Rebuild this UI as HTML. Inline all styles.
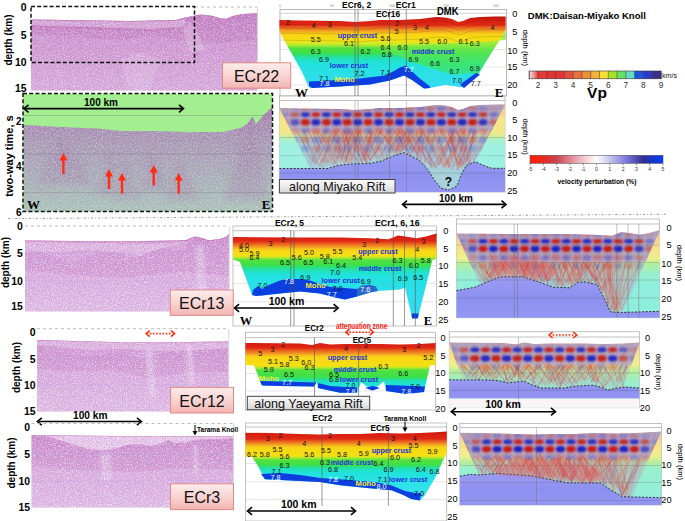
<!DOCTYPE html><html><head><meta charset="utf-8"><style>html,body{margin:0;padding:0;background:#fff;overflow:hidden}svg{display:block}</style></head><body><svg width="685" height="521" viewBox="0 0 685 521"><defs><filter id="nzw" x="0" y="0" width="100%" height="100%"><feTurbulence type="fractalNoise" baseFrequency="0.9" numOctaves="2" seed="4" result="t"/><feColorMatrix in="t" type="matrix" values="0 0 0 0 1  0 0 0 0 0.97  0 0 0 0 1  4.0 0 0 0 -1.75"/></filter><filter id="nzb" x="0" y="0" width="100%" height="100%"><feTurbulence type="fractalNoise" baseFrequency="0.9" numOctaves="1" seed="17" result="t"/><feColorMatrix in="t" type="matrix" values="0 0 0 0 0.45  0 0 0 0 0.42  0 0 0 0 0.85  0 0 4.0 0 -1.9"/></filter><filter id="nzd" x="0" y="0" width="100%" height="100%"><feTurbulence type="fractalNoise" baseFrequency="0.85" numOctaves="2" seed="9" result="t"/><feColorMatrix in="t" type="matrix" values="0 0 0 0 0.7  0 0 0 0 0.25  0 0 0 0 0.6  0 4.0 0 0 -1.85"/></filter><filter id="nzg" x="0" y="0" width="100%" height="100%"><feTurbulence type="fractalNoise" baseFrequency="0.8" numOctaves="2" seed="21" result="t"/><feColorMatrix in="t" type="matrix" values="0 0 0 0 0.62  0 0 0 0 0.86  0 0 0 0 0.7  4.0 0 0 0 -1.75"/></filter><filter id="nzp" x="0" y="0" width="100%" height="100%"><feTurbulence type="fractalNoise" baseFrequency="0.8" numOctaves="2" seed="5" result="t"/><feColorMatrix in="t" type="matrix" values="0 0 0 0 0.6  0 0 0 0 0.3  0 0 0 0 0.62  0 4.0 0 0 -1.8"/></filter><filter id="bl1" x="-20%" y="-20%" width="140%" height="140%"><feGaussianBlur stdDeviation="0.9"/></filter><filter id="bl3" x="-30%" y="-30%" width="160%" height="160%"><feGaussianBlur stdDeviation="3.5"/></filter><filter id="bl2" x="-20%" y="-20%" width="140%" height="140%"><feGaussianBlur stdDeviation="1.6"/></filter><linearGradient id="g1" gradientUnits="userSpaceOnUse" x1="0" y1="13.3" x2="0" y2="90.5"><stop offset="0" stop-color="#c47abe"/><stop offset="0.3" stop-color="#cc8ec8"/><stop offset="1" stop-color="#d8aad8"/></linearGradient><clipPath id="sc1"><polygon points="31.0,19.4 80.0,20.2 130.0,21.0 176.0,19.9 185.0,17.5 193.0,15.9 200.0,14.5 206.0,15.0 213.0,15.9 220.0,18.2 226.0,18.7 233.0,15.9 242.0,14.0 257.0,13.3 257.0,90.5 31.0,90.5"/></clipPath><linearGradient id="g2" gradientUnits="userSpaceOnUse" x1="0" y1="107.5" x2="0" y2="211"><stop offset="0" stop-color="#a06c9c"/><stop offset="0.3" stop-color="#a48eaa"/><stop offset="1" stop-color="#a4cab0"/></linearGradient><clipPath id="sc2"><polygon points="24.0,124.9 60.0,127.0 100.0,128.8 122.0,130.9 153.0,131.0 184.0,132.0 224.0,132.0 242.0,127.6 248.0,123.0 252.5,116.6 256.0,124.3 263.0,115.5 270.6,108.8 272.0,107.5 272.0,211.0 24.0,211.0"/></clipPath><linearGradient id="g3" gradientUnits="userSpaceOnUse" x1="0" y1="16" x2="0" y2="87"><stop offset="0.0" stop-color="#b01610"/><stop offset="0.056338028169014086" stop-color="#d81e10"/><stop offset="0.1267605633802817" stop-color="#e02814"/><stop offset="0.15492957746478872" stop-color="#e85a1c"/><stop offset="0.19014084507042253" stop-color="#f08a24"/><stop offset="0.22535211267605634" stop-color="#f4b420"/><stop offset="0.2605633802816901" stop-color="#f8d414"/><stop offset="0.352112676056338" stop-color="#f4e014"/><stop offset="0.38028169014084506" stop-color="#d8ec24"/><stop offset="0.4154929577464789" stop-color="#a8e830"/><stop offset="0.4507042253521127" stop-color="#54e040"/><stop offset="0.5211267605633803" stop-color="#3ce048"/><stop offset="0.5633802816901409" stop-color="#28e08c"/><stop offset="0.6197183098591549" stop-color="#20e2c8"/><stop offset="0.6901408450704225" stop-color="#22e2e0"/><stop offset="0.9859154929577465" stop-color="#34dcee"/></linearGradient><linearGradient id="g4" gradientUnits="userSpaceOnUse" x1="0" y1="42" x2="0" y2="80"><stop offset="0" stop-color="#9cec38"/><stop offset="0.25" stop-color="#5ae650"/><stop offset="0.6" stop-color="#3ce468"/><stop offset="1" stop-color="#30e0a0"/></linearGradient><linearGradient id="g5" gradientUnits="userSpaceOnUse" x1="0" y1="62.8" x2="0" y2="88.2"><stop offset="0" stop-color="#fdeceb"/><stop offset="0.5" stop-color="#f8d4d2"/><stop offset="1" stop-color="#f2b4b2"/></linearGradient><linearGradient id="g6" gradientUnits="userSpaceOnUse" x1="0" y1="104" x2="0" y2="192"><stop offset="0" stop-color="#f2b09a"/><stop offset="0.06" stop-color="#f4c690"/><stop offset="0.12" stop-color="#f6d88a"/><stop offset="0.17" stop-color="#f6e488"/><stop offset="0.33" stop-color="#f0e68a"/><stop offset="0.37" stop-color="#ccee9c"/><stop offset="0.41" stop-color="#aaf0cc"/><stop offset="0.47" stop-color="#9ef0e0"/><stop offset="1" stop-color="#9ef0e0"/></linearGradient><linearGradient id="g7" gradientUnits="userSpaceOnUse" x1="0" y1="152.6" x2="0" y2="192"><stop offset="0" stop-color="#9a9cf2"/><stop offset="0.5" stop-color="#8e90f0"/><stop offset="1" stop-color="#9496f2"/></linearGradient><clipPath id="c1"><polygon points="279.4,108.0 300.0,108.5 340.0,109.0 355.0,110.0 370.0,109.0 380.0,108.0 400.0,108.0 410.0,107.5 420.0,107.0 428.0,106.0 436.0,105.0 445.0,105.5 452.0,107.0 458.0,110.0 463.0,109.0 470.0,106.0 480.0,105.0 495.0,104.5 505.0,104.5 475.7,161.8 475.6,161.8 466.4,165.3 461.8,173.3 457.0,186.0 449.0,190.0 441.0,188.3 434.2,180.0 427.3,168.7 418.0,159.5 404.2,152.6 394.0,155.7 381.0,161.2 370.0,163.4 352.0,163.9 339.0,165.2 328.0,168.5 309.9,168.5"/></clipPath><linearGradient id="g8" gradientUnits="userSpaceOnUse" x1="0" y1="104" x2="0" y2="131"><stop offset="0" stop-color="#a09ec8"/><stop offset="0.75" stop-color="#a6a2c8"/><stop offset="1" stop-color="#b4aed0"/></linearGradient><linearGradient id="g9" gradientUnits="userSpaceOnUse" x1="0" y1="179.5" x2="0" y2="193"><stop offset="0" stop-color="#fafafa"/><stop offset="0.5" stop-color="#ececec"/><stop offset="1" stop-color="#d4d4d4"/></linearGradient><linearGradient id="g10" gradientUnits="userSpaceOnUse" x1="529.2" y1="0" x2="537.9866666666667" y2="0"><stop offset="0" stop-color="#f8e8e8"/><stop offset="1" stop-color="#e84444"/></linearGradient><linearGradient id="g11" gradientUnits="userSpaceOnUse" x1="530" y1="0" x2="663" y2="0"><stop offset="0" stop-color="#ff1c0c"/><stop offset="0.1" stop-color="#e82a1c"/><stop offset="0.2" stop-color="#c84450"/><stop offset="0.35" stop-color="#eaa8b0"/><stop offset="0.5" stop-color="#ffffff"/><stop offset="0.6" stop-color="#c4c4ec"/><stop offset="0.72" stop-color="#7c7ce0"/><stop offset="0.85" stop-color="#303090"/><stop offset="0.92" stop-color="#1a36c8"/><stop offset="1" stop-color="#0040ff"/></linearGradient><linearGradient id="g12" gradientUnits="userSpaceOnUse" x1="0" y1="233.7" x2="0" y2="311.5"><stop offset="0" stop-color="#cc86c8"/><stop offset="0.3" stop-color="#d8a4d8"/><stop offset="1" stop-color="#e2bee4"/></linearGradient><clipPath id="sc3"><polygon points="25.0,240.4 120.0,241.4 186.0,240.3 190.6,238.0 196.0,236.6 201.7,238.0 208.3,240.3 219.3,239.2 226.0,237.0 228.8,233.7 228.8,311.5 25.0,311.5"/></clipPath><linearGradient id="g13" gradientUnits="userSpaceOnUse" x1="0" y1="233" x2="0" y2="296"><stop offset="0.0" stop-color="#c01810"/><stop offset="0.06349206349206349" stop-color="#d81e10"/><stop offset="0.12698412698412698" stop-color="#e02814"/><stop offset="0.16666666666666666" stop-color="#e85a1c"/><stop offset="0.20634920634920634" stop-color="#f08a24"/><stop offset="0.23809523809523808" stop-color="#f4b420"/><stop offset="0.2698412698412698" stop-color="#f8d414"/><stop offset="0.36507936507936506" stop-color="#f4e014"/><stop offset="0.3968253968253968" stop-color="#a8e830"/><stop offset="0.42857142857142855" stop-color="#54e040"/><stop offset="0.5079365079365079" stop-color="#3ce048"/><stop offset="0.5555555555555556" stop-color="#28e08c"/><stop offset="0.6190476190476191" stop-color="#20e2c8"/><stop offset="0.6825396825396826" stop-color="#22e2e0"/><stop offset="1.0" stop-color="#30dcec"/></linearGradient><linearGradient id="g14" gradientUnits="userSpaceOnUse" x1="0" y1="233" x2="0" y2="318"><stop offset="0" stop-color="#f4b8a0"/><stop offset="0.08" stop-color="#f6d49a"/><stop offset="0.2" stop-color="#f6e48a"/><stop offset="0.3" stop-color="#eef08c"/><stop offset="0.36" stop-color="#b4ee9c"/><stop offset="0.48" stop-color="#98f0cc"/><stop offset="0.6" stop-color="#90eedc"/><stop offset="1" stop-color="#90eedc"/></linearGradient><linearGradient id="g15" gradientUnits="userSpaceOnUse" x1="0" y1="276.8" x2="0" y2="317.8"><stop offset="0" stop-color="#9a9cf2"/><stop offset="0.5" stop-color="#8e90f0"/><stop offset="1" stop-color="#9496f2"/></linearGradient><clipPath id="c2"><polygon points="456.5,233.5 523.5,234.0 563.5,234.0 593.5,234.7 612.1,235.7 621.5,231.9 628.9,232.9 640.0,234.7 649.4,232.9 660.0,230.1 622.5,312.4 620.0,312.5 610.4,311.8 603.2,296.2 597.2,284.7 584.0,281.8 578.0,282.3 569.6,287.8 553.3,287.2 537.2,281.4 523.3,276.8 500.3,276.8 491.0,280.3 479.9,285.1"/></clipPath><linearGradient id="g16" gradientUnits="userSpaceOnUse" x1="0" y1="230" x2="0" y2="262"><stop offset="0" stop-color="#a09ec8"/><stop offset="0.75" stop-color="#a6a2c8"/><stop offset="1" stop-color="#b4aed0"/></linearGradient><linearGradient id="g17" gradientUnits="userSpaceOnUse" x1="0" y1="290" x2="0" y2="315.4"><stop offset="0" stop-color="#fdeceb"/><stop offset="0.5" stop-color="#f8d4d2"/><stop offset="1" stop-color="#f2b4b2"/></linearGradient><linearGradient id="g18" gradientUnits="userSpaceOnUse" x1="0" y1="339.9" x2="0" y2="411.6"><stop offset="0" stop-color="#cc86c8"/><stop offset="0.3" stop-color="#d8a4d8"/><stop offset="1" stop-color="#e2bee4"/></linearGradient><clipPath id="sc4"><polygon points="37.0,339.9 130.0,342.4 186.0,342.0 228.2,341.4 228.2,411.6 37.0,411.6"/></clipPath><linearGradient id="g19" gradientUnits="userSpaceOnUse" x1="0" y1="341" x2="0" y2="394"><stop offset="0.0" stop-color="#c01810"/><stop offset="0.05660377358490566" stop-color="#d81e10"/><stop offset="0.1320754716981132" stop-color="#e02814"/><stop offset="0.16981132075471697" stop-color="#e85a1c"/><stop offset="0.22641509433962265" stop-color="#f08a24"/><stop offset="0.2641509433962264" stop-color="#f4b420"/><stop offset="0.3018867924528302" stop-color="#f8d414"/><stop offset="0.4716981132075472" stop-color="#f4e014"/><stop offset="0.5094339622641509" stop-color="#a8e830"/><stop offset="0.5471698113207547" stop-color="#54e040"/><stop offset="0.6792452830188679" stop-color="#3ce048"/><stop offset="0.7169811320754716" stop-color="#28e08c"/><stop offset="0.7735849056603774" stop-color="#20e2c8"/><stop offset="0.8490566037735849" stop-color="#22e2e0"/><stop offset="1.0" stop-color="#30dcec"/></linearGradient><linearGradient id="g20" gradientUnits="userSpaceOnUse" x1="0" y1="396.3" x2="0" y2="409.7"><stop offset="0" stop-color="#fafafa"/><stop offset="0.5" stop-color="#ececec"/><stop offset="1" stop-color="#d4d4d4"/></linearGradient><linearGradient id="g21" gradientUnits="userSpaceOnUse" x1="0" y1="342" x2="0" y2="407.8"><stop offset="0" stop-color="#f4b8a0"/><stop offset="0.1" stop-color="#f6d49a"/><stop offset="0.2" stop-color="#f6e48a"/><stop offset="0.35" stop-color="#eef08c"/><stop offset="0.45" stop-color="#b4ee9c"/><stop offset="0.6" stop-color="#98f0cc"/><stop offset="1" stop-color="#90eedc"/></linearGradient><linearGradient id="g22" gradientUnits="userSpaceOnUse" x1="0" y1="379.8" x2="0" y2="398.6"><stop offset="0" stop-color="#9a9cf2"/><stop offset="0.5" stop-color="#8e90f0"/><stop offset="1" stop-color="#9496f2"/></linearGradient><clipPath id="c3"><polygon points="449.2,342.5 503.8,343.0 515.8,344.5 523.8,342.5 533.8,344.0 548.8,343.5 563.8,343.5 583.8,343.5 603.8,344.0 623.8,343.5 639.4,342.5 623.6,387.2 617.6,388.0 608.0,390.0 600.0,387.0 593.6,385.2 575.4,386.0 565.0,388.0 541.0,388.0 532.0,385.0 523.7,381.0 515.0,382.0 508.0,383.0 500.0,381.0 489.0,380.0 462.5,379.9"/></clipPath><linearGradient id="g23" gradientUnits="userSpaceOnUse" x1="0" y1="340" x2="0" y2="365"><stop offset="0" stop-color="#a09ec8"/><stop offset="0.75" stop-color="#a6a2c8"/><stop offset="1" stop-color="#b4aed0"/></linearGradient><linearGradient id="g24" gradientUnits="userSpaceOnUse" x1="0" y1="387.4" x2="0" y2="413"><stop offset="0" stop-color="#fdeceb"/><stop offset="0.5" stop-color="#f8d4d2"/><stop offset="1" stop-color="#f2b4b2"/></linearGradient><linearGradient id="g25" gradientUnits="userSpaceOnUse" x1="0" y1="435.3" x2="0" y2="507.6"><stop offset="0" stop-color="#cc86c8"/><stop offset="0.3" stop-color="#d8a4d8"/><stop offset="1" stop-color="#e2bee4"/></linearGradient><clipPath id="sc5"><polygon points="31.5,435.3 120.0,436.0 233.0,436.4 233.0,507.6 31.5,507.6"/></clipPath><linearGradient id="g26" gradientUnits="userSpaceOnUse" x1="0" y1="483.8" x2="0" y2="509.6"><stop offset="0" stop-color="#fdeceb"/><stop offset="0.5" stop-color="#f8d4d2"/><stop offset="1" stop-color="#f2b4b2"/></linearGradient><linearGradient id="g27" gradientUnits="userSpaceOnUse" x1="0" y1="431" x2="0" y2="490"><stop offset="0.0" stop-color="#c01810"/><stop offset="0.05084745762711865" stop-color="#d81e10"/><stop offset="0.13559322033898305" stop-color="#e02814"/><stop offset="0.1694915254237288" stop-color="#e85a1c"/><stop offset="0.211864406779661" stop-color="#f08a24"/><stop offset="0.2457627118644068" stop-color="#f4b420"/><stop offset="0.2796610169491525" stop-color="#f8d414"/><stop offset="0.423728813559322" stop-color="#f4e014"/><stop offset="0.4576271186440678" stop-color="#a8e830"/><stop offset="0.4915254237288136" stop-color="#54e040"/><stop offset="0.576271186440678" stop-color="#3ce048"/><stop offset="0.6101694915254238" stop-color="#28e08c"/><stop offset="0.6610169491525424" stop-color="#20e2c8"/><stop offset="0.7288135593220338" stop-color="#22e2e0"/><stop offset="1.0" stop-color="#34e2ee"/></linearGradient><linearGradient id="g28" gradientUnits="userSpaceOnUse" x1="0" y1="432" x2="0" y2="505"><stop offset="0" stop-color="#f4b8a0"/><stop offset="0.1" stop-color="#f6d49a"/><stop offset="0.2" stop-color="#f6e48a"/><stop offset="0.33" stop-color="#eef08c"/><stop offset="0.42" stop-color="#b4ee9c"/><stop offset="0.5" stop-color="#98f0cc"/><stop offset="1" stop-color="#90eedc"/></linearGradient><linearGradient id="g29" gradientUnits="userSpaceOnUse" x1="0" y1="473.4" x2="0" y2="505"><stop offset="0" stop-color="#9a9cf2"/><stop offset="0.5" stop-color="#8e90f0"/><stop offset="1" stop-color="#9496f2"/></linearGradient><clipPath id="c4"><polygon points="459.9,432.8 484.4,433.0 514.4,434.0 534.4,434.5 554.4,434.0 574.4,434.0 594.4,433.0 614.4,433.5 634.4,433.0 654.4,432.0 661.2,431.5 631.8,496.9 622.3,496.7 611.0,490.0 600.6,483.0 567.0,482.8 548.9,479.3 533.0,476.0 515.0,474.5 497.4,473.4 479.7,475.0 479.1,475.0"/></clipPath><linearGradient id="g30" gradientUnits="userSpaceOnUse" x1="0" y1="430" x2="0" y2="458"><stop offset="0" stop-color="#a09ec8"/><stop offset="0.75" stop-color="#a6a2c8"/><stop offset="1" stop-color="#b4aed0"/></linearGradient></defs><polygon points="31.0,19.4 80.0,20.2 130.0,21.0 176.0,19.9 185.0,17.5 193.0,15.9 200.0,14.5 206.0,15.0 213.0,15.9 220.0,18.2 226.0,18.7 233.0,15.9 242.0,14.0 257.0,13.3 257.0,90.5 31.0,90.5" fill="url(#g1)" />
<g clip-path="url(#sc1)">
<polygon points="31.0,19.4 80.0,20.2 130.0,21.0 176.0,19.9 185.0,17.5 193.0,15.9 200.0,14.5 206.0,15.0 213.0,15.9 220.0,18.2 226.0,18.7 233.0,15.9 242.0,14.0 257.0,13.3 257.0,40.0 230.0,42.0 200.0,44.0 170.0,38.0 150.0,36.0 120.0,40.0 90.0,38.0 60.0,36.0 31.0,34.0" fill="#b868b0" opacity="0.35"/>
<polygon points="120.0,60.0 140.0,52.0 160.0,60.0 150.0,90.0 130.0,90.0" fill="#f0d8f0" opacity="0.3"/>
<polygon points="31.0,20.5 80.0,21.2 130.0,22.0 176.0,21.0 185.0,19.0 185.0,27.0 150.0,29.0 100.0,27.0 60.0,26.0 31.0,25.0" fill="#f4e0f4" opacity="0.4"/>
<polyline points="31.0,26.0 60.0,27.0 100.0,28.0 150.0,30.0 185.0,27.0" fill="none" stroke="#a8306e" stroke-width="0.8" opacity="0.35"/>
<polygon points="183.0,30.0 190.0,22.0 197.0,30.0 205.0,50.0 190.0,52.0" fill="#f4e0f4" opacity="0.35"/>
<polyline points="31.0,19.4 80.0,20.2 130.0,21.0 176.0,19.9 185.0,17.5 193.0,15.9 200.0,14.5 206.0,15.0 213.0,15.9 220.0,18.2 226.0,18.7 233.0,15.9 242.0,14.0 257.0,13.3" fill="none" stroke="#a8306e" stroke-width="1.0" opacity="0.4"/>
<rect x="31" y="13.3" width="226" height="77.2" fill="#fff" filter="url(#nzw)" opacity="0.45"/>
<rect x="31" y="13.3" width="226" height="77.2" fill="#fff" filter="url(#nzd)" opacity="0.5"/>
<rect x="31" y="13.3" width="226" height="77.2" fill="#fff" filter="url(#nzb)" opacity="0.5"/>
</g>
<line x1="195" y1="7" x2="257" y2="7" stroke="#aaa" stroke-width="0.8" stroke-dasharray="3,3"/>
<line x1="257.5" y1="7" x2="257.5" y2="90" stroke="#bbb" stroke-width="0.6" />
<rect x="31" y="6.5" width="163.5" height="56" fill="none" stroke="#111" stroke-width="1.5" stroke-dasharray="4,2.2"/>
<text x="26.5" y="10.844" font-family='"Liberation Sans", sans-serif' font-size="10.4" font-weight="bold" text-anchor="end" fill="#000">0</text>
<text x="26.5" y="38.944" font-family='"Liberation Sans", sans-serif' font-size="10.4" font-weight="bold" text-anchor="end" fill="#000">5</text>
<text x="26.5" y="65.644" font-family='"Liberation Sans", sans-serif' font-size="10.4" font-weight="bold" text-anchor="end" fill="#000">10</text>
<text x="26.5" y="92.244" font-family='"Liberation Sans", sans-serif' font-size="10.4" font-weight="bold" text-anchor="end" fill="#000">15</text>
<text x="12.0" y="40" font-family='"Liberation Sans", sans-serif' font-size="10" font-weight="bold" text-anchor="middle" fill="#000" transform="rotate(-90 12.0 40)">depth (km)</text>
<rect x="23" y="94" width="249.5" height="117.5" fill="#a2ee90" />
<polygon points="24.0,124.9 60.0,127.0 100.0,128.8 122.0,130.9 153.0,131.0 184.0,132.0 224.0,132.0 242.0,127.6 248.0,123.0 252.5,116.6 256.0,124.3 263.0,115.5 270.6,108.8 272.0,107.5 272.0,211.0 24.0,211.0" fill="url(#g2)" />
<g clip-path="url(#sc2)">
<g filter="url(#bl3)" opacity="0.25">
<polygon points="35.0,185.0 62.0,138.0 95.0,185.0" fill="#9a5a96" />
<polygon points="95.0,195.0 112.0,150.0 118.0,195.0" fill="#9a5a96" />
<polygon points="115.0,200.0 124.0,152.0 140.0,200.0" fill="#9a5a96" />
<polygon points="140.0,190.0 152.0,148.0 170.0,190.0" fill="#9a5a96" />
<polygon points="165.0,200.0 180.0,158.0 200.0,200.0" fill="#9a5a96" />
<polygon points="225.0,200.0 250.0,118.0 268.0,200.0" fill="#9a5a96" />
</g>
<rect x="24" y="107.5" width="248" height="103.5" fill="#fff" filter="url(#nzg)" opacity="0.5"/>
<rect x="24" y="107.5" width="248" height="103.5" fill="#fff" filter="url(#nzp)" opacity="0.45"/>
<rect x="24" y="107.5" width="248" height="103.5" fill="#fff" filter="url(#nzb)" opacity="0.45"/>
</g>
<line x1="24" y1="115.5" x2="272" y2="115.5" stroke="#777" stroke-width="0.5" opacity="0.7"/>
<line x1="24" y1="154" x2="272" y2="154" stroke="#777" stroke-width="0.5" opacity="0.7"/>
<line x1="24" y1="192.4" x2="272" y2="192.4" stroke="#777" stroke-width="0.5" opacity="0.7"/>
<rect x="23" y="93.6" width="249.5" height="118" fill="none" stroke="#111" stroke-width="1.5" stroke-dasharray="4,2.2"/>
<line x1="25.5" y1="108.6" x2="182" y2="108.6" stroke="#000" stroke-width="1.6" />
<polyline points="28.5,104.8 24.0,108.6 28.5,112.3" fill="none" stroke="#000" stroke-width="1.6" stroke-linejoin="miter"/>
<polyline points="179.0,104.8 183.5,108.6 179.0,112.3" fill="none" stroke="#000" stroke-width="1.6" stroke-linejoin="miter"/>
<text x="101" y="106" font-family='"Liberation Sans", sans-serif' font-size="10" font-weight="bold" text-anchor="middle" fill="#000">100 km</text>
<polygon points="63.4,153.0 59.4,160.5 62.2,160.5 62.2,174.0 64.6,174.0 64.6,160.5 67.4,160.5" fill="#ff2d14" />
<polygon points="109.0,169.0 105.0,176.5 107.8,176.5 107.8,189.0 110.2,189.0 110.2,176.5 113.0,176.5" fill="#ff2d14" />
<polygon points="122.0,173.0 118.0,180.5 120.8,180.5 120.8,193.5 123.2,193.5 123.2,180.5 126.0,180.5" fill="#ff2d14" />
<polygon points="153.7,165.0 149.7,172.5 152.5,172.5 152.5,185.5 154.9,185.5 154.9,172.5 157.7,172.5" fill="#ff2d14" />
<polygon points="178.7,173.0 174.7,180.5 177.5,180.5 177.5,193.5 179.9,193.5 179.9,180.5 182.7,180.5" fill="#ff2d14" />
<text x="21.5" y="125" font-family='"Liberation Sans", sans-serif' font-size="10" font-weight="bold" text-anchor="end" fill="#000">2</text>
<text x="21.5" y="169.5" font-family='"Liberation Sans", sans-serif' font-size="10" font-weight="bold" text-anchor="end" fill="#000">4</text>
<text x="21.5" y="216" font-family='"Liberation Sans", sans-serif' font-size="10" font-weight="bold" text-anchor="end" fill="#000">6</text>
<text x="13.3" y="156" font-family='"Liberation Sans", sans-serif' font-size="11" font-weight="bold" text-anchor="middle" fill="#000" transform="rotate(-90 13.3 156)">two-way time, s</text>
<text x="33.5" y="208.5" font-family='"Liberation Serif", serif' font-size="13" font-weight="bold" text-anchor="middle" fill="#000">W</text>
<text x="266" y="208.5" font-family='"Liberation Serif", serif' font-size="13" font-weight="bold" text-anchor="middle" fill="#000">E</text>
<rect x="280.0" y="9.4" width="226.3" height="86.6" fill="#fff" stroke="#888" stroke-width="0.6"/>
<line x1="279.4" y1="13.3" x2="505.7" y2="13.3" stroke="#bbb" stroke-width="0.6" />
<text x="280" y="6.5" font-family='"Liberation Sans", sans-serif' font-size="3.5" font-weight="normal" text-anchor="middle" fill="#888">0</text>
<text x="332" y="6.5" font-family='"Liberation Sans", sans-serif' font-size="3.5" font-weight="normal" text-anchor="middle" fill="#888">50</text>
<text x="392" y="6.5" font-family='"Liberation Sans", sans-serif' font-size="3.5" font-weight="normal" text-anchor="middle" fill="#888">100</text>
<text x="446" y="6.5" font-family='"Liberation Sans", sans-serif' font-size="3.5" font-weight="normal" text-anchor="middle" fill="#888">150</text>
<text x="496" y="6.5" font-family='"Liberation Sans", sans-serif' font-size="3.5" font-weight="normal" text-anchor="middle" fill="#888">200</text>
<line x1="279.4" y1="32" x2="505.7" y2="32" stroke="#c8c8e0" stroke-width="0.5" />
<line x1="279.4" y1="49.5" x2="505.7" y2="49.5" stroke="#c8c8e0" stroke-width="0.5" />
<line x1="279.4" y1="67" x2="505.7" y2="67" stroke="#c8c8e0" stroke-width="0.5" />
<line x1="279.4" y1="85" x2="505.7" y2="85" stroke="#c8c8e0" stroke-width="0.5" />
<polygon points="279.4,20.0 300.0,20.5 340.0,21.0 355.0,22.0 370.0,21.0 380.0,20.0 400.0,20.0 410.0,19.5 420.0,19.0 428.0,18.0 436.0,17.0 445.0,17.5 452.0,19.0 458.0,22.0 463.0,21.0 470.0,18.0 480.0,17.0 495.0,16.5 505.7,16.5 505.7,30.0 495.0,47.0 485.0,63.0 478.0,75.0 464.0,87.5 445.0,85.0 430.0,88.0 424.0,88.5 412.0,80.0 404.0,75.5 390.0,80.5 370.0,84.5 340.0,86.5 312.0,88.0 309.0,87.5 302.0,72.0 294.0,57.6 283.0,38.4 279.4,30.0" fill="url(#g3)" />
<polygon points="378.0,49.0 400.0,46.0 440.0,44.0 480.0,42.0 505.7,40.0 505.7,30.0 495.0,47.0 485.0,63.0 478.0,75.0 470.0,73.0 455.0,75.0 440.0,71.0 425.0,66.0 412.0,62.0 402.0,57.0 390.0,53.0" fill="url(#g4)" opacity="0.9"/>
<polyline points="279.4,24.0 300.0,24.5 340.0,25.0 355.0,26.0 370.0,25.0 380.0,24.0 400.0,24.0 410.0,23.5 420.0,23.0 428.0,22.0 436.0,21.0 445.0,21.5 452.0,23.0 458.0,26.0 463.0,25.0 470.0,22.0 480.0,21.0 495.0,20.5 505.7,20.5" fill="none" stroke="#7a1a10" stroke-width="0.4" opacity="0.6"/>
<polyline points="279.4,28.0 300.0,28.5 340.0,29.0 355.0,30.0 370.0,29.0 380.0,28.0 400.0,28.0 410.0,27.5 420.0,27.0 428.0,26.0 436.0,25.0 445.0,25.5 452.0,27.0 458.0,30.0 463.0,29.0 470.0,26.0 480.0,25.0 495.0,24.5 505.7,24.5" fill="none" stroke="#8a3010" stroke-width="0.4" opacity="0.6"/>
<polyline points="279.4,33.0 300.0,33.5 340.0,34.0 355.0,35.0 370.0,34.0 380.0,33.0 400.0,33.0 410.0,32.5 420.0,32.0 428.0,31.0 436.0,30.0 445.0,30.5 452.0,32.0 458.0,35.0 463.0,34.0 470.0,31.0 480.0,30.0 495.0,29.5 505.7,29.5" fill="none" stroke="#806010" stroke-width="0.4" opacity="0.6"/>
<polyline points="279.4,40.0 300.0,40.5 340.0,41.0 355.0,42.0 370.0,41.0 380.0,40.0 400.0,40.0 410.0,39.5 420.0,39.0 428.0,38.0 436.0,37.0 445.0,37.5 452.0,39.0 458.0,42.0 463.0,41.0 470.0,38.0 480.0,37.0 495.0,36.5 505.7,36.5" fill="none" stroke="#706a10" stroke-width="0.4" opacity="0.6"/>
<polygon points="309.0,81.5 340.0,80.0 360.0,78.5 385.0,75.5 395.0,70.5 400.0,67.5 405.8,65.5 418.0,77.0 430.0,86.5 430.0,88.0 424.0,88.5 412.0,80.0 404.0,75.5 390.0,80.5 370.0,84.5 340.0,86.5 312.0,88.0 309.0,86.0" fill="#0c3ee0" />
<polygon points="460.0,84.5 476.0,73.0 480.0,74.5 464.0,88.0" fill="#0c3ee0" />
<line x1="355" y1="9.4" x2="355" y2="96" stroke="#555" stroke-width="0.6" />
<line x1="358" y1="9.4" x2="358" y2="96" stroke="#555" stroke-width="0.6" />
<line x1="389.5" y1="9.4" x2="389.5" y2="96" stroke="#555" stroke-width="0.6" />
<line x1="406.3" y1="9.4" x2="406.3" y2="96" stroke="#555" stroke-width="0.6" />
<text x="288" y="25.192" font-family='"Liberation Sans", sans-serif' font-size="7.2" font-weight="normal" text-anchor="middle" fill="#111">2</text>
<text x="313.4" y="28.092" font-family='"Liberation Sans", sans-serif' font-size="7.2" font-weight="normal" text-anchor="middle" fill="#111">4</text>
<text x="329.7" y="27.192" font-family='"Liberation Sans", sans-serif' font-size="7.2" font-weight="normal" text-anchor="middle" fill="#111">3</text>
<text x="315.7" y="41.592" font-family='"Liberation Sans", sans-serif' font-size="7.2" font-weight="normal" text-anchor="middle" fill="#111">5.5</text>
<text x="349" y="46.391999999999996" font-family='"Liberation Sans", sans-serif' font-size="7.2" font-weight="normal" text-anchor="middle" fill="#111">6.1</text>
<text x="385.4" y="40.592" font-family='"Liberation Sans", sans-serif' font-size="7.2" font-weight="normal" text-anchor="middle" fill="#111">5.6</text>
<text x="315.7" y="53.992" font-family='"Liberation Sans", sans-serif' font-size="7.2" font-weight="normal" text-anchor="middle" fill="#111">6.3</text>
<text x="365.6" y="53.992" font-family='"Liberation Sans", sans-serif' font-size="7.2" font-weight="normal" text-anchor="middle" fill="#111">6.2</text>
<text x="385.4" y="50.192" font-family='"Liberation Sans", sans-serif' font-size="7.2" font-weight="normal" text-anchor="middle" fill="#111">6.4</text>
<text x="386.7" y="56.891999999999996" font-family='"Liberation Sans", sans-serif' font-size="7.2" font-weight="normal" text-anchor="middle" fill="#111">6.8</text>
<text x="324" y="61.592" font-family='"Liberation Sans", sans-serif' font-size="7.2" font-weight="normal" text-anchor="middle" fill="#111">6.9</text>
<text x="359.5" y="76.092" font-family='"Liberation Sans", sans-serif' font-size="7.2" font-weight="normal" text-anchor="middle" fill="#111">7.2</text>
<text x="385.4" y="74.592" font-family='"Liberation Sans", sans-serif' font-size="7.2" font-weight="normal" text-anchor="middle" fill="#111">7.1</text>
<text x="324" y="81.292" font-family='"Liberation Sans", sans-serif' font-size="7.2" font-weight="normal" text-anchor="middle" fill="#111">7.1</text>
<text x="324.5" y="86.492" font-family='"Liberation Sans", sans-serif' font-size="7.2" font-weight="normal" text-anchor="middle" fill="#fff">7.8</text>
<text x="408.7" y="71.592" font-family='"Liberation Sans", sans-serif' font-size="7.2" font-weight="normal" text-anchor="middle" fill="#fff">7.7</text>
<text x="397.2" y="26.291999999999998" font-family='"Liberation Sans", sans-serif' font-size="7.2" font-weight="normal" text-anchor="middle" fill="#111">2</text>
<text x="415" y="30.192" font-family='"Liberation Sans", sans-serif' font-size="7.2" font-weight="normal" text-anchor="middle" fill="#111">3</text>
<text x="426.8" y="30.192" font-family='"Liberation Sans", sans-serif' font-size="7.2" font-weight="normal" text-anchor="middle" fill="#111">4</text>
<text x="396.8" y="34.192" font-family='"Liberation Sans", sans-serif' font-size="7.2" font-weight="normal" text-anchor="middle" fill="#111">5</text>
<text x="424" y="44.391999999999996" font-family='"Liberation Sans", sans-serif' font-size="7.2" font-weight="normal" text-anchor="middle" fill="#111">5.5</text>
<text x="442.2" y="44.391999999999996" font-family='"Liberation Sans", sans-serif' font-size="7.2" font-weight="normal" text-anchor="middle" fill="#111">6.0</text>
<text x="463.5" y="43.592" font-family='"Liberation Sans", sans-serif' font-size="7.2" font-weight="normal" text-anchor="middle" fill="#111">6.1</text>
<text x="474.7" y="45.992" font-family='"Liberation Sans", sans-serif' font-size="7.2" font-weight="normal" text-anchor="middle" fill="#111">6.3</text>
<text x="402.4" y="49.592" font-family='"Liberation Sans", sans-serif' font-size="7.2" font-weight="normal" text-anchor="middle" fill="#111">6.0</text>
<text x="413.6" y="61.792" font-family='"Liberation Sans", sans-serif' font-size="7.2" font-weight="normal" text-anchor="middle" fill="#111">6.9</text>
<text x="454.4" y="61.792" font-family='"Liberation Sans", sans-serif' font-size="7.2" font-weight="normal" text-anchor="middle" fill="#111">6.3</text>
<text x="435" y="65.69200000000001" font-family='"Liberation Sans", sans-serif' font-size="7.2" font-weight="normal" text-anchor="middle" fill="#111">6.6</text>
<text x="454.4" y="73.592" font-family='"Liberation Sans", sans-serif' font-size="7.2" font-weight="normal" text-anchor="middle" fill="#111">6.7</text>
<text x="474.7" y="70.592" font-family='"Liberation Sans", sans-serif' font-size="7.2" font-weight="normal" text-anchor="middle" fill="#111">6.9</text>
<text x="457" y="83.492" font-family='"Liberation Sans", sans-serif' font-size="7.2" font-weight="normal" text-anchor="middle" fill="#111">7.0</text>
<text x="475.7" y="86.392" font-family='"Liberation Sans", sans-serif' font-size="7.2" font-weight="normal" text-anchor="middle" fill="#111">7.7</text>
<text x="492.5" y="30.192" font-family='"Liberation Sans", sans-serif' font-size="7.2" font-weight="normal" text-anchor="middle" fill="#111">4</text>
<text x="357.5" y="38.092" font-family='"Liberation Sans", sans-serif' font-size="7.2" font-weight="bold" text-anchor="middle" fill="#2230d8">upper crust</text>
<text x="349" y="67.892" font-family='"Liberation Sans", sans-serif' font-size="7.2" font-weight="bold" text-anchor="middle" fill="#2230d8">lower crust</text>
<text x="433" y="54.492" font-family='"Liberation Sans", sans-serif' font-size="7.2" font-weight="bold" text-anchor="middle" fill="#2230d8">middle crust</text>
<text x="344.5" y="82.036" font-family='"Liberation Sans", sans-serif' font-size="7.6" font-weight="bold" text-anchor="middle" fill="#f4ec3c">Moho</text>
<text x="356.6" y="8.0" font-family='"Liberation Sans", sans-serif' font-size="9.2" font-weight="bold" text-anchor="middle" fill="#000" textLength="29" lengthAdjust="spacingAndGlyphs">ECr6, 2</text>
<text x="388" y="16.8" font-family='"Liberation Sans", sans-serif' font-size="9.2" font-weight="bold" text-anchor="middle" fill="#000" textLength="24" lengthAdjust="spacingAndGlyphs">ECr16</text>
<text x="405.7" y="8.2" font-family='"Liberation Sans", sans-serif' font-size="9.2" font-weight="bold" text-anchor="middle" fill="#000" textLength="20" lengthAdjust="spacingAndGlyphs">ECr1</text>
<text x="447.8" y="15.3" font-family='"Liberation Sans", sans-serif' font-size="10.8" font-weight="bold" text-anchor="middle" fill="#000" textLength="21.5" lengthAdjust="spacingAndGlyphs">DMK</text>
<text x="517.4" y="17.312" font-family='"Liberation Sans", sans-serif' font-size="9.2" font-weight="normal" text-anchor="end" fill="#000">0</text>
<text x="517.4" y="35.412" font-family='"Liberation Sans", sans-serif' font-size="9.2" font-weight="normal" text-anchor="end" fill="#000">5</text>
<text x="517.4" y="53.512" font-family='"Liberation Sans", sans-serif' font-size="9.2" font-weight="normal" text-anchor="end" fill="#000">10</text>
<text x="517.4" y="70.312" font-family='"Liberation Sans", sans-serif' font-size="9.2" font-weight="normal" text-anchor="end" fill="#000">15</text>
<text x="517.4" y="88.112" font-family='"Liberation Sans", sans-serif' font-size="9.2" font-weight="normal" text-anchor="end" fill="#000">20</text>
<rect x="222.5" y="62.8" width="68.19999999999999" height="25.400000000000006" fill="url(#g5)" stroke="#e08a88" stroke-width="1"/>
<text x="256.6" y="82.06" font-family='"Liberation Sans", sans-serif' font-size="16" font-weight="normal" text-anchor="middle" fill="#111">ECr22</text>
<rect x="279.4" y="96" width="225.60000000000002" height="96" fill="#fff" stroke="#999" stroke-width="0.6"/>
<line x1="279.4" y1="100.5" x2="505" y2="100.5" stroke="#999" stroke-width="0.6" />
<polygon points="279.4,108.0 300.0,108.5 340.0,109.0 355.0,110.0 370.0,109.0 380.0,108.0 400.0,108.0 410.0,107.5 420.0,107.0 428.0,106.0 436.0,105.0 445.0,105.5 452.0,107.0 458.0,110.0 463.0,109.0 470.0,106.0 480.0,105.0 495.0,104.5 505.0,104.5 505.0,192.0 279.4,192.0" fill="url(#g6)" />
<polygon points="279.4,168.5 328.0,168.5 339.0,165.2 352.0,163.9 370.0,163.4 381.0,161.2 394.0,155.7 404.2,152.6 418.0,159.5 427.3,168.7 434.2,180.0 441.0,188.3 449.0,190.0 457.0,186.0 461.8,173.3 466.4,165.3 475.6,161.8 485.0,166.0 491.8,168.3 505.0,168.3 505.0,192.0 279.4,192.0" fill="url(#g7)" />
<g clip-path="url(#c1)">
<polygon points="279.4,108.0 300.0,108.5 340.0,109.0 355.0,110.0 370.0,109.0 380.0,108.0 400.0,108.0 410.0,107.5 420.0,107.0 428.0,106.0 436.0,105.0 445.0,105.5 452.0,107.0 458.0,110.0 463.0,109.0 470.0,106.0 480.0,105.0 495.0,104.5 505.0,104.5 475.7,161.8 475.6,161.8 466.4,165.3 461.8,173.3 457.0,186.0 449.0,190.0 441.0,188.3 434.2,180.0 427.3,168.7 418.0,159.5 404.2,152.6 394.0,155.7 381.0,161.2 370.0,163.4 352.0,163.9 339.0,165.2 328.0,168.5 309.9,168.5" fill="#b0a8d4" opacity="0.45"/>
<polyline points="430.2,105.7 468.4,165.0 506.6,104.5" stroke="#e89040" stroke-width="0.5" fill="none" opacity="0.30"/><polyline points="409.0,107.6 444.0,168.7 479.0,105.1" stroke="#e23a3a" stroke-width="0.5" fill="none" opacity="0.42"/><polyline points="315.5,108.7 336.1,163.5 356.8,109.9" stroke="#d84848" stroke-width="0.5" fill="none" opacity="0.53"/><polyline points="379.0,108.1 400.1,152.4 421.2,106.8" stroke="#e23a3a" stroke-width="0.5" fill="none" opacity="0.36"/><polyline points="427.5,106.1 464.4,164.7 501.2,104.5" stroke="#e23a3a" stroke-width="0.5" fill="none" opacity="0.42"/><polyline points="342.2,109.1 349.0,162.3 355.8,109.9" stroke="#d84848" stroke-width="0.5" fill="none" opacity="0.36"/><polyline points="370.0,109.0 395.0,147.4 420.1,107.0" stroke="#e85a5a" stroke-width="0.5" fill="none" opacity="0.47"/><polyline points="428.2,106.0 460.2,167.9 492.1,104.6" stroke="#e89040" stroke-width="0.5" fill="none" opacity="0.54"/><polyline points="304.9,108.6 336.6,160.5 368.2,109.1" stroke="#d84848" stroke-width="0.5" fill="none" opacity="0.32"/><polyline points="333.2,108.9 356.1,160.1 379.1,108.1" stroke="#6a70c8" stroke-width="0.5" fill="none" opacity="0.51"/><polyline points="437.4,105.1 459.0,164.5 480.7,105.0" stroke="#6a70c8" stroke-width="0.5" fill="none" opacity="0.39"/><polyline points="381.1,108.0 419.1,154.3 457.1,109.5" stroke="#d84848" stroke-width="0.5" fill="none" opacity="0.33"/><polyline points="444.5,105.5 461.0,165.8 477.5,105.2" stroke="#d84848" stroke-width="0.5" fill="none" opacity="0.42"/><polyline points="367.0,109.2 394.0,153.0 420.9,106.9" stroke="#e85a5a" stroke-width="0.5" fill="none" opacity="0.40"/><polyline points="437.6,105.1 464.8,165.1 491.9,104.6" stroke="#6a70c8" stroke-width="0.5" fill="none" opacity="0.25"/><polyline points="405.1,107.7 445.0,166.6 484.9,104.8" stroke="#e23a3a" stroke-width="0.5" fill="none" opacity="0.33"/><polyline points="311.7,108.6 347.4,164.4 383.2,108.0" stroke="#e89040" stroke-width="0.5" fill="none" opacity="0.33"/><polyline points="408.5,107.6 446.6,164.6 484.7,104.8" stroke="#e89040" stroke-width="0.5" fill="none" opacity="0.26"/><polyline points="358.1,109.8 369.9,158.3 381.8,108.0" stroke="#e23a3a" stroke-width="0.5" fill="none" opacity="0.26"/><polyline points="424.1,106.5 430.8,165.1 437.5,105.1" stroke="#e23a3a" stroke-width="0.5" fill="none" opacity="0.47"/><polyline points="390.5,108.0 396.6,150.6 402.7,107.9" stroke="#e23a3a" stroke-width="0.5" fill="none" opacity="0.30"/><polyline points="298.2,108.5 315.9,164.0 333.6,108.9" stroke="#e23a3a" stroke-width="0.5" fill="none" opacity="0.34"/><polyline points="374.4,108.6 390.9,153.0 407.4,107.6" stroke="#e23a3a" stroke-width="0.5" fill="none" opacity="0.52"/><polyline points="399.8,108.0 435.2,167.2 470.5,106.0" stroke="#e23a3a" stroke-width="0.5" fill="none" opacity="0.28"/><polyline points="389.3,108.0 423.8,165.3 458.3,109.9" stroke="#e23a3a" stroke-width="0.5" fill="none" opacity="0.41"/><polyline points="416.8,107.2 439.4,164.8 461.9,109.2" stroke="#e23a3a" stroke-width="0.5" fill="none" opacity="0.33"/><polyline points="390.1,108.0 410.4,156.5 430.6,105.7" stroke="#e23a3a" stroke-width="0.5" fill="none" opacity="0.45"/><polyline points="341.3,109.1 351.8,163.4 362.3,109.5" stroke="#e23a3a" stroke-width="0.5" fill="none" opacity="0.40"/><polyline points="435.2,105.1 472.9,154.9 510.7,104.5" stroke="#e85a5a" stroke-width="0.5" fill="none" opacity="0.27"/><polyline points="309.4,108.6 323.2,162.4 337.0,109.0" stroke="#e23a3a" stroke-width="0.5" fill="none" opacity="0.33"/><polyline points="356.1,109.9 380.0,162.4 403.9,107.8" stroke="#e85a5a" stroke-width="0.5" fill="none" opacity="0.30"/><polyline points="385.8,108.0 394.8,155.5 403.8,107.8" stroke="#e89040" stroke-width="0.5" fill="none" opacity="0.32"/><polyline points="322.2,108.8 345.9,161.3 369.6,109.0" stroke="#6a70c8" stroke-width="0.5" fill="none" opacity="0.36"/><polyline points="391.5,108.0 423.4,163.9 455.2,108.6" stroke="#e85a5a" stroke-width="0.5" fill="none" opacity="0.40"/><polyline points="398.5,108.0 406.2,150.8 413.9,107.3" stroke="#e23a3a" stroke-width="0.5" fill="none" opacity="0.53"/><polyline points="397.5,108.0 419.8,162.1 442.2,105.3" stroke="#e23a3a" stroke-width="0.5" fill="none" opacity="0.43"/><polyline points="318.4,108.7 357.9,161.4 397.3,108.0" stroke="#6a70c8" stroke-width="0.5" fill="none" opacity="0.37"/><polyline points="314.5,108.7 327.3,162.5 340.0,109.0" stroke="#e89040" stroke-width="0.5" fill="none" opacity="0.39"/><polyline points="355.4,110.0 378.0,160.9 400.5,108.0" stroke="#e23a3a" stroke-width="0.5" fill="none" opacity="0.25"/><polyline points="297.5,108.4 313.9,163.0 330.3,108.9" stroke="#e85a5a" stroke-width="0.5" fill="none" opacity="0.31"/><polyline points="385.3,108.0 404.6,149.6 423.9,106.5" stroke="#e85a5a" stroke-width="0.5" fill="none" opacity="0.52"/><polyline points="341.8,109.1 352.0,159.4 362.2,109.5" stroke="#e85a5a" stroke-width="0.5" fill="none" opacity="0.54"/><polyline points="417.9,107.1 424.7,161.2 431.5,105.6" stroke="#6a70c8" stroke-width="0.5" fill="none" opacity="0.46"/><polyline points="319.4,108.7 358.1,163.5 396.7,108.0" stroke="#e85a5a" stroke-width="0.5" fill="none" opacity="0.41"/><polyline points="350.6,109.7 389.0,151.6 427.5,106.1" stroke="#e89040" stroke-width="0.5" fill="none" opacity="0.45"/><polyline points="364.0,109.4 375.3,158.0 386.6,108.0" stroke="#6a70c8" stroke-width="0.5" fill="none" opacity="0.45"/><polyline points="436.3,105.0 462.2,166.3 488.1,104.7" stroke="#e23a3a" stroke-width="0.5" fill="none" opacity="0.30"/><polyline points="366.9,109.2 400.3,146.7 433.7,105.3" stroke="#6a70c8" stroke-width="0.5" fill="none" opacity="0.55"/><polyline points="406.9,107.7 417.3,157.5 427.7,106.0" stroke="#6a70c8" stroke-width="0.5" fill="none" opacity="0.52"/><polyline points="352.6,109.8 364.5,162.0 376.3,108.4" stroke="#e89040" stroke-width="0.5" fill="none" opacity="0.38"/><polyline points="349.9,109.7 364.4,159.9 378.8,108.1" stroke="#e23a3a" stroke-width="0.5" fill="none" opacity="0.39"/><polyline points="406.7,107.7 426.5,159.9 446.2,105.8" stroke="#d84848" stroke-width="0.5" fill="none" opacity="0.47"/><polyline points="356.8,109.9 387.2,152.3 417.7,107.1" stroke="#6a70c8" stroke-width="0.5" fill="none" opacity="0.30"/><polyline points="372.0,108.8 394.5,152.9 416.9,107.2" stroke="#e85a5a" stroke-width="0.5" fill="none" opacity="0.46"/><polyline points="349.5,109.6 388.2,156.2 426.9,106.1" stroke="#6a70c8" stroke-width="0.5" fill="none" opacity="0.27"/><polyline points="415.1,107.2 445.8,168.9 476.4,105.4" stroke="#e89040" stroke-width="0.5" fill="none" opacity="0.45"/><polyline points="444.3,105.5 471.9,164.1 499.5,104.5" stroke="#6a70c8" stroke-width="0.5" fill="none" opacity="0.52"/><polyline points="375.1,108.5 387.2,158.7 399.2,108.0" stroke="#e23a3a" stroke-width="0.5" fill="none" opacity="0.47"/><polyline points="373.6,108.6 410.4,148.7 447.2,106.0" stroke="#e89040" stroke-width="0.5" fill="none" opacity="0.42"/><polyline points="427.4,106.1 442.8,166.5 458.1,110.0" stroke="#e85a5a" stroke-width="0.5" fill="none" opacity="0.49"/><polyline points="305.9,108.6 332.7,164.2 359.5,109.7" stroke="#d84848" stroke-width="0.5" fill="none" opacity="0.30"/><polyline points="389.0,108.0 428.0,164.1 467.1,107.2" stroke="#e85a5a" stroke-width="0.5" fill="none" opacity="0.41"/><polyline points="412.6,107.4 420.8,157.9 429.0,105.9" stroke="#e23a3a" stroke-width="0.5" fill="none" opacity="0.39"/><polyline points="433.7,105.3 455.4,166.3 477.0,105.3" stroke="#e23a3a" stroke-width="0.5" fill="none" opacity="0.30"/><polyline points="401.6,107.9 434.3,166.0 466.9,107.3" stroke="#e89040" stroke-width="0.5" fill="none" opacity="0.50"/><polyline points="421.3,106.8 429.2,164.0 437.0,105.1" stroke="#6a70c8" stroke-width="0.5" fill="none" opacity="0.34"/><polyline points="286.6,108.2 311.6,160.8 336.5,109.0" stroke="#d84848" stroke-width="0.5" fill="none" opacity="0.51"/><polyline points="390.5,108.0 403.4,147.7 416.4,107.2" stroke="#e23a3a" stroke-width="0.5" fill="none" opacity="0.40"/><polyline points="362.1,109.5 399.2,154.4 436.3,105.0" stroke="#e23a3a" stroke-width="0.5" fill="none" opacity="0.35"/><polyline points="450.5,106.7 467.1,160.2 483.7,104.9" stroke="#e23a3a" stroke-width="0.5" fill="none" opacity="0.40"/><polyline points="318.5,108.7 344.8,158.0 371.0,108.9" stroke="#d84848" stroke-width="0.5" fill="none" opacity="0.44"/><polyline points="347.0,109.5 360.9,160.5 374.9,108.5" stroke="#e23a3a" stroke-width="0.5" fill="none" opacity="0.27"/><polyline points="299.5,108.5 328.4,162.3 357.4,109.8" stroke="#e23a3a" stroke-width="0.5" fill="none" opacity="0.35"/><polyline points="301.1,108.5 322.7,167.3 344.2,109.3" stroke="#e23a3a" stroke-width="0.5" fill="none" opacity="0.39"/><polyline points="301.6,108.5 332.1,159.4 362.5,109.5" stroke="#e23a3a" stroke-width="0.5" fill="none" opacity="0.35"/><polyline points="312.3,108.7 326.4,165.9 340.5,109.0" stroke="#e23a3a" stroke-width="0.5" fill="none" opacity="0.31"/><polyline points="322.5,108.8 333.1,165.5 343.7,109.2" stroke="#e85a5a" stroke-width="0.5" fill="none" opacity="0.37"/><polyline points="428.8,105.9 446.4,164.4 464.0,108.6" stroke="#d84848" stroke-width="0.5" fill="none" opacity="0.42"/><polyline points="414.4,107.3 431.3,165.7 448.1,106.2" stroke="#6a70c8" stroke-width="0.5" fill="none" opacity="0.53"/><polyline points="395.5,108.0 434.8,166.3 474.1,105.6" stroke="#6a70c8" stroke-width="0.5" fill="none" opacity="0.27"/><polyline points="338.6,109.0 361.0,162.3 383.5,108.0" stroke="#e85a5a" stroke-width="0.5" fill="none" opacity="0.39"/><polyline points="445.7,105.6 458.0,169.2 470.4,106.0" stroke="#e23a3a" stroke-width="0.5" fill="none" opacity="0.28"/><polyline points="328.9,108.9 337.6,158.7 346.2,109.4" stroke="#6a70c8" stroke-width="0.5" fill="none" opacity="0.38"/><polyline points="385.8,108.0 399.8,147.4 413.9,107.3" stroke="#e23a3a" stroke-width="0.5" fill="none" opacity="0.39"/><polyline points="441.0,105.3 459.2,167.0 477.4,105.3" stroke="#e23a3a" stroke-width="0.5" fill="none" opacity="0.49"/><polyline points="354.0,109.9 364.8,161.3 375.6,108.4" stroke="#e23a3a" stroke-width="0.5" fill="none" opacity="0.32"/><polyline points="322.9,108.8 349.7,162.1 376.4,108.4" stroke="#e89040" stroke-width="0.5" fill="none" opacity="0.43"/><polyline points="440.8,105.3 452.8,167.3 464.9,108.2" stroke="#e23a3a" stroke-width="0.5" fill="none" opacity="0.29"/><polyline points="361.8,109.5 396.6,152.9 431.3,105.6" stroke="#d84848" stroke-width="0.5" fill="none" opacity="0.54"/><polyline points="339.8,109.0 347.6,158.4 355.5,110.0" stroke="#e89040" stroke-width="0.5" fill="none" opacity="0.35"/><polyline points="422.4,106.7 448.7,166.8 475.1,105.5" stroke="#e85a5a" stroke-width="0.5" fill="none" opacity="0.55"/><polyline points="427.8,106.0 449.3,166.9 470.7,105.9" stroke="#e23a3a" stroke-width="0.5" fill="none" opacity="0.51"/><polyline points="358.6,109.8 384.7,159.6 410.8,107.5" stroke="#d84848" stroke-width="0.5" fill="none" opacity="0.52"/><polyline points="306.3,108.6 322.7,162.3 339.1,109.0" stroke="#e23a3a" stroke-width="0.5" fill="none" opacity="0.45"/><polyline points="339.6,109.0 346.4,161.6 353.3,109.9" stroke="#e23a3a" stroke-width="0.5" fill="none" opacity="0.54"/><polyline points="409.8,107.5 417.5,152.2 425.2,106.3" stroke="#e85a5a" stroke-width="0.5" fill="none" opacity="0.29"/><polyline points="285.2,108.1 314.9,164.6 344.5,109.3" stroke="#d84848" stroke-width="0.5" fill="none" opacity="0.53"/><polyline points="422.4,106.7 446.2,164.7 469.9,106.0" stroke="#e23a3a" stroke-width="0.5" fill="none" opacity="0.36"/><polyline points="285.7,108.2 310.1,167.2 334.5,108.9" stroke="#e89040" stroke-width="0.5" fill="none" opacity="0.27"/><polyline points="326.7,108.8 345.5,159.9 364.4,109.4" stroke="#6a70c8" stroke-width="0.5" fill="none" opacity="0.41"/><polyline points="410.4,107.5 439.3,165.0 468.3,106.7" stroke="#e23a3a" stroke-width="0.5" fill="none" opacity="0.44"/><polyline points="325.9,108.8 344.7,163.0 363.6,109.4" stroke="#e85a5a" stroke-width="0.5" fill="none" opacity="0.29"/><polyline points="345.7,109.4 361.9,163.7 378.0,108.2" stroke="#e23a3a" stroke-width="0.5" fill="none" opacity="0.34"/><polyline points="397.2,108.0 436.8,165.8 476.3,105.4" stroke="#6a70c8" stroke-width="0.5" fill="none" opacity="0.41"/><polyline points="300.6,108.5 327.1,162.7 353.6,109.9" stroke="#e85a5a" stroke-width="0.5" fill="none" opacity="0.42"/><polyline points="389.6,108.0 416.8,153.2 444.1,105.4" stroke="#e85a5a" stroke-width="0.5" fill="none" opacity="0.41"/><polyline points="396.7,108.0 432.0,169.1 467.3,107.2" stroke="#e23a3a" stroke-width="0.5" fill="none" opacity="0.26"/><polyline points="332.7,108.9 342.3,160.1 352.0,109.8" stroke="#e23a3a" stroke-width="0.5" fill="none" opacity="0.48"/><polyline points="295.8,108.4 325.2,161.7 354.5,110.0" stroke="#e23a3a" stroke-width="0.5" fill="none" opacity="0.30"/><polyline points="329.8,108.9 363.6,156.9 397.5,108.0" stroke="#e23a3a" stroke-width="0.5" fill="none" opacity="0.37"/><polyline points="348.2,109.5 378.7,158.6 409.2,107.5" stroke="#e23a3a" stroke-width="0.5" fill="none" opacity="0.44"/><polyline points="393.5,108.0 431.6,167.5 469.7,106.1" stroke="#e23a3a" stroke-width="0.5" fill="none" opacity="0.41"/><polyline points="351.1,109.7 374.9,155.1 398.8,108.0" stroke="#e89040" stroke-width="0.5" fill="none" opacity="0.29"/><polyline points="302.4,108.5 338.2,158.6 373.9,108.6" stroke="#e85a5a" stroke-width="0.5" fill="none" opacity="0.39"/><polyline points="339.6,109.0 352.1,160.6 364.6,109.4" stroke="#e85a5a" stroke-width="0.5" fill="none" opacity="0.51"/><polyline points="357.5,109.8 365.9,161.2 374.3,108.6" stroke="#e85a5a" stroke-width="0.5" fill="none" opacity="0.32"/><polyline points="383.6,108.0 411.9,149.5 440.3,105.2" stroke="#e23a3a" stroke-width="0.5" fill="none" opacity="0.51"/><polyline points="364.6,109.4 398.6,154.4 432.6,105.4" stroke="#e23a3a" stroke-width="0.5" fill="none" opacity="0.31"/><polyline points="344.9,109.3 361.8,162.3 378.6,108.1" stroke="#e23a3a" stroke-width="0.5" fill="none" opacity="0.50"/><polyline points="299.8,108.5 321.8,163.1 343.8,109.3" stroke="#d84848" stroke-width="0.5" fill="none" opacity="0.29"/><polyline points="308.2,108.6 334.8,164.1 361.5,109.6" stroke="#d84848" stroke-width="0.5" fill="none" opacity="0.38"/><polyline points="347.4,109.5 356.1,160.5 364.9,109.3" stroke="#e23a3a" stroke-width="0.5" fill="none" opacity="0.30"/><polyline points="320.7,108.8 359.5,156.4 398.3,108.0" stroke="#6a70c8" stroke-width="0.5" fill="none" opacity="0.53"/><polyline points="338.5,109.0 365.4,161.0 392.3,108.0" stroke="#6a70c8" stroke-width="0.5" fill="none" opacity="0.31"/><polyline points="291.5,108.3 320.1,166.3 348.8,109.6" stroke="#e85a5a" stroke-width="0.5" fill="none" opacity="0.50"/><polyline points="308.2,108.6 329.7,164.2 351.2,109.7" stroke="#e23a3a" stroke-width="0.5" fill="none" opacity="0.31"/><polyline points="322.9,108.8 347.0,158.0 371.1,108.9" stroke="#d84848" stroke-width="0.5" fill="none" opacity="0.45"/><polyline points="288.7,108.2 318.8,165.9 348.8,109.6" stroke="#e23a3a" stroke-width="0.5" fill="none" opacity="0.36"/><polyline points="331.7,108.9 369.8,160.0 407.8,107.6" stroke="#e85a5a" stroke-width="0.5" fill="none" opacity="0.47"/><polyline points="339.7,109.0 346.5,161.1 353.4,109.9" stroke="#e23a3a" stroke-width="0.5" fill="none" opacity="0.31"/><polyline points="342.2,109.1 349.9,163.8 357.5,109.8" stroke="#e89040" stroke-width="0.5" fill="none" opacity="0.28"/><polyline points="393.4,108.0 402.4,148.1 411.3,107.4" stroke="#e23a3a" stroke-width="0.5" fill="none" opacity="0.26"/><polyline points="379.5,108.0 394.7,156.1 409.8,107.5" stroke="#e89040" stroke-width="0.5" fill="none" opacity="0.35"/><polyline points="436.2,105.0 462.8,165.3 489.4,104.7" stroke="#e23a3a" stroke-width="0.5" fill="none" opacity="0.49"/><polyline points="450.4,106.7 465.8,163.0 481.2,105.0" stroke="#d84848" stroke-width="0.5" fill="none" opacity="0.54"/><polyline points="296.5,108.4 314.1,162.0 331.7,108.9" stroke="#6a70c8" stroke-width="0.5" fill="none" opacity="0.54"/><polyline points="390.8,108.0 398.5,149.4 406.2,107.7" stroke="#d84848" stroke-width="0.5" fill="none" opacity="0.43"/><polyline points="361.8,109.5 382.1,154.6 402.3,107.9" stroke="#e23a3a" stroke-width="0.5" fill="none" opacity="0.25"/><polyline points="405.4,107.7 435.9,168.9 466.3,107.6" stroke="#e23a3a" stroke-width="0.5" fill="none" opacity="0.52"/><polyline points="302.1,108.5 316.5,162.4 330.9,108.9" stroke="#e85a5a" stroke-width="0.5" fill="none" opacity="0.27"/><polyline points="332.0,108.9 369.6,156.2 407.2,107.6" stroke="#d84848" stroke-width="0.5" fill="none" opacity="0.31"/><polyline points="291.1,108.3 310.9,165.0 330.7,108.9" stroke="#6a70c8" stroke-width="0.5" fill="none" opacity="0.32"/><polyline points="357.1,109.9 397.0,147.5 436.9,105.0" stroke="#e89040" stroke-width="0.5" fill="none" opacity="0.29"/><polyline points="359.0,109.7 380.6,158.9 402.3,107.9" stroke="#d84848" stroke-width="0.5" fill="none" opacity="0.30"/><polyline points="407.3,107.6 445.5,165.1 483.7,104.9" stroke="#e89040" stroke-width="0.5" fill="none" opacity="0.44"/><polyline points="310.6,108.6 336.8,165.7 363.0,109.5" stroke="#e23a3a" stroke-width="0.5" fill="none" opacity="0.33"/><polyline points="329.8,108.9 340.9,162.3 352.0,109.8" stroke="#e85a5a" stroke-width="0.5" fill="none" opacity="0.39"/><polyline points="320.2,108.8 341.1,159.0 361.9,109.5" stroke="#6a70c8" stroke-width="0.5" fill="none" opacity="0.54"/><polyline points="418.9,107.1 446.0,168.2 473.2,105.7" stroke="#e89040" stroke-width="0.5" fill="none" opacity="0.26"/><polyline points="438.5,105.1 460.8,168.4 483.0,104.9" stroke="#e85a5a" stroke-width="0.5" fill="none" opacity="0.46"/><polyline points="335.6,108.9 370.4,160.2 405.2,107.7" stroke="#d84848" stroke-width="0.5" fill="none" opacity="0.50"/><polyline points="320.5,108.8 336.3,158.6 352.1,109.8" stroke="#e23a3a" stroke-width="0.5" fill="none" opacity="0.40"/><polyline points="427.3,106.1 458.7,164.2 490.1,104.7" stroke="#e23a3a" stroke-width="0.5" fill="none" opacity="0.38"/><polyline points="362.6,109.5 386.4,159.1 410.1,107.5" stroke="#e89040" stroke-width="0.5" fill="none" opacity="0.37"/><polyline points="380.0,108.0 412.0,151.3 444.1,105.4" stroke="#e89040" stroke-width="0.5" fill="none" opacity="0.42"/><polyline points="323.4,108.8 337.3,158.6 351.2,109.7" stroke="#e85a5a" stroke-width="0.5" fill="none" opacity="0.40"/><polyline points="440.2,105.2 473.7,159.9 507.1,104.5" stroke="#d84848" stroke-width="0.5" fill="none" opacity="0.52"/><polyline points="329.2,108.9 359.5,156.0 389.8,108.0" stroke="#e23a3a" stroke-width="0.5" fill="none" opacity="0.45"/><polyline points="369.0,109.1 376.3,159.0 383.7,108.0" stroke="#e89040" stroke-width="0.5" fill="none" opacity="0.36"/><polyline points="379.2,108.1 410.2,155.0 441.1,105.3" stroke="#e23a3a" stroke-width="0.5" fill="none" opacity="0.48"/><polyline points="374.9,108.5 397.2,150.1 419.5,107.0" stroke="#e23a3a" stroke-width="0.5" fill="none" opacity="0.43"/><polyline points="350.7,109.7 367.0,163.2 383.3,108.0" stroke="#e23a3a" stroke-width="0.5" fill="none" opacity="0.35"/><polyline points="352.7,109.8 389.2,150.0 425.7,106.3" stroke="#6a70c8" stroke-width="0.5" fill="none" opacity="0.52"/><polyline points="312.4,108.7 343.6,162.8 374.8,108.5" stroke="#e89040" stroke-width="0.5" fill="none" opacity="0.50"/><polyline points="373.4,108.7 404.1,149.5 434.8,105.2" stroke="#d84848" stroke-width="0.5" fill="none" opacity="0.31"/><polyline points="352.4,109.8 370.7,160.9 389.0,108.0" stroke="#e23a3a" stroke-width="0.5" fill="none" opacity="0.41"/><polyline points="390.2,108.0 417.4,158.3 444.7,105.5" stroke="#e85a5a" stroke-width="0.5" fill="none" opacity="0.51"/><polyline points="383.9,108.0 407.3,153.7 430.6,105.7" stroke="#e85a5a" stroke-width="0.5" fill="none" opacity="0.47"/><polyline points="388.5,108.0 417.5,153.7 446.5,105.8" stroke="#e23a3a" stroke-width="0.5" fill="none" opacity="0.50"/><polyline points="379.0,108.1 411.9,156.2 444.8,105.5" stroke="#6a70c8" stroke-width="0.5" fill="none" opacity="0.32"/><polyline points="391.3,108.0 412.9,152.2 434.4,105.2" stroke="#e23a3a" stroke-width="0.5" fill="none" opacity="0.37"/><polyline points="442.3,105.3 448.6,168.2 455.0,108.5" stroke="#d84848" stroke-width="0.5" fill="none" opacity="0.36"/><polyline points="364.4,109.4 372.9,159.6 381.5,108.0" stroke="#e89040" stroke-width="0.5" fill="none" opacity="0.39"/><polyline points="460.9,109.4 469.1,164.0 477.2,105.3" stroke="#e23a3a" stroke-width="0.5" fill="none" opacity="0.52"/><polyline points="428.5,105.9 458.5,164.5 488.6,104.7" stroke="#d84848" stroke-width="0.5" fill="none" opacity="0.52"/><polyline points="324.2,108.8 344.4,164.5 364.6,109.4" stroke="#e85a5a" stroke-width="0.5" fill="none" opacity="0.53"/><polyline points="422.3,106.7 452.0,169.6 481.7,104.9" stroke="#e23a3a" stroke-width="0.5" fill="none" opacity="0.51"/><polyline points="351.6,109.8 368.0,158.2 384.5,108.0" stroke="#e23a3a" stroke-width="0.5" fill="none" opacity="0.30"/><polyline points="455.8,108.9 462.7,169.4 469.7,106.1" stroke="#e89040" stroke-width="0.5" fill="none" opacity="0.27"/><polyline points="409.2,107.5 444.2,165.7 479.2,105.1" stroke="#e23a3a" stroke-width="0.5" fill="none" opacity="0.36"/><polyline points="437.7,105.1 468.6,163.7 499.5,104.5" stroke="#e23a3a" stroke-width="0.5" fill="none" opacity="0.48"/><polyline points="355.2,110.0 366.3,163.8 377.4,108.3" stroke="#e23a3a" stroke-width="0.5" fill="none" opacity="0.29"/><polyline points="392.9,108.0 432.2,167.1 471.6,105.8" stroke="#e23a3a" stroke-width="0.5" fill="none" opacity="0.34"/><polyline points="446.4,105.8 457.5,170.0 468.6,106.6" stroke="#e23a3a" stroke-width="0.5" fill="none" opacity="0.52"/><polyline points="333.5,108.9 368.3,163.0 403.0,107.8" stroke="#d84848" stroke-width="0.5" fill="none" opacity="0.45"/><polyline points="452.3,107.2 462.7,163.7 473.1,105.7" stroke="#6a70c8" stroke-width="0.5" fill="none" opacity="0.48"/><polyline points="330.6,108.9 348.0,164.5 365.3,109.3" stroke="#e85a5a" stroke-width="0.5" fill="none" opacity="0.31"/><polyline points="410.3,107.5 417.5,151.5 424.8,106.4" stroke="#e85a5a" stroke-width="0.5" fill="none" opacity="0.45"/><polyline points="354.8,110.0 367.0,155.9 379.3,108.1" stroke="#e23a3a" stroke-width="0.5" fill="none" opacity="0.29"/><polyline points="456.7,109.4 467.7,158.9 478.6,105.1" stroke="#6a70c8" stroke-width="0.5" fill="none" opacity="0.33"/>
<polygon points="279.4,108.0 300.0,108.5 340.0,109.0 355.0,110.0 370.0,109.0 380.0,108.0 400.0,108.0 410.0,107.5 420.0,107.0 428.0,106.0 436.0,105.0 445.0,105.5 452.0,107.0 458.0,110.0 463.0,109.0 470.0,106.0 480.0,105.0 495.0,104.5 505.0,104.5 505.0,131.0 279.4,131.0" fill="url(#g8)" opacity="0.72"/>
<g filter="url(#bl1)">
<ellipse cx="274.1" cy="108.5" rx="4.6" ry="1.5" fill="#1a22c0" opacity="0.10"/>
<ellipse cx="284.6" cy="108.5" rx="4.6" ry="1.5" fill="#c41a12" opacity="0.10"/>
<ellipse cx="295.0" cy="108.5" rx="4.6" ry="1.5" fill="#1a22c0" opacity="0.25"/>
<ellipse cx="305.4" cy="108.5" rx="4.6" ry="1.5" fill="#c41a12" opacity="0.40"/>
<ellipse cx="315.9" cy="108.5" rx="4.6" ry="1.5" fill="#1a22c0" opacity="0.40"/>
<ellipse cx="326.4" cy="108.5" rx="4.6" ry="1.5" fill="#c41a12" opacity="0.40"/>
<ellipse cx="336.8" cy="108.5" rx="4.6" ry="1.5" fill="#1a22c0" opacity="0.40"/>
<ellipse cx="347.2" cy="108.5" rx="4.6" ry="1.5" fill="#c41a12" opacity="0.40"/>
<ellipse cx="357.7" cy="108.5" rx="4.6" ry="1.5" fill="#1a22c0" opacity="0.40"/>
<ellipse cx="368.1" cy="108.5" rx="4.6" ry="1.5" fill="#c41a12" opacity="0.40"/>
<ellipse cx="378.6" cy="108.5" rx="4.6" ry="1.5" fill="#1a22c0" opacity="0.40"/>
<ellipse cx="389.1" cy="108.5" rx="4.6" ry="1.5" fill="#c41a12" opacity="0.40"/>
<ellipse cx="399.5" cy="108.5" rx="4.6" ry="1.5" fill="#1a22c0" opacity="0.40"/>
<ellipse cx="409.9" cy="108.5" rx="4.6" ry="1.5" fill="#c41a12" opacity="0.40"/>
<ellipse cx="420.4" cy="108.5" rx="4.6" ry="1.5" fill="#1a22c0" opacity="0.40"/>
<ellipse cx="430.9" cy="108.5" rx="4.6" ry="1.5" fill="#c41a12" opacity="0.40"/>
<ellipse cx="441.3" cy="108.5" rx="4.6" ry="1.5" fill="#1a22c0" opacity="0.40"/>
<ellipse cx="451.8" cy="108.5" rx="4.6" ry="1.5" fill="#c41a12" opacity="0.40"/>
<ellipse cx="462.2" cy="108.5" rx="4.6" ry="1.5" fill="#1a22c0" opacity="0.40"/>
<ellipse cx="472.6" cy="108.5" rx="4.6" ry="1.5" fill="#c41a12" opacity="0.40"/>
<ellipse cx="483.1" cy="108.5" rx="4.6" ry="1.5" fill="#1a22c0" opacity="0.35"/>
<ellipse cx="493.5" cy="108.5" rx="4.6" ry="1.5" fill="#c41a12" opacity="0.18"/>
<ellipse cx="504.0" cy="108.5" rx="4.6" ry="1.5" fill="#1a22c0" opacity="0.10"/>
<ellipse cx="274.1" cy="114.6" rx="4.6" ry="2.4" fill="#c41a12" opacity="0.23"/>
<ellipse cx="284.6" cy="114.6" rx="4.6" ry="2.4" fill="#1a22c0" opacity="0.23"/>
<ellipse cx="295.0" cy="114.6" rx="4.6" ry="2.4" fill="#c41a12" opacity="0.56"/>
<ellipse cx="305.4" cy="114.6" rx="4.6" ry="2.4" fill="#1a22c0" opacity="0.90"/>
<ellipse cx="315.9" cy="114.6" rx="4.6" ry="2.4" fill="#c41a12" opacity="0.90"/>
<ellipse cx="326.4" cy="114.6" rx="4.6" ry="2.4" fill="#1a22c0" opacity="0.90"/>
<ellipse cx="336.8" cy="114.6" rx="4.6" ry="2.4" fill="#c41a12" opacity="0.90"/>
<ellipse cx="347.2" cy="114.6" rx="4.6" ry="2.4" fill="#1a22c0" opacity="0.90"/>
<ellipse cx="357.7" cy="114.6" rx="4.6" ry="2.4" fill="#c41a12" opacity="0.90"/>
<ellipse cx="368.1" cy="114.6" rx="4.6" ry="2.4" fill="#1a22c0" opacity="0.90"/>
<ellipse cx="378.6" cy="114.6" rx="4.6" ry="2.4" fill="#c41a12" opacity="0.90"/>
<ellipse cx="389.1" cy="114.6" rx="4.6" ry="2.4" fill="#1a22c0" opacity="0.90"/>
<ellipse cx="399.5" cy="114.6" rx="4.6" ry="2.4" fill="#c41a12" opacity="0.90"/>
<ellipse cx="409.9" cy="114.6" rx="4.6" ry="2.4" fill="#1a22c0" opacity="0.90"/>
<ellipse cx="420.4" cy="114.6" rx="4.6" ry="2.4" fill="#c41a12" opacity="0.90"/>
<ellipse cx="430.9" cy="114.6" rx="4.6" ry="2.4" fill="#1a22c0" opacity="0.90"/>
<ellipse cx="441.3" cy="114.6" rx="4.6" ry="2.4" fill="#c41a12" opacity="0.90"/>
<ellipse cx="451.8" cy="114.6" rx="4.6" ry="2.4" fill="#1a22c0" opacity="0.90"/>
<ellipse cx="462.2" cy="114.6" rx="4.6" ry="2.4" fill="#c41a12" opacity="0.90"/>
<ellipse cx="472.6" cy="114.6" rx="4.6" ry="2.4" fill="#1a22c0" opacity="0.90"/>
<ellipse cx="483.1" cy="114.6" rx="4.6" ry="2.4" fill="#c41a12" opacity="0.79"/>
<ellipse cx="493.5" cy="114.6" rx="4.6" ry="2.4" fill="#1a22c0" opacity="0.41"/>
<ellipse cx="504.0" cy="114.6" rx="4.6" ry="2.4" fill="#c41a12" opacity="0.23"/>
<ellipse cx="274.1" cy="122.2" rx="4.6" ry="3.2" fill="#1a22c0" opacity="0.24"/>
<ellipse cx="284.6" cy="122.2" rx="4.6" ry="3.2" fill="#c41a12" opacity="0.24"/>
<ellipse cx="295.0" cy="122.2" rx="4.6" ry="3.2" fill="#1a22c0" opacity="0.59"/>
<ellipse cx="305.4" cy="122.2" rx="4.6" ry="3.2" fill="#c41a12" opacity="0.95"/>
<ellipse cx="315.9" cy="122.2" rx="4.6" ry="3.2" fill="#1a22c0" opacity="0.95"/>
<ellipse cx="326.4" cy="122.2" rx="4.6" ry="3.2" fill="#c41a12" opacity="0.95"/>
<ellipse cx="336.8" cy="122.2" rx="4.6" ry="3.2" fill="#1a22c0" opacity="0.95"/>
<ellipse cx="347.2" cy="122.2" rx="4.6" ry="3.2" fill="#c41a12" opacity="0.95"/>
<ellipse cx="357.7" cy="122.2" rx="4.6" ry="3.2" fill="#1a22c0" opacity="0.95"/>
<ellipse cx="368.1" cy="122.2" rx="4.6" ry="3.2" fill="#c41a12" opacity="0.95"/>
<ellipse cx="378.6" cy="122.2" rx="4.6" ry="3.2" fill="#1a22c0" opacity="0.95"/>
<ellipse cx="389.1" cy="122.2" rx="4.6" ry="3.2" fill="#c41a12" opacity="0.95"/>
<ellipse cx="399.5" cy="122.2" rx="4.6" ry="3.2" fill="#1a22c0" opacity="0.95"/>
<ellipse cx="409.9" cy="122.2" rx="4.6" ry="3.2" fill="#c41a12" opacity="0.95"/>
<ellipse cx="420.4" cy="122.2" rx="4.6" ry="3.2" fill="#1a22c0" opacity="0.95"/>
<ellipse cx="430.9" cy="122.2" rx="4.6" ry="3.2" fill="#c41a12" opacity="0.95"/>
<ellipse cx="441.3" cy="122.2" rx="4.6" ry="3.2" fill="#1a22c0" opacity="0.95"/>
<ellipse cx="451.8" cy="122.2" rx="4.6" ry="3.2" fill="#c41a12" opacity="0.95"/>
<ellipse cx="462.2" cy="122.2" rx="4.6" ry="3.2" fill="#1a22c0" opacity="0.95"/>
<ellipse cx="472.6" cy="122.2" rx="4.6" ry="3.2" fill="#c41a12" opacity="0.95"/>
<ellipse cx="483.1" cy="122.2" rx="4.6" ry="3.2" fill="#1a22c0" opacity="0.83"/>
<ellipse cx="493.5" cy="122.2" rx="4.6" ry="3.2" fill="#c41a12" opacity="0.44"/>
<ellipse cx="504.0" cy="122.2" rx="4.6" ry="3.2" fill="#1a22c0" opacity="0.24"/>
<ellipse cx="274.1" cy="131" rx="4.6" ry="3.0" fill="#c41a12" opacity="0.09"/>
<ellipse cx="284.6" cy="131" rx="4.6" ry="3.0" fill="#1a22c0" opacity="0.09"/>
<ellipse cx="295.0" cy="131" rx="4.6" ry="3.0" fill="#c41a12" opacity="0.22"/>
<ellipse cx="305.4" cy="131" rx="4.6" ry="3.0" fill="#1a22c0" opacity="0.35"/>
<ellipse cx="315.9" cy="131" rx="4.6" ry="3.0" fill="#c41a12" opacity="0.35"/>
<ellipse cx="326.4" cy="131" rx="4.6" ry="3.0" fill="#1a22c0" opacity="0.35"/>
<ellipse cx="336.8" cy="131" rx="4.6" ry="3.0" fill="#c41a12" opacity="0.35"/>
<ellipse cx="347.2" cy="131" rx="4.6" ry="3.0" fill="#1a22c0" opacity="0.35"/>
<ellipse cx="357.7" cy="131" rx="4.6" ry="3.0" fill="#c41a12" opacity="0.35"/>
<ellipse cx="368.1" cy="131" rx="4.6" ry="3.0" fill="#1a22c0" opacity="0.35"/>
<ellipse cx="378.6" cy="131" rx="4.6" ry="3.0" fill="#c41a12" opacity="0.35"/>
<ellipse cx="389.1" cy="131" rx="4.6" ry="3.0" fill="#1a22c0" opacity="0.35"/>
<ellipse cx="399.5" cy="131" rx="4.6" ry="3.0" fill="#c41a12" opacity="0.35"/>
<ellipse cx="409.9" cy="131" rx="4.6" ry="3.0" fill="#1a22c0" opacity="0.35"/>
<ellipse cx="420.4" cy="131" rx="4.6" ry="3.0" fill="#c41a12" opacity="0.35"/>
<ellipse cx="430.9" cy="131" rx="4.6" ry="3.0" fill="#1a22c0" opacity="0.35"/>
<ellipse cx="441.3" cy="131" rx="4.6" ry="3.0" fill="#c41a12" opacity="0.35"/>
<ellipse cx="451.8" cy="131" rx="4.6" ry="3.0" fill="#1a22c0" opacity="0.35"/>
<ellipse cx="462.2" cy="131" rx="4.6" ry="3.0" fill="#c41a12" opacity="0.35"/>
<ellipse cx="472.6" cy="131" rx="4.6" ry="3.0" fill="#1a22c0" opacity="0.35"/>
<ellipse cx="483.1" cy="131" rx="4.6" ry="3.0" fill="#c41a12" opacity="0.31"/>
<ellipse cx="493.5" cy="131" rx="4.6" ry="3.0" fill="#1a22c0" opacity="0.16"/>
<ellipse cx="504.0" cy="131" rx="4.6" ry="3.0" fill="#c41a12" opacity="0.09"/>
<ellipse cx="274.1" cy="140" rx="4.6" ry="3.2" fill="#1a22c0" opacity="0.07"/>
<ellipse cx="284.6" cy="140" rx="4.6" ry="3.2" fill="#c41a12" opacity="0.07"/>
<ellipse cx="295.0" cy="140" rx="4.6" ry="3.2" fill="#1a22c0" opacity="0.19"/>
<ellipse cx="305.4" cy="140" rx="4.6" ry="3.2" fill="#c41a12" opacity="0.30"/>
<ellipse cx="315.9" cy="140" rx="4.6" ry="3.2" fill="#1a22c0" opacity="0.30"/>
<ellipse cx="326.4" cy="140" rx="4.6" ry="3.2" fill="#c41a12" opacity="0.30"/>
<ellipse cx="336.8" cy="140" rx="4.6" ry="3.2" fill="#1a22c0" opacity="0.30"/>
<ellipse cx="347.2" cy="140" rx="4.6" ry="3.2" fill="#c41a12" opacity="0.30"/>
<ellipse cx="357.7" cy="140" rx="4.6" ry="3.2" fill="#1a22c0" opacity="0.30"/>
<ellipse cx="368.1" cy="140" rx="4.6" ry="3.2" fill="#c41a12" opacity="0.30"/>
<ellipse cx="378.6" cy="140" rx="4.6" ry="3.2" fill="#1a22c0" opacity="0.30"/>
<ellipse cx="389.1" cy="140" rx="4.6" ry="3.2" fill="#c41a12" opacity="0.30"/>
<ellipse cx="399.5" cy="140" rx="4.6" ry="3.2" fill="#1a22c0" opacity="0.30"/>
<ellipse cx="409.9" cy="140" rx="4.6" ry="3.2" fill="#c41a12" opacity="0.30"/>
<ellipse cx="420.4" cy="140" rx="4.6" ry="3.2" fill="#1a22c0" opacity="0.30"/>
<ellipse cx="430.9" cy="140" rx="4.6" ry="3.2" fill="#c41a12" opacity="0.30"/>
<ellipse cx="441.3" cy="140" rx="4.6" ry="3.2" fill="#1a22c0" opacity="0.30"/>
<ellipse cx="451.8" cy="140" rx="4.6" ry="3.2" fill="#c41a12" opacity="0.30"/>
<ellipse cx="462.2" cy="140" rx="4.6" ry="3.2" fill="#1a22c0" opacity="0.30"/>
<ellipse cx="472.6" cy="140" rx="4.6" ry="3.2" fill="#c41a12" opacity="0.30"/>
<ellipse cx="483.1" cy="140" rx="4.6" ry="3.2" fill="#1a22c0" opacity="0.26"/>
<ellipse cx="493.5" cy="140" rx="4.6" ry="3.2" fill="#c41a12" opacity="0.14"/>
<ellipse cx="504.0" cy="140" rx="4.6" ry="3.2" fill="#1a22c0" opacity="0.07"/>
<ellipse cx="274.1" cy="148.5" rx="4.6" ry="3.2" fill="#c41a12" opacity="0.05"/>
<ellipse cx="284.6" cy="148.5" rx="4.6" ry="3.2" fill="#1a22c0" opacity="0.05"/>
<ellipse cx="295.0" cy="148.5" rx="4.6" ry="3.2" fill="#c41a12" opacity="0.12"/>
<ellipse cx="305.4" cy="148.5" rx="4.6" ry="3.2" fill="#1a22c0" opacity="0.20"/>
<ellipse cx="315.9" cy="148.5" rx="4.6" ry="3.2" fill="#c41a12" opacity="0.20"/>
<ellipse cx="326.4" cy="148.5" rx="4.6" ry="3.2" fill="#1a22c0" opacity="0.20"/>
<ellipse cx="336.8" cy="148.5" rx="4.6" ry="3.2" fill="#c41a12" opacity="0.20"/>
<ellipse cx="347.2" cy="148.5" rx="4.6" ry="3.2" fill="#1a22c0" opacity="0.20"/>
<ellipse cx="357.7" cy="148.5" rx="4.6" ry="3.2" fill="#c41a12" opacity="0.20"/>
<ellipse cx="368.1" cy="148.5" rx="4.6" ry="3.2" fill="#1a22c0" opacity="0.20"/>
<ellipse cx="378.6" cy="148.5" rx="4.6" ry="3.2" fill="#c41a12" opacity="0.20"/>
<ellipse cx="389.1" cy="148.5" rx="4.6" ry="3.2" fill="#1a22c0" opacity="0.20"/>
<ellipse cx="399.5" cy="148.5" rx="4.6" ry="3.2" fill="#c41a12" opacity="0.20"/>
<ellipse cx="409.9" cy="148.5" rx="4.6" ry="3.2" fill="#1a22c0" opacity="0.20"/>
<ellipse cx="420.4" cy="148.5" rx="4.6" ry="3.2" fill="#c41a12" opacity="0.20"/>
<ellipse cx="430.9" cy="148.5" rx="4.6" ry="3.2" fill="#1a22c0" opacity="0.20"/>
<ellipse cx="441.3" cy="148.5" rx="4.6" ry="3.2" fill="#c41a12" opacity="0.20"/>
<ellipse cx="451.8" cy="148.5" rx="4.6" ry="3.2" fill="#1a22c0" opacity="0.20"/>
<ellipse cx="462.2" cy="148.5" rx="4.6" ry="3.2" fill="#c41a12" opacity="0.20"/>
<ellipse cx="472.6" cy="148.5" rx="4.6" ry="3.2" fill="#1a22c0" opacity="0.20"/>
<ellipse cx="483.1" cy="148.5" rx="4.6" ry="3.2" fill="#c41a12" opacity="0.18"/>
<ellipse cx="493.5" cy="148.5" rx="4.6" ry="3.2" fill="#1a22c0" opacity="0.09"/>
<ellipse cx="504.0" cy="148.5" rx="4.6" ry="3.2" fill="#c41a12" opacity="0.05"/>
</g></g>
<polyline points="279.4,168.5 328.0,168.5 339.0,165.2 352.0,163.9 370.0,163.4 381.0,161.2 394.0,155.7 404.2,152.6 418.0,159.5 427.3,168.7 434.2,180.0 441.0,188.3 449.0,190.0 457.0,186.0 461.8,173.3 466.4,165.3 475.6,161.8 485.0,166.0 491.8,168.3 505.0,168.3" fill="none" stroke="#222" stroke-width="0.9" stroke-dasharray="2,1.6"/>
<line x1="279.4" y1="137.5" x2="505" y2="137.5" stroke="#555" stroke-width="0.4" opacity="0.6"/>
<line x1="279.4" y1="155.2" x2="505" y2="155.2" stroke="#555" stroke-width="0.4" opacity="0.6"/>
<line x1="279.4" y1="173" x2="505" y2="173" stroke="#555" stroke-width="0.4" opacity="0.6"/>
<line x1="355" y1="100.5" x2="355" y2="192" stroke="#666" stroke-width="0.5" opacity="0.8"/>
<line x1="358" y1="100.5" x2="358" y2="192" stroke="#666" stroke-width="0.5" opacity="0.8"/>
<line x1="389.5" y1="100.5" x2="389.5" y2="192" stroke="#666" stroke-width="0.5" opacity="0.8"/>
<line x1="406.3" y1="100.5" x2="406.3" y2="192" stroke="#666" stroke-width="0.5" opacity="0.8"/>
<line x1="404" y1="204.4" x2="504.5" y2="204.4" stroke="#000" stroke-width="1.6" />
<polyline points="407.0,200.7 402.5,204.4 407.0,208.2" fill="none" stroke="#000" stroke-width="1.6" stroke-linejoin="miter"/>
<polyline points="501.5,200.7 506.0,204.4 501.5,208.2" fill="none" stroke="#000" stroke-width="1.6" stroke-linejoin="miter"/>
<text x="456" y="201.8" font-family='"Liberation Sans", sans-serif' font-size="10" font-weight="bold" text-anchor="middle" fill="#000">100 km</text>
<text x="448.5" y="185.5" font-family='"Liberation Sans", sans-serif' font-size="12" font-weight="bold" text-anchor="middle" fill="#000">?</text>
<rect x="279.4" y="179.5" width="115.60000000000002" height="13.5" fill="url(#g9)" stroke="#444" stroke-width="1"/>
<text x="337.2" y="190.786" font-family='"Liberation Sans", sans-serif' font-size="12.6" font-weight="normal" text-anchor="middle" fill="#111">along Miyako Rift</text>
<text x="517.4" y="105.512" font-family='"Liberation Sans", sans-serif' font-size="9.2" font-weight="normal" text-anchor="end" fill="#000">0</text>
<text x="517.4" y="123.012" font-family='"Liberation Sans", sans-serif' font-size="9.2" font-weight="normal" text-anchor="end" fill="#000">5</text>
<text x="517.4" y="140.61200000000002" font-family='"Liberation Sans", sans-serif' font-size="9.2" font-weight="normal" text-anchor="end" fill="#000">10</text>
<text x="517.4" y="158.21200000000002" font-family='"Liberation Sans", sans-serif' font-size="9.2" font-weight="normal" text-anchor="end" fill="#000">15</text>
<text x="517.4" y="175.71200000000002" font-family='"Liberation Sans", sans-serif' font-size="9.2" font-weight="normal" text-anchor="end" fill="#000">20</text>
<text x="517.4" y="193.812" font-family='"Liberation Sans", sans-serif' font-size="9.2" font-weight="normal" text-anchor="end" fill="#000">25</text>
<line x1="8" y1="218.6" x2="667.6" y2="214.3" stroke="#888" stroke-width="0.8" stroke-dasharray="2.5,1.8,0.8,1.8"/>
<text x="301.5" y="97" font-family='"Liberation Serif", serif' font-size="13" font-weight="bold" text-anchor="middle" fill="#000">W</text>
<text x="499" y="97" font-family='"Liberation Serif", serif' font-size="13" font-weight="bold" text-anchor="middle" fill="#000">E</text>
<text x="527.8" y="18.6" font-family='"Liberation Sans", sans-serif' font-size="9.5" font-weight="bold" text-anchor="start" fill="#000" textLength="118" lengthAdjust="spacingAndGlyphs">DMK:Daisan-Miyako Knoll</text>
<text x="523" y="48" font-family='"Liberation Sans", sans-serif' font-size="7.6" font-weight="normal" text-anchor="middle" fill="#000" transform="rotate(90 523 48)">depth (km)</text>
<text x="523" y="136.6" font-family='"Liberation Sans", sans-serif' font-size="7.6" font-weight="normal" text-anchor="middle" fill="#000" transform="rotate(90 523 136.6)">depth (km)</text>
<rect x="529.2" y="71" width="8.786666666666664" height="7.8" fill="url(#g10)" />
<rect x="537.9866666666667" y="71" width="9.086666666666664" height="7.8" fill="#e83838" />
<rect x="546.7733333333334" y="71" width="9.086666666666664" height="7.8" fill="#e43232" />
<rect x="555.5600000000001" y="71" width="9.086666666666664" height="7.8" fill="#e23636" />
<rect x="564.3466666666667" y="71" width="9.086666666666664" height="7.8" fill="#e84e3e" />
<rect x="573.1333333333333" y="71" width="9.086666666666664" height="7.8" fill="#e8703e" />
<rect x="581.9200000000001" y="71" width="9.086666666666664" height="7.8" fill="#ec9236" />
<rect x="590.7066666666667" y="71" width="9.086666666666664" height="7.8" fill="#f2b436" />
<rect x="599.4933333333333" y="71" width="9.086666666666664" height="7.8" fill="#f8e032" />
<rect x="608.28" y="71" width="9.086666666666664" height="7.8" fill="#a6e224" />
<rect x="617.0666666666667" y="71" width="9.086666666666664" height="7.8" fill="#66e066" />
<rect x="625.8533333333334" y="71" width="9.086666666666664" height="7.8" fill="#64dcc4" />
<rect x="634.64" y="71" width="9.086666666666664" height="7.8" fill="#2054e0" />
<rect x="643.4266666666667" y="71" width="9.086666666666664" height="7.8" fill="#2a3cc4" />
<rect x="652.2133333333334" y="71" width="9.086666666666664" height="7.8" fill="#3c2c8c" />
<line x1="529.2" y1="71" x2="529.2" y2="78.8" stroke="#333" stroke-width="0.5" />
<line x1="537.9866666666667" y1="71" x2="537.9866666666667" y2="78.8" stroke="#333" stroke-width="0.5" />
<line x1="546.7733333333334" y1="71" x2="546.7733333333334" y2="78.8" stroke="#333" stroke-width="0.5" />
<line x1="555.5600000000001" y1="71" x2="555.5600000000001" y2="78.8" stroke="#333" stroke-width="0.5" />
<line x1="564.3466666666667" y1="71" x2="564.3466666666667" y2="78.8" stroke="#333" stroke-width="0.5" />
<line x1="573.1333333333333" y1="71" x2="573.1333333333333" y2="78.8" stroke="#333" stroke-width="0.5" />
<line x1="581.9200000000001" y1="71" x2="581.9200000000001" y2="78.8" stroke="#333" stroke-width="0.5" />
<line x1="590.7066666666667" y1="71" x2="590.7066666666667" y2="78.8" stroke="#333" stroke-width="0.5" />
<line x1="599.4933333333333" y1="71" x2="599.4933333333333" y2="78.8" stroke="#333" stroke-width="0.5" />
<line x1="608.28" y1="71" x2="608.28" y2="78.8" stroke="#333" stroke-width="0.5" />
<line x1="617.0666666666667" y1="71" x2="617.0666666666667" y2="78.8" stroke="#333" stroke-width="0.5" />
<line x1="625.8533333333334" y1="71" x2="625.8533333333334" y2="78.8" stroke="#333" stroke-width="0.5" />
<line x1="634.64" y1="71" x2="634.64" y2="78.8" stroke="#333" stroke-width="0.5" />
<line x1="643.4266666666667" y1="71" x2="643.4266666666667" y2="78.8" stroke="#333" stroke-width="0.5" />
<line x1="652.2133333333334" y1="71" x2="652.2133333333334" y2="78.8" stroke="#333" stroke-width="0.5" />
<line x1="661.0" y1="71" x2="661.0" y2="78.8" stroke="#333" stroke-width="0.5" />
<rect x="529.2" y="71" width="131.79999999999995" height="7.8" fill="none" stroke="#333" stroke-width="0.6"/>
<text x="537.9866666666667" y="87.6" font-family='"Liberation Sans", sans-serif' font-size="8.4" font-weight="normal" text-anchor="middle" fill="#333">2</text>
<text x="555.5600000000001" y="87.6" font-family='"Liberation Sans", sans-serif' font-size="8.4" font-weight="normal" text-anchor="middle" fill="#333">3</text>
<text x="573.1333333333333" y="87.6" font-family='"Liberation Sans", sans-serif' font-size="8.4" font-weight="normal" text-anchor="middle" fill="#333">4</text>
<text x="590.7066666666667" y="87.6" font-family='"Liberation Sans", sans-serif' font-size="8.4" font-weight="normal" text-anchor="middle" fill="#333">5</text>
<text x="608.28" y="87.6" font-family='"Liberation Sans", sans-serif' font-size="8.4" font-weight="normal" text-anchor="middle" fill="#333">6</text>
<text x="625.8533333333334" y="87.6" font-family='"Liberation Sans", sans-serif' font-size="8.4" font-weight="normal" text-anchor="middle" fill="#333">7</text>
<text x="643.4266666666666" y="87.6" font-family='"Liberation Sans", sans-serif' font-size="8.4" font-weight="normal" text-anchor="middle" fill="#333">8</text>
<text x="661.0" y="87.6" font-family='"Liberation Sans", sans-serif' font-size="8.4" font-weight="normal" text-anchor="middle" fill="#333">9</text>
<text x="662" y="77.5" font-family='"Liberation Sans", sans-serif' font-size="7.2" font-weight="normal" text-anchor="start" fill="#222">km/s</text>
<text x="597" y="98.2" font-family='"Liberation Sans", sans-serif' font-size="15.5" font-weight="bold" text-anchor="middle" fill="#000">Vp</text>
<rect x="530" y="155.3" width="133" height="8" fill="url(#g11)" stroke="#444" stroke-width="0.5"/>
<line x1="530.0" y1="163.3" x2="530.0" y2="165.5" stroke="#333" stroke-width="0.5" />
<text x="530.0" y="170.5" font-family='"Liberation Sans", sans-serif' font-size="5.2" font-weight="normal" text-anchor="middle" fill="#333">-5</text>
<line x1="543.3" y1="163.3" x2="543.3" y2="165.5" stroke="#333" stroke-width="0.5" />
<text x="543.3" y="170.5" font-family='"Liberation Sans", sans-serif' font-size="5.2" font-weight="normal" text-anchor="middle" fill="#333">-4</text>
<line x1="556.6" y1="163.3" x2="556.6" y2="165.5" stroke="#333" stroke-width="0.5" />
<text x="556.6" y="170.5" font-family='"Liberation Sans", sans-serif' font-size="5.2" font-weight="normal" text-anchor="middle" fill="#333">-3</text>
<line x1="569.9" y1="163.3" x2="569.9" y2="165.5" stroke="#333" stroke-width="0.5" />
<text x="569.9" y="170.5" font-family='"Liberation Sans", sans-serif' font-size="5.2" font-weight="normal" text-anchor="middle" fill="#333">-2</text>
<line x1="583.2" y1="163.3" x2="583.2" y2="165.5" stroke="#333" stroke-width="0.5" />
<text x="583.2" y="170.5" font-family='"Liberation Sans", sans-serif' font-size="5.2" font-weight="normal" text-anchor="middle" fill="#333">-1</text>
<line x1="596.5" y1="163.3" x2="596.5" y2="165.5" stroke="#333" stroke-width="0.5" />
<text x="596.5" y="170.5" font-family='"Liberation Sans", sans-serif' font-size="5.2" font-weight="normal" text-anchor="middle" fill="#333">0</text>
<line x1="609.8" y1="163.3" x2="609.8" y2="165.5" stroke="#333" stroke-width="0.5" />
<text x="609.8" y="170.5" font-family='"Liberation Sans", sans-serif' font-size="5.2" font-weight="normal" text-anchor="middle" fill="#333">1</text>
<line x1="623.1" y1="163.3" x2="623.1" y2="165.5" stroke="#333" stroke-width="0.5" />
<text x="623.1" y="170.5" font-family='"Liberation Sans", sans-serif' font-size="5.2" font-weight="normal" text-anchor="middle" fill="#333">2</text>
<line x1="636.4" y1="163.3" x2="636.4" y2="165.5" stroke="#333" stroke-width="0.5" />
<text x="636.4" y="170.5" font-family='"Liberation Sans", sans-serif' font-size="5.2" font-weight="normal" text-anchor="middle" fill="#333">3</text>
<line x1="649.7" y1="163.3" x2="649.7" y2="165.5" stroke="#333" stroke-width="0.5" />
<text x="649.7" y="170.5" font-family='"Liberation Sans", sans-serif' font-size="5.2" font-weight="normal" text-anchor="middle" fill="#333">4</text>
<line x1="663.0" y1="163.3" x2="663.0" y2="165.5" stroke="#333" stroke-width="0.5" />
<text x="663.0" y="170.5" font-family='"Liberation Sans", sans-serif' font-size="5.2" font-weight="normal" text-anchor="middle" fill="#333">5</text>
<text x="597" y="183.5" font-family='"Liberation Sans", sans-serif' font-size="7" font-weight="bold" text-anchor="middle" fill="#000" textLength="79" lengthAdjust="spacingAndGlyphs">velocity perturbation (%)</text>
<polygon points="25.0,240.4 120.0,241.4 186.0,240.3 190.6,238.0 196.0,236.6 201.7,238.0 208.3,240.3 219.3,239.2 226.0,237.0 228.8,233.7 228.8,311.5 25.0,311.5" fill="url(#g12)" />
<g clip-path="url(#sc3)">
<polygon points="25.0,242.0 100.0,243.0 150.0,244.0 186.0,242.0 186.0,250.0 160.0,249.0 140.0,256.0 120.0,252.0 90.0,250.0 60.0,252.0 25.0,252.0" fill="#f2dcf0" opacity="0.45"/>
<polygon points="25.0,250.0 40.0,252.0 55.0,257.0 70.0,262.0 85.0,258.0 100.0,252.0 120.0,253.0 135.0,258.0 150.0,252.0 165.0,247.0 180.0,244.0 200.0,238.0 228.8,236.0 228.8,276.0 180.0,272.0 120.0,278.0 60.0,274.0 25.0,270.0" fill="#bc6cb4" opacity="0.3"/>
<g filter="url(#bl2)" opacity="0.45">
<polygon points="196.0,246.0 204.0,246.0 206.0,305.0 198.0,305.0" fill="#f6eaf6" />
</g>
<polyline points="25.0,240.4 120.0,241.4 186.0,240.3 190.6,238.0 196.0,236.6 201.7,238.0 208.3,240.3 219.3,239.2 226.0,237.0 228.8,233.7" fill="none" stroke="#a8306e" stroke-width="1.2" opacity="0.55"/>
<rect x="25" y="233.7" width="203.8" height="77.80000000000001" fill="#fff" filter="url(#nzw)" opacity="0.55"/>
<rect x="25" y="233.7" width="203.8" height="77.80000000000001" fill="#fff" filter="url(#nzd)" opacity="0.5"/>
<rect x="25" y="233.7" width="203.8" height="77.80000000000001" fill="#fff" filter="url(#nzb)" opacity="0.5"/>
</g>
<line x1="25" y1="226" x2="228.8" y2="226" stroke="#aaa" stroke-width="0.8" stroke-dasharray="3,3"/>
<line x1="229.3" y1="226" x2="229.3" y2="311.5" stroke="#bbb" stroke-width="0.6" />
<line x1="25" y1="252.5" x2="228.8" y2="252.5" stroke="#b8a0e0" stroke-width="0.5" opacity="0.6"/>
<line x1="25" y1="281" x2="228.8" y2="281" stroke="#b8a0e0" stroke-width="0.5" opacity="0.6"/>
<text x="22.8" y="229.744" font-family='"Liberation Sans", sans-serif' font-size="10.4" font-weight="bold" text-anchor="end" fill="#000">0</text>
<text x="22.8" y="257.044" font-family='"Liberation Sans", sans-serif' font-size="10.4" font-weight="bold" text-anchor="end" fill="#000">5</text>
<text x="22.8" y="284.744" font-family='"Liberation Sans", sans-serif' font-size="10.4" font-weight="bold" text-anchor="end" fill="#000">10</text>
<text x="22.8" y="310.044" font-family='"Liberation Sans", sans-serif' font-size="10.4" font-weight="bold" text-anchor="end" fill="#000">15</text>
<text x="8.6" y="262.5" font-family='"Liberation Sans", sans-serif' font-size="10" font-weight="bold" text-anchor="middle" fill="#000" transform="rotate(-90 8.6 262.5)">depth (km)</text>
<rect x="233" y="226" width="203.5" height="100" fill="#fff" stroke="#999" stroke-width="0.6"/>
<line x1="233" y1="230.7" x2="436.5" y2="230.7" stroke="#999" stroke-width="0.6" />
<line x1="233" y1="248" x2="436.5" y2="248" stroke="#c8c8e0" stroke-width="0.5" />
<line x1="233" y1="265.5" x2="436.5" y2="265.5" stroke="#c8c8e0" stroke-width="0.5" />
<line x1="233" y1="283.7" x2="436.5" y2="283.7" stroke="#c8c8e0" stroke-width="0.5" />
<line x1="233" y1="301.7" x2="436.5" y2="301.7" stroke="#c8c8e0" stroke-width="0.5" />
<polygon points="233.0,237.0 300.0,237.5 340.0,237.5 370.0,238.2 388.6,239.2 398.0,235.4 405.4,236.4 416.5,238.2 425.9,236.4 436.5,233.6 436.5,258.7 432.4,260.0 418.0,317.5 412.0,317.5 405.0,287.6 400.0,289.5 378.0,291.0 370.0,292.5 357.0,296.5 345.0,299.5 335.0,297.5 320.0,293.5 300.0,291.5 280.0,293.5 262.0,295.5 256.0,296.0 252.0,295.0 240.0,262.0 233.0,259.5" fill="url(#g13)" />
<polygon points="253.0,290.0 258.0,286.0 262.0,289.0 270.0,284.5 280.0,280.5 286.0,279.0 300.0,279.0 310.0,280.5 320.0,284.0 330.0,287.0 345.0,288.0 357.0,289.0 357.0,296.5 345.0,299.5 335.0,297.5 320.0,293.5 300.0,291.5 280.0,293.5 262.0,295.5 256.0,296.0 252.0,295.0" fill="#0c3ee0" />
<polygon points="357.0,289.0 362.0,285.5 370.0,284.8 376.0,286.5 378.0,291.0 370.0,292.5 357.0,296.5" fill="#2c68c8" />
<polygon points="411.5,313.5 418.5,313.5 418.0,318.5 412.0,318.5" fill="#0c3ee0" />
<line x1="290.7" y1="230.7" x2="290.7" y2="326" stroke="#555" stroke-width="0.6" />
<line x1="294" y1="230.7" x2="294" y2="326" stroke="#555" stroke-width="0.6" />
<line x1="393.3" y1="230.7" x2="393.3" y2="326" stroke="#555" stroke-width="0.6" />
<line x1="404.5" y1="230.7" x2="404.5" y2="326" stroke="#555" stroke-width="0.6" />
<line x1="415.3" y1="230.7" x2="415.3" y2="326" stroke="#555" stroke-width="0.6" />
<text x="283.3" y="242.092" font-family='"Liberation Sans", sans-serif' font-size="7.2" font-weight="normal" text-anchor="middle" fill="#111">2</text>
<text x="270.6" y="245.99200000000002" font-family='"Liberation Sans", sans-serif' font-size="7.2" font-weight="normal" text-anchor="middle" fill="#111">3</text>
<text x="244.1" y="247.592" font-family='"Liberation Sans", sans-serif' font-size="7.2" font-weight="normal" text-anchor="middle" fill="#111">4.0</text>
<text x="244.1" y="252.192" font-family='"Liberation Sans", sans-serif' font-size="7.2" font-weight="normal" text-anchor="middle" fill="#111">5.0</text>
<text x="254.5" y="255.89200000000002" font-family='"Liberation Sans", sans-serif' font-size="7.2" font-weight="normal" text-anchor="middle" fill="#111">5.9</text>
<text x="254.5" y="260.49199999999996" font-family='"Liberation Sans", sans-serif' font-size="7.2" font-weight="normal" text-anchor="middle" fill="#111">6.4</text>
<text x="296.7" y="260.49199999999996" font-family='"Liberation Sans", sans-serif' font-size="7.2" font-weight="normal" text-anchor="middle" fill="#111">5.6</text>
<text x="309.1" y="255.192" font-family='"Liberation Sans", sans-serif' font-size="7.2" font-weight="normal" text-anchor="middle" fill="#111">5.0</text>
<text x="324.8" y="259.392" font-family='"Liberation Sans", sans-serif' font-size="7.2" font-weight="normal" text-anchor="middle" fill="#111">5.8</text>
<text x="337.4" y="254.092" font-family='"Liberation Sans", sans-serif' font-size="7.2" font-weight="normal" text-anchor="middle" fill="#111">5.5</text>
<text x="285.1" y="265.092" font-family='"Liberation Sans", sans-serif' font-size="7.2" font-weight="normal" text-anchor="middle" fill="#111">6.5</text>
<text x="308.2" y="265.092" font-family='"Liberation Sans", sans-serif' font-size="7.2" font-weight="normal" text-anchor="middle" fill="#111">6.5</text>
<text x="328.2" y="264.392" font-family='"Liberation Sans", sans-serif' font-size="7.2" font-weight="normal" text-anchor="middle" fill="#111">6.1</text>
<text x="340.9" y="268.392" font-family='"Liberation Sans", sans-serif' font-size="7.2" font-weight="normal" text-anchor="middle" fill="#111">6.4</text>
<text x="335.1" y="275.292" font-family='"Liberation Sans", sans-serif' font-size="7.2" font-weight="normal" text-anchor="middle" fill="#111">7.0</text>
<text x="305.2" y="279.892" font-family='"Liberation Sans", sans-serif' font-size="7.2" font-weight="normal" text-anchor="middle" fill="#111">6.9</text>
<text x="262.6" y="288.192" font-family='"Liberation Sans", sans-serif' font-size="7.2" font-weight="normal" text-anchor="middle" fill="#111">7.0</text>
<text x="337.4" y="291.392" font-family='"Liberation Sans", sans-serif' font-size="7.2" font-weight="normal" text-anchor="middle" fill="#111">7.0</text>
<text x="364.2" y="247.192" font-family='"Liberation Sans", sans-serif' font-size="7.2" font-weight="normal" text-anchor="middle" fill="#111">3</text>
<text x="377.3" y="243.192" font-family='"Liberation Sans", sans-serif' font-size="7.2" font-weight="normal" text-anchor="middle" fill="#111">2</text>
<text x="357.3" y="259.792" font-family='"Liberation Sans", sans-serif' font-size="7.2" font-weight="normal" text-anchor="middle" fill="#111">5.4</text>
<text x="397.6" y="262.792" font-family='"Liberation Sans", sans-serif' font-size="7.2" font-weight="normal" text-anchor="middle" fill="#111">6.3</text>
<text x="413.7" y="268.392" font-family='"Liberation Sans", sans-serif' font-size="7.2" font-weight="normal" text-anchor="middle" fill="#111">6.0</text>
<text x="425.7" y="263.292" font-family='"Liberation Sans", sans-serif' font-size="7.2" font-weight="normal" text-anchor="middle" fill="#111">5.8</text>
<text x="423.4" y="243.692" font-family='"Liberation Sans", sans-serif' font-size="7.2" font-weight="normal" text-anchor="middle" fill="#111">3</text>
<text x="417.2" y="252.192" font-family='"Liberation Sans", sans-serif' font-size="7.2" font-weight="normal" text-anchor="middle" fill="#111">4</text>
<text x="365.8" y="283.99199999999996" font-family='"Liberation Sans", sans-serif' font-size="7.2" font-weight="normal" text-anchor="middle" fill="#111">6.9</text>
<text x="402.7" y="280.592" font-family='"Liberation Sans", sans-serif' font-size="7.2" font-weight="normal" text-anchor="middle" fill="#111">6.9</text>
<text x="418.3" y="279.892" font-family='"Liberation Sans", sans-serif' font-size="7.2" font-weight="normal" text-anchor="middle" fill="#111">6.5</text>
<text x="289" y="284.49199999999996" font-family='"Liberation Sans", sans-serif' font-size="7.2" font-weight="normal" text-anchor="middle" fill="#fff">7.8</text>
<text x="331.7" y="296.692" font-family='"Liberation Sans", sans-serif' font-size="7.2" font-weight="normal" text-anchor="middle" fill="#fff">7.7</text>
<text x="365.3" y="292.092" font-family='"Liberation Sans", sans-serif' font-size="7.2" font-weight="normal" text-anchor="middle" fill="#fff">7.6</text>
<text x="315.6" y="288.336" font-family='"Liberation Sans", sans-serif' font-size="7.6" font-weight="bold" text-anchor="middle" fill="#f4ec3c">Moho</text>
<text x="378" y="254.092" font-family='"Liberation Sans", sans-serif' font-size="7.2" font-weight="bold" text-anchor="middle" fill="#2230d8">upper crust</text>
<text x="380" y="271.392" font-family='"Liberation Sans", sans-serif' font-size="7.2" font-weight="bold" text-anchor="middle" fill="#2230d8">middle crust</text>
<text x="340.8" y="282.892" font-family='"Liberation Sans", sans-serif' font-size="7.2" font-weight="bold" text-anchor="middle" fill="#2230d8">lower crust</text>
<text x="289.5" y="226" font-family='"Liberation Sans", sans-serif' font-size="9.2" font-weight="bold" text-anchor="middle" fill="#000" textLength="29" lengthAdjust="spacingAndGlyphs">ECr2, 5</text>
<text x="397.3" y="226" font-family='"Liberation Sans", sans-serif' font-size="9.2" font-weight="bold" text-anchor="middle" fill="#000" textLength="44.5" lengthAdjust="spacingAndGlyphs">ECr1, 6, 16</text>
<line x1="236" y1="308" x2="336.6" y2="308" stroke="#000" stroke-width="1.6" />
<polyline points="239.0,304.2 234.5,308.0 239.0,311.8" fill="none" stroke="#000" stroke-width="1.6" stroke-linejoin="miter"/>
<polyline points="333.6,304.2 338.1,308.0 333.6,311.8" fill="none" stroke="#000" stroke-width="1.6" stroke-linejoin="miter"/>
<text x="286.5" y="305" font-family='"Liberation Sans", sans-serif' font-size="10.5" font-weight="bold" text-anchor="middle" fill="#000">100 km</text>
<text x="246" y="324.5" font-family='"Liberation Serif", serif' font-size="12.5" font-weight="bold" text-anchor="middle" fill="#000">W</text>
<text x="428" y="324.5" font-family='"Liberation Serif", serif' font-size="12.5" font-weight="bold" text-anchor="middle" fill="#000">E</text>
<text x="448.4" y="233.61200000000002" font-family='"Liberation Sans", sans-serif' font-size="9.2" font-weight="normal" text-anchor="end" fill="#000">0</text>
<text x="448.4" y="252.012" font-family='"Liberation Sans", sans-serif' font-size="9.2" font-weight="normal" text-anchor="end" fill="#000">5</text>
<text x="448.4" y="269.312" font-family='"Liberation Sans", sans-serif' font-size="9.2" font-weight="normal" text-anchor="end" fill="#000">10</text>
<text x="448.4" y="287.312" font-family='"Liberation Sans", sans-serif' font-size="9.2" font-weight="normal" text-anchor="end" fill="#000">15</text>
<text x="448.4" y="305.112" font-family='"Liberation Sans", sans-serif' font-size="9.2" font-weight="normal" text-anchor="end" fill="#000">20</text>
<text x="448.4" y="322.712" font-family='"Liberation Sans", sans-serif' font-size="9.2" font-weight="normal" text-anchor="end" fill="#000">25</text>
<rect x="456.5" y="219" width="203.10000000000002" height="98.80000000000001" fill="#fff" stroke="#999" stroke-width="0.6"/>
<line x1="456.5" y1="224" x2="659.6" y2="224" stroke="#999" stroke-width="0.6" />
<polygon points="456.5,233.5 523.5,234.0 563.5,234.0 593.5,234.7 612.1,235.7 621.5,231.9 628.9,232.9 640.0,234.7 649.4,232.9 660.0,230.1 659.6,317.8 456.5,317.8" fill="url(#g14)" />
<polygon points="456.5,290.6 475.0,287.2 491.0,280.3 500.3,276.8 523.3,276.8 537.2,281.4 553.3,287.2 569.6,287.8 578.0,282.3 584.0,281.8 597.2,284.7 603.2,296.2 610.4,311.8 620.0,312.5 659.6,311.3 659.6,317.8 456.5,317.8" fill="url(#g15)" />
<g clip-path="url(#c2)">
<polygon points="456.5,233.5 523.5,234.0 563.5,234.0 593.5,234.7 612.1,235.7 621.5,231.9 628.9,232.9 640.0,234.7 649.4,232.9 660.0,230.1 622.5,312.4 620.0,312.5 610.4,311.8 603.2,296.2 597.2,284.7 584.0,281.8 578.0,282.3 569.6,287.8 553.3,287.2 537.2,281.4 523.3,276.8 500.3,276.8 491.0,280.3 479.9,285.1" fill="#b4aac8" opacity="0.5"/>
<polyline points="537.5,234.0 568.7,281.6 600.0,235.0" stroke="#e89040" stroke-width="0.5" fill="none" opacity="0.61"/><polyline points="604.5,235.3 611.5,308.7 618.4,233.1" stroke="#e23a3a" stroke-width="0.5" fill="none" opacity="0.58"/><polyline points="598.5,235.0 608.4,304.2 618.2,233.2" stroke="#e23a3a" stroke-width="0.5" fill="none" opacity="0.48"/><polyline points="479.9,233.7 494.4,273.4 508.9,233.9" stroke="#e85a5a" stroke-width="0.5" fill="none" opacity="0.45"/><polyline points="578.6,234.4 610.6,311.4 642.6,234.2" stroke="#e89040" stroke-width="0.5" fill="none" opacity="0.38"/><polyline points="546.9,234.0 568.0,287.6 589.1,234.6" stroke="#e89040" stroke-width="0.5" fill="none" opacity="0.35"/><polyline points="551.6,234.0 590.2,282.7 628.9,232.9" stroke="#e23a3a" stroke-width="0.5" fill="none" opacity="0.45"/><polyline points="592.7,234.7 617.0,307.2 641.4,234.4" stroke="#e23a3a" stroke-width="0.5" fill="none" opacity="0.41"/><polyline points="605.4,235.3 618.0,304.7 630.7,233.2" stroke="#e85a5a" stroke-width="0.5" fill="none" opacity="0.45"/><polyline points="519.7,234.0 531.4,279.2 543.0,234.0" stroke="#e23a3a" stroke-width="0.5" fill="none" opacity="0.47"/><polyline points="570.6,234.2 596.5,280.2 622.4,232.0" stroke="#6a70c8" stroke-width="0.5" fill="none" opacity="0.47"/><polyline points="490.3,233.8 524.1,273.7 557.9,234.0" stroke="#e23a3a" stroke-width="0.5" fill="none" opacity="0.41"/><polyline points="535.3,234.0 547.3,283.7 559.3,234.0" stroke="#e23a3a" stroke-width="0.5" fill="none" opacity="0.68"/><polyline points="511.1,233.9 530.9,275.4 550.6,234.0" stroke="#e85a5a" stroke-width="0.5" fill="none" opacity="0.48"/><polyline points="556.1,234.0 562.4,288.1 568.7,234.1" stroke="#e23a3a" stroke-width="0.5" fill="none" opacity="0.57"/><polyline points="606.0,235.4 616.0,311.0 626.1,232.5" stroke="#e89040" stroke-width="0.5" fill="none" opacity="0.68"/><polyline points="510.9,233.9 529.0,275.0 547.1,234.0" stroke="#e89040" stroke-width="0.5" fill="none" opacity="0.51"/><polyline points="531.4,234.0 564.0,285.3 596.6,234.9" stroke="#e23a3a" stroke-width="0.5" fill="none" opacity="0.36"/><polyline points="605.7,235.4 614.8,310.1 623.9,232.2" stroke="#d84848" stroke-width="0.5" fill="none" opacity="0.48"/><polyline points="485.6,233.7 501.0,271.5 516.4,233.9" stroke="#e23a3a" stroke-width="0.5" fill="none" opacity="0.46"/><polyline points="513.0,233.9 525.1,277.7 537.1,234.0" stroke="#e23a3a" stroke-width="0.5" fill="none" opacity="0.60"/><polyline points="501.5,233.8 524.0,271.5 546.4,234.0" stroke="#e23a3a" stroke-width="0.5" fill="none" opacity="0.70"/><polyline points="536.2,234.0 556.0,286.2 575.8,234.3" stroke="#d84848" stroke-width="0.5" fill="none" opacity="0.47"/><polyline points="487.4,233.7 515.6,276.5 543.7,234.0" stroke="#6a70c8" stroke-width="0.5" fill="none" opacity="0.36"/><polyline points="515.8,233.9 550.3,285.9 584.8,234.5" stroke="#6a70c8" stroke-width="0.5" fill="none" opacity="0.55"/><polyline points="462.3,233.5 498.8,274.6 535.3,234.0" stroke="#e23a3a" stroke-width="0.5" fill="none" opacity="0.50"/><polyline points="466.4,233.6 501.2,275.1 535.9,234.0" stroke="#e85a5a" stroke-width="0.5" fill="none" opacity="0.67"/><polyline points="556.6,234.0 568.4,284.1 580.1,234.4" stroke="#e85a5a" stroke-width="0.5" fill="none" opacity="0.59"/><polyline points="509.9,233.9 525.2,274.2 540.5,234.0" stroke="#e23a3a" stroke-width="0.5" fill="none" opacity="0.39"/><polyline points="573.1,234.2 597.1,284.1 621.2,232.0" stroke="#e85a5a" stroke-width="0.5" fill="none" opacity="0.65"/><polyline points="482.8,233.7 505.6,273.2 528.3,234.0" stroke="#d84848" stroke-width="0.5" fill="none" opacity="0.65"/><polyline points="498.7,233.8 531.4,273.5 564.1,234.0" stroke="#6a70c8" stroke-width="0.5" fill="none" opacity="0.56"/><polyline points="468.4,233.6 484.8,279.0 501.1,233.8" stroke="#6a70c8" stroke-width="0.5" fill="none" opacity="0.45"/><polyline points="517.0,234.0 549.2,280.5 581.3,234.4" stroke="#e23a3a" stroke-width="0.5" fill="none" opacity="0.68"/><polyline points="516.3,233.9 528.4,271.8 540.5,234.0" stroke="#e85a5a" stroke-width="0.5" fill="none" opacity="0.54"/><polyline points="486.8,233.7 515.6,273.6 544.5,234.0" stroke="#e89040" stroke-width="0.5" fill="none" opacity="0.53"/><polyline points="557.8,234.0 576.0,282.2 594.1,234.7" stroke="#e23a3a" stroke-width="0.5" fill="none" opacity="0.61"/><polyline points="580.1,234.4 598.0,279.7 615.9,234.2" stroke="#e89040" stroke-width="0.5" fill="none" opacity="0.65"/><polyline points="525.6,234.0 544.0,281.9 562.4,234.0" stroke="#e23a3a" stroke-width="0.5" fill="none" opacity="0.54"/><polyline points="469.1,233.6 503.6,269.4 538.0,234.0" stroke="#e85a5a" stroke-width="0.5" fill="none" opacity="0.45"/><polyline points="462.3,233.5 491.1,277.5 519.9,234.0" stroke="#d84848" stroke-width="0.5" fill="none" opacity="0.62"/><polyline points="534.1,234.0 562.7,284.8 591.4,234.7" stroke="#d84848" stroke-width="0.5" fill="none" opacity="0.54"/><polyline points="588.4,234.6 603.6,289.1 618.8,233.0" stroke="#e23a3a" stroke-width="0.5" fill="none" opacity="0.41"/><polyline points="514.7,233.9 542.8,282.4 570.9,234.2" stroke="#6a70c8" stroke-width="0.5" fill="none" opacity="0.41"/><polyline points="542.8,234.0 582.4,274.1 621.9,232.0" stroke="#e23a3a" stroke-width="0.5" fill="none" opacity="0.37"/><polyline points="482.1,233.7 498.9,276.7 515.7,233.9" stroke="#e23a3a" stroke-width="0.5" fill="none" opacity="0.54"/><polyline points="521.2,234.0 539.1,277.1 557.1,234.0" stroke="#e23a3a" stroke-width="0.5" fill="none" opacity="0.56"/><polyline points="477.1,233.7 513.8,277.8 550.5,234.0" stroke="#e85a5a" stroke-width="0.5" fill="none" opacity="0.68"/><polyline points="566.5,234.1 602.0,288.6 637.4,234.3" stroke="#d84848" stroke-width="0.5" fill="none" opacity="0.48"/><polyline points="458.1,233.5 485.0,283.0 511.9,233.9" stroke="#d84848" stroke-width="0.5" fill="none" opacity="0.53"/><polyline points="599.6,235.0 615.6,310.0 631.5,233.3" stroke="#e23a3a" stroke-width="0.5" fill="none" opacity="0.50"/><polyline points="568.0,234.1 595.9,282.1 623.7,232.2" stroke="#e23a3a" stroke-width="0.5" fill="none" opacity="0.40"/><polyline points="512.2,233.9 534.5,279.7 556.7,234.0" stroke="#e23a3a" stroke-width="0.5" fill="none" opacity="0.56"/><polyline points="493.6,233.8 530.0,280.0 566.3,234.1" stroke="#e23a3a" stroke-width="0.5" fill="none" opacity="0.46"/><polyline points="586.3,234.5 610.6,309.9 635.0,233.9" stroke="#d84848" stroke-width="0.5" fill="none" opacity="0.48"/><polyline points="527.8,234.0 541.4,281.3 555.1,234.0" stroke="#6a70c8" stroke-width="0.5" fill="none" opacity="0.48"/><polyline points="579.9,234.4 617.0,307.9 654.1,231.7" stroke="#e23a3a" stroke-width="0.5" fill="none" opacity="0.61"/><polyline points="508.2,233.9 522.8,277.6 537.3,234.0" stroke="#e23a3a" stroke-width="0.5" fill="none" opacity="0.52"/><polyline points="498.5,233.8 520.7,276.7 542.9,234.0" stroke="#d84848" stroke-width="0.5" fill="none" opacity="0.69"/><polyline points="507.5,233.9 514.9,276.6 522.2,234.0" stroke="#e85a5a" stroke-width="0.5" fill="none" opacity="0.35"/><polyline points="540.5,234.0 555.8,279.9 571.2,234.2" stroke="#e89040" stroke-width="0.5" fill="none" opacity="0.36"/><polyline points="515.1,233.9 549.8,280.4 584.5,234.5" stroke="#e23a3a" stroke-width="0.5" fill="none" opacity="0.45"/><polyline points="544.5,234.0 566.6,282.9 588.7,234.6" stroke="#d84848" stroke-width="0.5" fill="none" opacity="0.66"/><polyline points="601.0,235.1 607.6,305.5 614.1,234.9" stroke="#e23a3a" stroke-width="0.5" fill="none" opacity="0.54"/><polyline points="511.7,233.9 527.8,274.5 543.9,234.0" stroke="#e85a5a" stroke-width="0.5" fill="none" opacity="0.47"/><polyline points="543.5,234.0 577.1,282.7 610.8,235.6" stroke="#e23a3a" stroke-width="0.5" fill="none" opacity="0.44"/><polyline points="507.7,233.9 544.9,277.2 582.0,234.4" stroke="#d84848" stroke-width="0.5" fill="none" opacity="0.42"/><polyline points="507.7,233.9 541.2,278.5 574.6,234.3" stroke="#6a70c8" stroke-width="0.5" fill="none" opacity="0.60"/><polyline points="547.7,234.0 570.1,280.3 592.4,234.7" stroke="#e85a5a" stroke-width="0.5" fill="none" opacity="0.52"/><polyline points="546.7,234.0 577.2,275.7 607.7,235.5" stroke="#e85a5a" stroke-width="0.5" fill="none" opacity="0.64"/><polyline points="454.8,233.5 489.3,275.8 523.7,234.0" stroke="#e85a5a" stroke-width="0.5" fill="none" opacity="0.55"/><polyline points="550.3,234.0 572.4,284.2 594.4,234.8" stroke="#e23a3a" stroke-width="0.5" fill="none" opacity="0.52"/><polyline points="535.3,234.0 558.2,285.4 581.1,234.4" stroke="#e23a3a" stroke-width="0.5" fill="none" opacity="0.50"/><polyline points="549.5,234.0 557.1,281.7 564.8,234.0" stroke="#e23a3a" stroke-width="0.5" fill="none" opacity="0.64"/><polyline points="564.3,234.0 592.8,284.5 621.4,231.9" stroke="#6a70c8" stroke-width="0.5" fill="none" opacity="0.50"/><polyline points="469.9,233.6 489.7,277.5 509.4,233.9" stroke="#e23a3a" stroke-width="0.5" fill="none" opacity="0.64"/><polyline points="483.2,233.7 511.1,269.2 539.1,234.0" stroke="#6a70c8" stroke-width="0.5" fill="none" opacity="0.66"/><polyline points="591.7,234.7 621.7,309.5 651.7,232.3" stroke="#e23a3a" stroke-width="0.5" fill="none" opacity="0.56"/><polyline points="527.4,234.0 538.9,277.4 550.4,234.0" stroke="#e23a3a" stroke-width="0.5" fill="none" opacity="0.54"/><polyline points="542.7,234.0 574.1,283.4 605.4,235.3" stroke="#d84848" stroke-width="0.5" fill="none" opacity="0.55"/><polyline points="549.9,234.0 585.8,282.0 621.6,231.9" stroke="#e85a5a" stroke-width="0.5" fill="none" opacity="0.38"/><polyline points="555.0,234.0 577.7,280.3 600.3,235.1" stroke="#6a70c8" stroke-width="0.5" fill="none" opacity="0.48"/><polyline points="458.1,233.5 487.8,281.3 517.5,234.0" stroke="#6a70c8" stroke-width="0.5" fill="none" opacity="0.59"/><polyline points="483.2,233.7 521.3,272.9 559.3,234.0" stroke="#e23a3a" stroke-width="0.5" fill="none" opacity="0.44"/><polyline points="543.9,234.0 558.6,281.6 573.2,234.2" stroke="#d84848" stroke-width="0.5" fill="none" opacity="0.69"/><polyline points="559.8,234.0 595.1,281.2 630.5,233.2" stroke="#e85a5a" stroke-width="0.5" fill="none" opacity="0.41"/><polyline points="553.4,234.0 581.6,282.2 609.9,235.6" stroke="#6a70c8" stroke-width="0.5" fill="none" opacity="0.36"/><polyline points="579.8,234.4 603.0,292.8 626.3,232.5" stroke="#e85a5a" stroke-width="0.5" fill="none" opacity="0.66"/><polyline points="531.4,234.0 548.4,279.3 565.4,234.0" stroke="#e23a3a" stroke-width="0.5" fill="none" opacity="0.54"/><polyline points="499.9,233.8 534.7,273.1 569.6,234.1" stroke="#e85a5a" stroke-width="0.5" fill="none" opacity="0.59"/><polyline points="501.7,233.8 511.7,269.0 521.6,234.0" stroke="#6a70c8" stroke-width="0.5" fill="none" opacity="0.52"/><polyline points="480.2,233.7 510.0,274.4 539.9,234.0" stroke="#e89040" stroke-width="0.5" fill="none" opacity="0.43"/><polyline points="500.5,233.8 527.4,276.0 554.3,234.0" stroke="#e85a5a" stroke-width="0.5" fill="none" opacity="0.48"/><polyline points="564.8,234.0 583.0,280.2 601.2,235.1" stroke="#6a70c8" stroke-width="0.5" fill="none" opacity="0.50"/><polyline points="577.8,234.3 601.4,288.3 625.0,232.4" stroke="#d84848" stroke-width="0.5" fill="none" opacity="0.43"/><polyline points="497.5,233.8 505.6,277.5 513.8,233.9" stroke="#e23a3a" stroke-width="0.5" fill="none" opacity="0.42"/><polyline points="449.3,233.5 485.5,279.3 521.7,234.0" stroke="#e89040" stroke-width="0.5" fill="none" opacity="0.47"/><polyline points="524.6,234.0 540.8,275.3 557.0,234.0" stroke="#e85a5a" stroke-width="0.5" fill="none" opacity="0.46"/><polyline points="533.2,234.0 545.8,279.6 558.3,234.0" stroke="#e23a3a" stroke-width="0.5" fill="none" opacity="0.48"/><polyline points="498.9,233.8 534.9,280.3 570.8,234.2" stroke="#e23a3a" stroke-width="0.5" fill="none" opacity="0.39"/><polyline points="565.1,234.0 596.6,279.5 628.1,232.8" stroke="#e23a3a" stroke-width="0.5" fill="none" opacity="0.52"/><polyline points="447.0,233.5 484.4,280.8 521.9,234.0" stroke="#e23a3a" stroke-width="0.5" fill="none" opacity="0.59"/><polyline points="554.0,234.0 576.0,276.1 598.0,234.9" stroke="#e23a3a" stroke-width="0.5" fill="none" opacity="0.62"/><polyline points="504.7,233.9 526.1,276.6 547.6,234.0" stroke="#e23a3a" stroke-width="0.5" fill="none" opacity="0.36"/><polyline points="556.3,234.0 581.8,277.1 607.4,235.4" stroke="#d84848" stroke-width="0.5" fill="none" opacity="0.49"/><polyline points="600.4,235.1 618.8,310.6 637.2,234.2" stroke="#e85a5a" stroke-width="0.5" fill="none" opacity="0.48"/><polyline points="449.6,233.5 489.4,277.8 529.2,234.0" stroke="#e89040" stroke-width="0.5" fill="none" opacity="0.43"/><polyline points="537.8,234.0 575.8,279.0 613.7,235.0" stroke="#e85a5a" stroke-width="0.5" fill="none" opacity="0.60"/><polyline points="496.8,233.8 518.5,273.7 540.2,234.0" stroke="#6a70c8" stroke-width="0.5" fill="none" opacity="0.49"/><polyline points="461.6,233.5 486.3,274.4 510.9,233.9" stroke="#d84848" stroke-width="0.5" fill="none" opacity="0.55"/><polyline points="583.5,234.5 613.9,310.9 644.3,233.9" stroke="#e89040" stroke-width="0.5" fill="none" opacity="0.52"/><polyline points="605.5,235.3 613.4,310.8 621.2,232.0" stroke="#e23a3a" stroke-width="0.5" fill="none" opacity="0.52"/><polyline points="583.7,234.5 591.4,276.9 599.0,235.0" stroke="#e85a5a" stroke-width="0.5" fill="none" opacity="0.46"/><polyline points="479.9,233.7 487.2,274.2 494.5,233.8" stroke="#e23a3a" stroke-width="0.5" fill="none" opacity="0.59"/><polyline points="558.9,234.0 571.2,285.6 583.6,234.5" stroke="#e23a3a" stroke-width="0.5" fill="none" opacity="0.63"/><polyline points="452.7,233.5 492.2,279.4 531.7,234.0" stroke="#e23a3a" stroke-width="0.5" fill="none" opacity="0.65"/><polyline points="503.9,233.9 510.4,272.9 517.0,234.0" stroke="#e85a5a" stroke-width="0.5" fill="none" opacity="0.50"/><polyline points="565.7,234.1 589.5,282.8 613.2,235.3" stroke="#e23a3a" stroke-width="0.5" fill="none" opacity="0.67"/><polyline points="502.5,233.8 523.7,270.5 545.0,234.0" stroke="#e23a3a" stroke-width="0.5" fill="none" opacity="0.54"/><polyline points="477.2,233.7 499.6,271.0 522.1,234.0" stroke="#e23a3a" stroke-width="0.5" fill="none" opacity="0.64"/><polyline points="514.1,233.9 524.5,277.5 534.9,234.0" stroke="#e23a3a" stroke-width="0.5" fill="none" opacity="0.59"/><polyline points="554.9,234.0 593.8,279.0 632.7,233.5" stroke="#e23a3a" stroke-width="0.5" fill="none" opacity="0.37"/><polyline points="572.2,234.2 579.8,281.3 587.4,234.6" stroke="#e23a3a" stroke-width="0.5" fill="none" opacity="0.66"/><polyline points="597.8,234.9 606.2,296.8 614.6,234.7" stroke="#e85a5a" stroke-width="0.5" fill="none" opacity="0.61"/><polyline points="522.7,234.0 559.2,282.5 595.7,234.8" stroke="#e89040" stroke-width="0.5" fill="none" opacity="0.40"/><polyline points="473.0,233.6 483.9,278.2 494.8,233.8" stroke="#e89040" stroke-width="0.5" fill="none" opacity="0.68"/><polyline points="553.9,234.0 583.7,280.4 613.6,235.1" stroke="#e89040" stroke-width="0.5" fill="none" opacity="0.63"/><polyline points="543.1,234.0 560.0,285.7 577.0,234.3" stroke="#e23a3a" stroke-width="0.5" fill="none" opacity="0.44"/><polyline points="560.6,234.0 576.3,283.8 592.0,234.7" stroke="#e89040" stroke-width="0.5" fill="none" opacity="0.61"/><polyline points="473.7,233.6 483.8,275.7 494.0,233.8" stroke="#e89040" stroke-width="0.5" fill="none" opacity="0.48"/><polyline points="564.3,234.0 602.5,290.4 640.8,234.5" stroke="#e23a3a" stroke-width="0.5" fill="none" opacity="0.53"/><polyline points="484.9,233.7 497.7,275.5 510.6,233.9" stroke="#e23a3a" stroke-width="0.5" fill="none" opacity="0.55"/><polyline points="567.1,234.1 597.8,286.1 628.6,232.9" stroke="#d84848" stroke-width="0.5" fill="none" opacity="0.56"/><polyline points="558.9,234.0 569.8,281.8 580.7,234.4" stroke="#e85a5a" stroke-width="0.5" fill="none" opacity="0.63"/><polyline points="479.9,233.7 496.7,270.9 513.5,233.9" stroke="#e85a5a" stroke-width="0.5" fill="none" opacity="0.56"/><polyline points="496.7,233.8 504.3,271.8 512.0,233.9" stroke="#e23a3a" stroke-width="0.5" fill="none" opacity="0.54"/><polyline points="591.9,234.7 618.2,312.4 644.5,233.8" stroke="#e89040" stroke-width="0.5" fill="none" opacity="0.65"/><polyline points="564.6,234.0 577.7,283.5 590.7,234.6" stroke="#d84848" stroke-width="0.5" fill="none" opacity="0.43"/><polyline points="562.4,234.0 580.5,278.9 598.5,235.0" stroke="#e23a3a" stroke-width="0.5" fill="none" opacity="0.45"/><polyline points="483.4,233.7 508.6,274.6 533.7,234.0" stroke="#e89040" stroke-width="0.5" fill="none" opacity="0.62"/><polyline points="498.7,233.8 532.2,273.4 565.7,234.1" stroke="#6a70c8" stroke-width="0.5" fill="none" opacity="0.64"/><polyline points="574.1,234.2 601.1,289.6 628.1,232.8" stroke="#e23a3a" stroke-width="0.5" fill="none" opacity="0.40"/><polyline points="494.9,233.8 513.9,277.0 532.8,234.0" stroke="#e85a5a" stroke-width="0.5" fill="none" opacity="0.38"/><polyline points="545.6,234.0 582.3,281.2 618.9,233.0" stroke="#e89040" stroke-width="0.5" fill="none" opacity="0.61"/><polyline points="526.0,234.0 547.9,281.5 569.9,234.1" stroke="#e23a3a" stroke-width="0.5" fill="none" opacity="0.63"/><polyline points="527.2,234.0 533.6,276.6 539.9,234.0" stroke="#d84848" stroke-width="0.5" fill="none" opacity="0.57"/><polyline points="589.1,234.6 595.9,279.3 602.6,235.2" stroke="#d84848" stroke-width="0.5" fill="none" opacity="0.46"/><polyline points="512.3,233.9 534.5,275.2 556.7,234.0" stroke="#e85a5a" stroke-width="0.5" fill="none" opacity="0.51"/><polyline points="566.5,234.1 592.2,276.2 617.9,233.3" stroke="#d84848" stroke-width="0.5" fill="none" opacity="0.58"/><polyline points="523.3,234.0 556.4,285.1 589.6,234.6" stroke="#d84848" stroke-width="0.5" fill="none" opacity="0.36"/>
<polygon points="456.5,233.5 523.5,234.0 563.5,234.0 593.5,234.7 612.1,235.7 621.5,231.9 628.9,232.9 640.0,234.7 649.4,232.9 660.0,230.1 659.6,262.0 456.5,262.0" fill="url(#g16)" opacity="0.72"/>
<g filter="url(#bl1)">
<ellipse cx="451.8" cy="235" rx="4.6" ry="1.2" fill="#1a22c0" opacity="0.07"/>
<ellipse cx="462.2" cy="235" rx="4.6" ry="1.2" fill="#c41a12" opacity="0.07"/>
<ellipse cx="472.6" cy="235" rx="4.6" ry="1.2" fill="#1a22c0" opacity="0.19"/>
<ellipse cx="483.0" cy="235" rx="4.6" ry="1.2" fill="#c41a12" opacity="0.30"/>
<ellipse cx="493.4" cy="235" rx="4.6" ry="1.2" fill="#1a22c0" opacity="0.30"/>
<ellipse cx="503.8" cy="235" rx="4.6" ry="1.2" fill="#c41a12" opacity="0.30"/>
<ellipse cx="514.2" cy="235" rx="4.6" ry="1.2" fill="#1a22c0" opacity="0.30"/>
<ellipse cx="524.6" cy="235" rx="4.6" ry="1.2" fill="#c41a12" opacity="0.30"/>
<ellipse cx="535.0" cy="235" rx="4.6" ry="1.2" fill="#1a22c0" opacity="0.30"/>
<ellipse cx="545.4" cy="235" rx="4.6" ry="1.2" fill="#c41a12" opacity="0.30"/>
<ellipse cx="555.8" cy="235" rx="4.6" ry="1.2" fill="#1a22c0" opacity="0.30"/>
<ellipse cx="566.2" cy="235" rx="4.6" ry="1.2" fill="#c41a12" opacity="0.30"/>
<ellipse cx="576.6" cy="235" rx="4.6" ry="1.2" fill="#1a22c0" opacity="0.30"/>
<ellipse cx="587.0" cy="235" rx="4.6" ry="1.2" fill="#c41a12" opacity="0.30"/>
<ellipse cx="597.4" cy="235" rx="4.6" ry="1.2" fill="#1a22c0" opacity="0.30"/>
<ellipse cx="607.8" cy="235" rx="4.6" ry="1.2" fill="#c41a12" opacity="0.30"/>
<ellipse cx="618.2" cy="235" rx="4.6" ry="1.2" fill="#1a22c0" opacity="0.30"/>
<ellipse cx="628.6" cy="235" rx="4.6" ry="1.2" fill="#c41a12" opacity="0.30"/>
<ellipse cx="639.0" cy="235" rx="4.6" ry="1.2" fill="#1a22c0" opacity="0.25"/>
<ellipse cx="649.4" cy="235" rx="4.6" ry="1.2" fill="#c41a12" opacity="0.12"/>
<ellipse cx="659.8" cy="235" rx="4.6" ry="1.2" fill="#1a22c0" opacity="0.07"/>
<ellipse cx="451.8" cy="241.2" rx="4.6" ry="2.3" fill="#c41a12" opacity="0.24"/>
<ellipse cx="462.2" cy="241.2" rx="4.6" ry="2.3" fill="#1a22c0" opacity="0.24"/>
<ellipse cx="472.6" cy="241.2" rx="4.6" ry="2.3" fill="#c41a12" opacity="0.61"/>
<ellipse cx="483.0" cy="241.2" rx="4.6" ry="2.3" fill="#1a22c0" opacity="0.95"/>
<ellipse cx="493.4" cy="241.2" rx="4.6" ry="2.3" fill="#c41a12" opacity="0.95"/>
<ellipse cx="503.8" cy="241.2" rx="4.6" ry="2.3" fill="#1a22c0" opacity="0.95"/>
<ellipse cx="514.2" cy="241.2" rx="4.6" ry="2.3" fill="#c41a12" opacity="0.95"/>
<ellipse cx="524.6" cy="241.2" rx="4.6" ry="2.3" fill="#1a22c0" opacity="0.95"/>
<ellipse cx="535.0" cy="241.2" rx="4.6" ry="2.3" fill="#c41a12" opacity="0.95"/>
<ellipse cx="545.4" cy="241.2" rx="4.6" ry="2.3" fill="#1a22c0" opacity="0.95"/>
<ellipse cx="555.8" cy="241.2" rx="4.6" ry="2.3" fill="#c41a12" opacity="0.95"/>
<ellipse cx="566.2" cy="241.2" rx="4.6" ry="2.3" fill="#1a22c0" opacity="0.95"/>
<ellipse cx="576.6" cy="241.2" rx="4.6" ry="2.3" fill="#c41a12" opacity="0.95"/>
<ellipse cx="587.0" cy="241.2" rx="4.6" ry="2.3" fill="#1a22c0" opacity="0.95"/>
<ellipse cx="597.4" cy="241.2" rx="4.6" ry="2.3" fill="#c41a12" opacity="0.95"/>
<ellipse cx="607.8" cy="241.2" rx="4.6" ry="2.3" fill="#1a22c0" opacity="0.95"/>
<ellipse cx="618.2" cy="241.2" rx="4.6" ry="2.3" fill="#c41a12" opacity="0.95"/>
<ellipse cx="628.6" cy="241.2" rx="4.6" ry="2.3" fill="#1a22c0" opacity="0.95"/>
<ellipse cx="639.0" cy="241.2" rx="4.6" ry="2.3" fill="#c41a12" opacity="0.78"/>
<ellipse cx="649.4" cy="241.2" rx="4.6" ry="2.3" fill="#1a22c0" opacity="0.39"/>
<ellipse cx="659.8" cy="241.2" rx="4.6" ry="2.3" fill="#c41a12" opacity="0.24"/>
<ellipse cx="451.8" cy="248.8" rx="4.6" ry="3.1" fill="#1a22c0" opacity="0.25"/>
<ellipse cx="462.2" cy="248.8" rx="4.6" ry="3.1" fill="#c41a12" opacity="0.25"/>
<ellipse cx="472.6" cy="248.8" rx="4.6" ry="3.1" fill="#1a22c0" opacity="0.64"/>
<ellipse cx="483.0" cy="248.8" rx="4.6" ry="3.1" fill="#c41a12" opacity="1.00"/>
<ellipse cx="493.4" cy="248.8" rx="4.6" ry="3.1" fill="#1a22c0" opacity="1.00"/>
<ellipse cx="503.8" cy="248.8" rx="4.6" ry="3.1" fill="#c41a12" opacity="1.00"/>
<ellipse cx="514.2" cy="248.8" rx="4.6" ry="3.1" fill="#1a22c0" opacity="1.00"/>
<ellipse cx="524.6" cy="248.8" rx="4.6" ry="3.1" fill="#c41a12" opacity="1.00"/>
<ellipse cx="535.0" cy="248.8" rx="4.6" ry="3.1" fill="#1a22c0" opacity="1.00"/>
<ellipse cx="545.4" cy="248.8" rx="4.6" ry="3.1" fill="#c41a12" opacity="1.00"/>
<ellipse cx="555.8" cy="248.8" rx="4.6" ry="3.1" fill="#1a22c0" opacity="1.00"/>
<ellipse cx="566.2" cy="248.8" rx="4.6" ry="3.1" fill="#c41a12" opacity="1.00"/>
<ellipse cx="576.6" cy="248.8" rx="4.6" ry="3.1" fill="#1a22c0" opacity="1.00"/>
<ellipse cx="587.0" cy="248.8" rx="4.6" ry="3.1" fill="#c41a12" opacity="1.00"/>
<ellipse cx="597.4" cy="248.8" rx="4.6" ry="3.1" fill="#1a22c0" opacity="1.00"/>
<ellipse cx="607.8" cy="248.8" rx="4.6" ry="3.1" fill="#c41a12" opacity="1.00"/>
<ellipse cx="618.2" cy="248.8" rx="4.6" ry="3.1" fill="#1a22c0" opacity="1.00"/>
<ellipse cx="628.6" cy="248.8" rx="4.6" ry="3.1" fill="#c41a12" opacity="1.00"/>
<ellipse cx="639.0" cy="248.8" rx="4.6" ry="3.1" fill="#1a22c0" opacity="0.82"/>
<ellipse cx="649.4" cy="248.8" rx="4.6" ry="3.1" fill="#c41a12" opacity="0.41"/>
<ellipse cx="659.8" cy="248.8" rx="4.6" ry="3.1" fill="#1a22c0" opacity="0.25"/>
<ellipse cx="451.8" cy="257.8" rx="4.6" ry="2.8" fill="#c41a12" opacity="0.09"/>
<ellipse cx="462.2" cy="257.8" rx="4.6" ry="2.8" fill="#1a22c0" opacity="0.09"/>
<ellipse cx="472.6" cy="257.8" rx="4.6" ry="2.8" fill="#c41a12" opacity="0.23"/>
<ellipse cx="483.0" cy="257.8" rx="4.6" ry="2.8" fill="#1a22c0" opacity="0.35"/>
<ellipse cx="493.4" cy="257.8" rx="4.6" ry="2.8" fill="#c41a12" opacity="0.35"/>
<ellipse cx="503.8" cy="257.8" rx="4.6" ry="2.8" fill="#1a22c0" opacity="0.35"/>
<ellipse cx="514.2" cy="257.8" rx="4.6" ry="2.8" fill="#c41a12" opacity="0.35"/>
<ellipse cx="524.6" cy="257.8" rx="4.6" ry="2.8" fill="#1a22c0" opacity="0.35"/>
<ellipse cx="535.0" cy="257.8" rx="4.6" ry="2.8" fill="#c41a12" opacity="0.35"/>
<ellipse cx="545.4" cy="257.8" rx="4.6" ry="2.8" fill="#1a22c0" opacity="0.35"/>
<ellipse cx="555.8" cy="257.8" rx="4.6" ry="2.8" fill="#c41a12" opacity="0.35"/>
<ellipse cx="566.2" cy="257.8" rx="4.6" ry="2.8" fill="#1a22c0" opacity="0.35"/>
<ellipse cx="576.6" cy="257.8" rx="4.6" ry="2.8" fill="#c41a12" opacity="0.35"/>
<ellipse cx="587.0" cy="257.8" rx="4.6" ry="2.8" fill="#1a22c0" opacity="0.35"/>
<ellipse cx="597.4" cy="257.8" rx="4.6" ry="2.8" fill="#c41a12" opacity="0.35"/>
<ellipse cx="607.8" cy="257.8" rx="4.6" ry="2.8" fill="#1a22c0" opacity="0.35"/>
<ellipse cx="618.2" cy="257.8" rx="4.6" ry="2.8" fill="#c41a12" opacity="0.35"/>
<ellipse cx="628.6" cy="257.8" rx="4.6" ry="2.8" fill="#1a22c0" opacity="0.35"/>
<ellipse cx="639.0" cy="257.8" rx="4.6" ry="2.8" fill="#c41a12" opacity="0.29"/>
<ellipse cx="649.4" cy="257.8" rx="4.6" ry="2.8" fill="#1a22c0" opacity="0.14"/>
<ellipse cx="659.8" cy="257.8" rx="4.6" ry="2.8" fill="#c41a12" opacity="0.09"/>
<ellipse cx="451.8" cy="266" rx="4.6" ry="3.0" fill="#1a22c0" opacity="0.05"/>
<ellipse cx="462.2" cy="266" rx="4.6" ry="3.0" fill="#c41a12" opacity="0.05"/>
<ellipse cx="472.6" cy="266" rx="4.6" ry="3.0" fill="#1a22c0" opacity="0.13"/>
<ellipse cx="483.0" cy="266" rx="4.6" ry="3.0" fill="#c41a12" opacity="0.20"/>
<ellipse cx="493.4" cy="266" rx="4.6" ry="3.0" fill="#1a22c0" opacity="0.20"/>
<ellipse cx="503.8" cy="266" rx="4.6" ry="3.0" fill="#c41a12" opacity="0.20"/>
<ellipse cx="514.2" cy="266" rx="4.6" ry="3.0" fill="#1a22c0" opacity="0.20"/>
<ellipse cx="524.6" cy="266" rx="4.6" ry="3.0" fill="#c41a12" opacity="0.20"/>
<ellipse cx="535.0" cy="266" rx="4.6" ry="3.0" fill="#1a22c0" opacity="0.20"/>
<ellipse cx="545.4" cy="266" rx="4.6" ry="3.0" fill="#c41a12" opacity="0.20"/>
<ellipse cx="555.8" cy="266" rx="4.6" ry="3.0" fill="#1a22c0" opacity="0.20"/>
<ellipse cx="566.2" cy="266" rx="4.6" ry="3.0" fill="#c41a12" opacity="0.20"/>
<ellipse cx="576.6" cy="266" rx="4.6" ry="3.0" fill="#1a22c0" opacity="0.20"/>
<ellipse cx="587.0" cy="266" rx="4.6" ry="3.0" fill="#c41a12" opacity="0.20"/>
<ellipse cx="597.4" cy="266" rx="4.6" ry="3.0" fill="#1a22c0" opacity="0.20"/>
<ellipse cx="607.8" cy="266" rx="4.6" ry="3.0" fill="#c41a12" opacity="0.20"/>
<ellipse cx="618.2" cy="266" rx="4.6" ry="3.0" fill="#1a22c0" opacity="0.20"/>
<ellipse cx="628.6" cy="266" rx="4.6" ry="3.0" fill="#c41a12" opacity="0.20"/>
<ellipse cx="639.0" cy="266" rx="4.6" ry="3.0" fill="#1a22c0" opacity="0.16"/>
<ellipse cx="649.4" cy="266" rx="4.6" ry="3.0" fill="#c41a12" opacity="0.08"/>
<ellipse cx="659.8" cy="266" rx="4.6" ry="3.0" fill="#1a22c0" opacity="0.05"/>
</g></g>
<polyline points="456.5,290.6 475.0,287.2 491.0,280.3 500.3,276.8 523.3,276.8 537.2,281.4 553.3,287.2 569.6,287.8 578.0,282.3 584.0,281.8 597.2,284.7 603.2,296.2 610.4,311.8 620.0,312.5 659.6,311.3" fill="none" stroke="#222" stroke-width="0.9" stroke-dasharray="2,1.6"/>
<line x1="456.5" y1="245" x2="659.6" y2="245" stroke="#555" stroke-width="0.4" opacity="0.6"/>
<line x1="456.5" y1="262.5" x2="659.6" y2="262.5" stroke="#555" stroke-width="0.4" opacity="0.6"/>
<line x1="456.5" y1="280" x2="659.6" y2="280" stroke="#555" stroke-width="0.4" opacity="0.6"/>
<line x1="456.5" y1="298" x2="659.6" y2="298" stroke="#555" stroke-width="0.4" opacity="0.6"/>
<line x1="514.2" y1="224" x2="514.2" y2="317.8" stroke="#666" stroke-width="0.5" opacity="0.8"/>
<line x1="517.5" y1="224" x2="517.5" y2="317.8" stroke="#666" stroke-width="0.5" opacity="0.8"/>
<line x1="616.8" y1="224" x2="616.8" y2="317.8" stroke="#666" stroke-width="0.5" opacity="0.8"/>
<line x1="628" y1="224" x2="628" y2="317.8" stroke="#666" stroke-width="0.5" opacity="0.8"/>
<line x1="638.8" y1="224" x2="638.8" y2="317.8" stroke="#666" stroke-width="0.5" opacity="0.8"/>
<g filter="url(#bl2)" opacity="0.35">
<polygon points="490.0,262.0 515.0,258.0 545.0,262.0 560.0,272.0 540.0,281.0 520.0,276.0 500.0,277.0 488.0,280.0" fill="#e85050" />
</g>
<text x="671.6" y="231.012" font-family='"Liberation Sans", sans-serif' font-size="9.2" font-weight="normal" text-anchor="end" fill="#000">0</text>
<text x="671.6" y="248.312" font-family='"Liberation Sans", sans-serif' font-size="9.2" font-weight="normal" text-anchor="end" fill="#000">5</text>
<text x="671.6" y="266.512" font-family='"Liberation Sans", sans-serif' font-size="9.2" font-weight="normal" text-anchor="end" fill="#000">10</text>
<text x="671.6" y="283.812" font-family='"Liberation Sans", sans-serif' font-size="9.2" font-weight="normal" text-anchor="end" fill="#000">15</text>
<text x="671.6" y="301.812" font-family='"Liberation Sans", sans-serif' font-size="9.2" font-weight="normal" text-anchor="end" fill="#000">20</text>
<text x="671.6" y="319.812" font-family='"Liberation Sans", sans-serif' font-size="9.2" font-weight="normal" text-anchor="end" fill="#000">25</text>
<text x="676.5" y="263" font-family='"Liberation Sans", sans-serif' font-size="7.6" font-weight="normal" text-anchor="middle" fill="#000" transform="rotate(90 676.5 263)">depth (km)</text>
<rect x="170.3" y="290" width="62.89999999999998" height="25.399999999999977" fill="url(#g17)" stroke="#e08a88" stroke-width="1"/>
<text x="201.75" y="309.26" font-family='"Liberation Sans", sans-serif' font-size="16" font-weight="normal" text-anchor="middle" fill="#111">ECr13</text>
<polygon points="37.0,339.9 130.0,342.4 186.0,342.0 228.2,341.4 228.2,411.6 37.0,411.6" fill="url(#g18)" />
<g clip-path="url(#sc4)">
<polygon points="37.0,348.0 60.0,352.0 90.0,356.0 120.0,352.0 140.0,358.0 160.0,354.0 180.0,352.0 200.0,350.0 228.2,348.0 228.2,372.0 190.0,372.0 150.0,378.0 110.0,370.0 70.0,372.0 37.0,368.0" fill="#bc6cb4" opacity="0.3"/>
<polygon points="37.0,341.0 228.2,342.5 228.2,348.0 200.0,350.0 160.0,351.0 120.0,349.0 90.0,350.0 60.0,347.0 37.0,345.0" fill="#f4e2f4" opacity="0.45"/>
<g filter="url(#bl2)" opacity="0.5">
<polygon points="145.0,350.0 152.0,348.0 156.0,395.0 150.0,398.0" fill="#f6eaf6" />
<polygon points="186.0,346.0 192.0,345.0 195.0,385.0 189.0,386.0" fill="#f6eaf6" />
</g>
<polyline points="37.0,339.9 130.0,342.4 186.0,342.0 228.2,341.4" fill="none" stroke="#a8306e" stroke-width="1.0" opacity="0.45"/>
<rect x="37" y="339.9" width="191.2" height="71.70000000000005" fill="#fff" filter="url(#nzw)" opacity="0.55"/>
<rect x="37" y="339.9" width="191.2" height="71.70000000000005" fill="#fff" filter="url(#nzd)" opacity="0.5"/>
<rect x="37" y="339.9" width="191.2" height="71.70000000000005" fill="#fff" filter="url(#nzb)" opacity="0.5"/>
</g>
<line x1="37" y1="328.7" x2="228.2" y2="328.7" stroke="#aaa" stroke-width="0.8" stroke-dasharray="3,3"/>
<line x1="228.7" y1="328.7" x2="228.7" y2="411.6" stroke="#bbb" stroke-width="0.6" />
<line x1="37" y1="359" x2="228.2" y2="359" stroke="#b8a0e0" stroke-width="0.5" opacity="0.6"/>
<line x1="37" y1="385" x2="228.2" y2="385" stroke="#b8a0e0" stroke-width="0.5" opacity="0.6"/>
<text x="35.5" y="335.744" font-family='"Liberation Sans", sans-serif' font-size="10.4" font-weight="bold" text-anchor="end" fill="#000">0</text>
<text x="35.5" y="362.744" font-family='"Liberation Sans", sans-serif' font-size="10.4" font-weight="bold" text-anchor="end" fill="#000">5</text>
<text x="35.5" y="388.744" font-family='"Liberation Sans", sans-serif' font-size="10.4" font-weight="bold" text-anchor="end" fill="#000">10</text>
<text x="35.5" y="414.744" font-family='"Liberation Sans", sans-serif' font-size="10.4" font-weight="bold" text-anchor="end" fill="#000">15</text>
<text x="20.3" y="367.5" font-family='"Liberation Sans", sans-serif' font-size="10" font-weight="bold" text-anchor="middle" fill="#000" transform="rotate(-90 20.3 367.5)">depth (km)</text>
<line x1="149.7" y1="333.6" x2="171" y2="333.6" stroke="#ff2a10" stroke-width="1.6" stroke-dasharray="1.6,1.6"/>
<polyline points="149.7,330.6 146.2,333.6 149.7,336.6" fill="none" stroke="#ff2a10" stroke-width="1.6" />
<polyline points="171.0,330.6 174.5,333.6 171.0,336.6" fill="none" stroke="#ff2a10" stroke-width="1.6" />
<line x1="38.8" y1="421.5" x2="139.9" y2="421.5" stroke="#000" stroke-width="1.6" />
<polyline points="41.8,417.8 37.3,421.5 41.8,425.2" fill="none" stroke="#000" stroke-width="1.6" stroke-linejoin="miter"/>
<polyline points="136.9,417.8 141.4,421.5 136.9,425.2" fill="none" stroke="#000" stroke-width="1.6" stroke-linejoin="miter"/>
<text x="90.3" y="418.6" font-family='"Liberation Sans", sans-serif' font-size="10.2" font-weight="bold" text-anchor="middle" fill="#000">100 km</text>
<rect x="245.4" y="332.2" width="190.20000000000002" height="77.80000000000001" fill="#fff" stroke="#999" stroke-width="0.6"/>
<line x1="245.4" y1="337.6" x2="435.6" y2="337.6" stroke="#999" stroke-width="0.6" />
<line x1="245.4" y1="356" x2="435.6" y2="356" stroke="#c8c8e0" stroke-width="0.5" />
<line x1="245.4" y1="373.5" x2="435.6" y2="373.5" stroke="#c8c8e0" stroke-width="0.5" />
<line x1="245.4" y1="391" x2="435.6" y2="391" stroke="#c8c8e0" stroke-width="0.5" />
<polygon points="245.4,343.0 300.0,343.5 312.0,345.0 320.0,343.0 330.0,344.5 345.0,344.0 360.0,344.0 380.0,344.0 400.0,344.5 420.0,344.0 435.6,343.0 435.6,365.0 430.0,365.5 424.0,392.0 406.0,394.0 386.0,391.0 384.0,381.3 372.6,390.5 361.0,382.3 357.0,392.8 340.0,392.8 318.0,388.0 316.8,382.0 314.0,386.5 280.0,386.0 262.0,385.5 254.0,365.5 245.4,365.0" fill="url(#g19)" />
<polygon points="260.0,381.0 280.0,381.5 300.0,382.0 316.0,382.5 316.8,382.0 314.0,386.5 280.0,386.0 262.0,385.5" fill="#0c3ee0" />
<polygon points="318.0,383.0 330.0,386.0 345.0,387.0 357.0,387.5 357.0,392.8 340.0,392.8 318.0,388.0" fill="#0c3ee0" />
<polygon points="365.0,388.0 372.6,386.0 380.0,388.0 372.6,390.5" fill="#0c3ee0" />
<polygon points="386.0,385.0 400.0,385.5 415.0,386.0 425.0,386.5 424.0,392.0 406.0,394.0 386.0,391.0" fill="#0c3ee0" />
<line x1="314.5" y1="337.6" x2="314.5" y2="410" stroke="#555" stroke-width="0.6" />
<line x1="358.6" y1="337.6" x2="358.6" y2="410" stroke="#555" stroke-width="0.6" />
<text x="283.2" y="347.49199999999996" font-family='"Liberation Sans", sans-serif' font-size="7.2" font-weight="normal" text-anchor="middle" fill="#111">2</text>
<text x="272.6" y="352.292" font-family='"Liberation Sans", sans-serif' font-size="7.2" font-weight="normal" text-anchor="middle" fill="#111">3</text>
<text x="260.2" y="356.092" font-family='"Liberation Sans", sans-serif' font-size="7.2" font-weight="normal" text-anchor="middle" fill="#111">5</text>
<text x="273" y="363.792" font-family='"Liberation Sans", sans-serif' font-size="7.2" font-weight="normal" text-anchor="middle" fill="#111">5.1</text>
<text x="293.7" y="360.892" font-family='"Liberation Sans", sans-serif' font-size="7.2" font-weight="normal" text-anchor="middle" fill="#111">5.3</text>
<text x="284.5" y="366.692" font-family='"Liberation Sans", sans-serif' font-size="7.2" font-weight="normal" text-anchor="middle" fill="#111">5.8</text>
<text x="306.2" y="364.692" font-family='"Liberation Sans", sans-serif' font-size="7.2" font-weight="normal" text-anchor="middle" fill="#111">6.0</text>
<text x="309.5" y="370.092" font-family='"Liberation Sans", sans-serif' font-size="7.2" font-weight="normal" text-anchor="middle" fill="#111">6.3</text>
<text x="268.8" y="371.99199999999996" font-family='"Liberation Sans", sans-serif' font-size="7.2" font-weight="normal" text-anchor="middle" fill="#111">5.9</text>
<text x="289" y="376.592" font-family='"Liberation Sans", sans-serif' font-size="7.2" font-weight="normal" text-anchor="middle" fill="#111">6.5</text>
<text x="334" y="376.592" font-family='"Liberation Sans", sans-serif' font-size="7.2" font-weight="normal" text-anchor="middle" fill="#111">6.5</text>
<text x="334" y="381.99199999999996" font-family='"Liberation Sans", sans-serif' font-size="7.2" font-weight="normal" text-anchor="middle" fill="#111">6.8</text>
<text x="346.1" y="351.292" font-family='"Liberation Sans", sans-serif' font-size="7.2" font-weight="normal" text-anchor="middle" fill="#111">4</text>
<text x="365.9" y="348.392" font-family='"Liberation Sans", sans-serif' font-size="7.2" font-weight="normal" text-anchor="middle" fill="#111">2</text>
<text x="404.3" y="352.292" font-family='"Liberation Sans", sans-serif' font-size="7.2" font-weight="normal" text-anchor="middle" fill="#111">3</text>
<text x="418.7" y="348.392" font-family='"Liberation Sans", sans-serif' font-size="7.2" font-weight="normal" text-anchor="middle" fill="#111">2</text>
<text x="428.3" y="360.49199999999996" font-family='"Liberation Sans", sans-serif' font-size="7.2" font-weight="normal" text-anchor="middle" fill="#111">5.2</text>
<text x="383.2" y="368.592" font-family='"Liberation Sans", sans-serif' font-size="7.2" font-weight="normal" text-anchor="middle" fill="#111">6.3</text>
<text x="403.3" y="376.292" font-family='"Liberation Sans", sans-serif' font-size="7.2" font-weight="normal" text-anchor="middle" fill="#111">6.6</text>
<text x="350.6" y="388.192" font-family='"Liberation Sans", sans-serif' font-size="7.2" font-weight="normal" text-anchor="middle" fill="#111">7.0</text>
<text x="414.9" y="388.692" font-family='"Liberation Sans", sans-serif' font-size="7.2" font-weight="normal" text-anchor="middle" fill="#111">7.0</text>
<text x="287" y="384.892" font-family='"Liberation Sans", sans-serif' font-size="7.2" font-weight="normal" text-anchor="middle" fill="#fff">7.7</text>
<text x="350.6" y="393.592" font-family='"Liberation Sans", sans-serif' font-size="7.2" font-weight="normal" text-anchor="middle" fill="#fff">7.8</text>
<text x="406.2" y="394.49199999999996" font-family='"Liberation Sans", sans-serif' font-size="7.2" font-weight="normal" text-anchor="middle" fill="#fff">7.8</text>
<text x="268.8" y="381.236" font-family='"Liberation Sans", sans-serif' font-size="7.6" font-weight="bold" text-anchor="middle" fill="#f4ec3c">Moho</text>
<text x="347.5" y="360.49199999999996" font-family='"Liberation Sans", sans-serif' font-size="7.2" font-weight="bold" text-anchor="middle" fill="#2230d8">upper crust</text>
<text x="355" y="371.99199999999996" font-family='"Liberation Sans", sans-serif' font-size="7.2" font-weight="bold" text-anchor="middle" fill="#2230d8">middle crust</text>
<text x="359" y="382.392" font-family='"Liberation Sans", sans-serif' font-size="7.2" font-weight="bold" text-anchor="middle" fill="#2230d8">lower crust</text>
<text x="314.3" y="331" font-family='"Liberation Sans", sans-serif' font-size="9.2" font-weight="bold" text-anchor="middle" fill="#000" textLength="19" lengthAdjust="spacingAndGlyphs">ECr2</text>
<text x="361.6" y="328.8" font-family='"Liberation Sans", sans-serif' font-size="8.2" font-weight="bold" text-anchor="middle" fill="#ff1a14" textLength="51.4" lengthAdjust="spacingAndGlyphs">attenuation zone</text>
<line x1="349.4" y1="332.2" x2="369.8" y2="332.2" stroke="#ff2a10" stroke-width="1.6" stroke-dasharray="1.6,1.6"/>
<polyline points="349.4,329.2 345.9,332.2 349.4,335.2" fill="none" stroke="#ff2a10" stroke-width="1.6" />
<polyline points="369.8,329.2 373.3,332.2 369.8,335.2" fill="none" stroke="#ff2a10" stroke-width="1.6" />
<text x="362" y="342.6" font-family='"Liberation Sans", sans-serif' font-size="9.2" font-weight="bold" text-anchor="middle" fill="#000" textLength="18.5" lengthAdjust="spacingAndGlyphs">ECr5</text>
<text x="445.5" y="341.112" font-family='"Liberation Sans", sans-serif' font-size="9.2" font-weight="normal" text-anchor="end" fill="#000">0</text>
<text x="445.5" y="359.212" font-family='"Liberation Sans", sans-serif' font-size="9.2" font-weight="normal" text-anchor="end" fill="#000">5</text>
<text x="445.5" y="376.41200000000003" font-family='"Liberation Sans", sans-serif' font-size="9.2" font-weight="normal" text-anchor="end" fill="#000">10</text>
<text x="445.5" y="394.012" font-family='"Liberation Sans", sans-serif' font-size="9.2" font-weight="normal" text-anchor="end" fill="#000">15</text>
<text x="445.5" y="411.712" font-family='"Liberation Sans", sans-serif' font-size="9.2" font-weight="normal" text-anchor="end" fill="#000">20</text>
<rect x="247.3" y="396.3" width="122.39999999999998" height="13.399999999999977" fill="url(#g20)" stroke="#444" stroke-width="1"/>
<text x="308.5" y="407.536" font-family='"Liberation Sans", sans-serif' font-size="12.6" font-weight="normal" text-anchor="middle" fill="#111">along Yaeyama Rift</text>
<rect x="449.2" y="331.8" width="190.09999999999997" height="76.0" fill="#fff" stroke="#999" stroke-width="0.6"/>
<line x1="449.2" y1="337" x2="639.3" y2="337" stroke="#999" stroke-width="0.6" />
<polygon points="449.2,342.5 503.8,343.0 515.8,344.5 523.8,342.5 533.8,344.0 548.8,343.5 563.8,343.5 583.8,343.5 603.8,344.0 623.8,343.5 639.4,342.5 639.3,407.8 449.2,407.8" fill="url(#g21)" />
<polygon points="449.2,379.8 489.0,380.0 500.0,381.0 508.0,383.0 515.0,382.0 523.7,381.0 532.0,385.0 541.0,388.0 565.0,388.0 575.4,386.0 593.6,385.2 600.0,387.0 608.0,390.0 617.6,388.0 625.0,387.0 639.3,388.0 639.3,398.6 449.2,398.6" fill="url(#g22)" />
<rect x="449.2" y="398.6" width="190.09999999999997" height="9.199999999999989" fill="#fbf4f6" />
<g clip-path="url(#c3)">
<polygon points="449.2,342.5 503.8,343.0 515.8,344.5 523.8,342.5 533.8,344.0 548.8,343.5 563.8,343.5 583.8,343.5 603.8,344.0 623.8,343.5 639.4,342.5 623.6,387.2 617.6,388.0 608.0,390.0 600.0,387.0 593.6,385.2 575.4,386.0 565.0,388.0 541.0,388.0 532.0,385.0 523.7,381.0 515.0,382.0 508.0,383.0 500.0,381.0 489.0,380.0 462.5,379.9" fill="#b4aac8" opacity="0.3"/>
<polyline points="503.6,343.0 514.7,377.2 525.8,342.8" stroke="#e23a3a" stroke-width="0.5" fill="none" opacity="0.64"/><polyline points="451.9,342.5 477.7,372.8 503.5,343.0" stroke="#e23a3a" stroke-width="0.5" fill="none" opacity="0.36"/><polyline points="524.0,342.5 532.4,385.3 540.7,343.8" stroke="#e85a5a" stroke-width="0.5" fill="none" opacity="0.37"/><polyline points="515.4,344.4 553.6,383.3 591.8,343.7" stroke="#d84848" stroke-width="0.5" fill="none" opacity="0.68"/><polyline points="536.0,343.9 555.5,380.2 575.0,343.5" stroke="#e23a3a" stroke-width="0.5" fill="none" opacity="0.54"/><polyline points="463.7,342.6 484.0,376.1 504.2,343.1" stroke="#d84848" stroke-width="0.5" fill="none" opacity="0.46"/><polyline points="581.8,343.5 594.0,381.1 606.1,343.9" stroke="#6a70c8" stroke-width="0.5" fill="none" opacity="0.42"/><polyline points="448.0,342.5 478.2,375.9 508.4,343.6" stroke="#d84848" stroke-width="0.5" fill="none" opacity="0.42"/><polyline points="551.6,343.5 572.1,384.8 592.7,343.7" stroke="#d84848" stroke-width="0.5" fill="none" opacity="0.67"/><polyline points="506.3,343.3 520.8,380.7 535.2,344.0" stroke="#e89040" stroke-width="0.5" fill="none" opacity="0.44"/><polyline points="531.2,343.6 555.1,381.1 578.9,343.5" stroke="#6a70c8" stroke-width="0.5" fill="none" opacity="0.51"/><polyline points="552.1,343.5 560.6,384.4 569.1,343.5" stroke="#e23a3a" stroke-width="0.5" fill="none" opacity="0.61"/><polyline points="464.4,342.6 487.0,380.6 509.6,343.7" stroke="#6a70c8" stroke-width="0.5" fill="none" opacity="0.38"/><polyline points="519.6,343.6 552.4,381.6 585.2,343.5" stroke="#e23a3a" stroke-width="0.5" fill="none" opacity="0.59"/><polyline points="532.5,343.8 558.3,384.9 584.0,343.5" stroke="#e89040" stroke-width="0.5" fill="none" opacity="0.38"/><polyline points="476.3,342.7 506.0,382.9 535.7,343.9" stroke="#6a70c8" stroke-width="0.5" fill="none" opacity="0.60"/><polyline points="527.0,343.0 566.8,381.3 606.5,343.9" stroke="#e23a3a" stroke-width="0.5" fill="none" opacity="0.60"/><polyline points="587.6,343.6 605.4,381.6 623.2,343.5" stroke="#e23a3a" stroke-width="0.5" fill="none" opacity="0.41"/><polyline points="473.4,342.7 481.4,374.0 489.4,342.9" stroke="#e23a3a" stroke-width="0.5" fill="none" opacity="0.61"/><polyline points="489.4,342.9 526.6,378.9 563.8,343.5" stroke="#e23a3a" stroke-width="0.5" fill="none" opacity="0.51"/><polyline points="515.0,344.4 551.0,381.6 587.1,343.6" stroke="#e89040" stroke-width="0.5" fill="none" opacity="0.54"/><polyline points="536.8,343.9 576.3,380.8 615.9,343.7" stroke="#e85a5a" stroke-width="0.5" fill="none" opacity="0.69"/><polyline points="474.8,342.7 486.8,378.9 498.8,343.0" stroke="#e23a3a" stroke-width="0.5" fill="none" opacity="0.35"/><polyline points="584.2,343.5 596.4,384.5 608.6,343.9" stroke="#e23a3a" stroke-width="0.5" fill="none" opacity="0.50"/><polyline points="496.7,342.9 522.0,373.6 547.3,343.6" stroke="#6a70c8" stroke-width="0.5" fill="none" opacity="0.65"/><polyline points="587.3,343.6 615.6,382.8 643.9,342.5" stroke="#e85a5a" stroke-width="0.5" fill="none" opacity="0.66"/><polyline points="552.4,343.5 588.2,379.3 623.9,343.5" stroke="#e85a5a" stroke-width="0.5" fill="none" opacity="0.49"/><polyline points="503.6,343.0 526.0,379.5 548.4,343.5" stroke="#e23a3a" stroke-width="0.5" fill="none" opacity="0.37"/><polyline points="484.6,342.8 496.1,378.6 507.7,343.5" stroke="#e23a3a" stroke-width="0.5" fill="none" opacity="0.39"/><polyline points="529.6,343.4 553.8,380.5 578.1,343.5" stroke="#d84848" stroke-width="0.5" fill="none" opacity="0.36"/><polyline points="576.5,343.5 603.4,387.9 630.2,343.1" stroke="#e23a3a" stroke-width="0.5" fill="none" opacity="0.68"/><polyline points="537.4,343.9 559.5,388.0 581.7,343.5" stroke="#e85a5a" stroke-width="0.5" fill="none" opacity="0.70"/><polyline points="515.1,344.4 537.6,387.1 560.0,343.5" stroke="#e23a3a" stroke-width="0.5" fill="none" opacity="0.61"/><polyline points="559.5,343.5 581.8,380.5 604.1,344.0" stroke="#d84848" stroke-width="0.5" fill="none" opacity="0.36"/><polyline points="591.8,343.7 615.7,388.1 639.7,342.5" stroke="#d84848" stroke-width="0.5" fill="none" opacity="0.67"/><polyline points="568.5,343.5 584.7,380.8 600.8,343.9" stroke="#e23a3a" stroke-width="0.5" fill="none" opacity="0.59"/><polyline points="486.1,342.8 504.6,381.6 523.0,342.7" stroke="#e89040" stroke-width="0.5" fill="none" opacity="0.43"/><polyline points="526.7,342.9 549.8,383.3 572.9,343.5" stroke="#d84848" stroke-width="0.5" fill="none" opacity="0.63"/><polyline points="586.2,343.6 621.2,381.3 656.2,342.5" stroke="#e89040" stroke-width="0.5" fill="none" opacity="0.49"/><polyline points="579.1,343.5 591.9,381.8 604.7,344.0" stroke="#6a70c8" stroke-width="0.5" fill="none" opacity="0.36"/><polyline points="451.5,342.5 467.0,378.6 482.5,342.8" stroke="#6a70c8" stroke-width="0.5" fill="none" opacity="0.56"/><polyline points="484.5,342.8 518.0,376.2 551.5,343.5" stroke="#e23a3a" stroke-width="0.5" fill="none" opacity="0.68"/><polyline points="507.8,343.5 521.3,380.2 534.7,344.0" stroke="#e23a3a" stroke-width="0.5" fill="none" opacity="0.47"/><polyline points="500.8,343.0 540.3,383.3 579.8,343.5" stroke="#e23a3a" stroke-width="0.5" fill="none" opacity="0.52"/><polyline points="534.5,344.0 567.7,387.7 600.9,343.9" stroke="#6a70c8" stroke-width="0.5" fill="none" opacity="0.39"/><polyline points="494.9,342.9 525.1,380.9 555.3,343.5" stroke="#e23a3a" stroke-width="0.5" fill="none" opacity="0.50"/><polyline points="556.0,343.5 564.9,380.5 573.9,343.5" stroke="#6a70c8" stroke-width="0.5" fill="none" opacity="0.49"/><polyline points="489.0,342.9 527.2,377.2 565.4,343.5" stroke="#e23a3a" stroke-width="0.5" fill="none" opacity="0.70"/><polyline points="440.9,342.5 466.9,376.7 493.0,342.9" stroke="#6a70c8" stroke-width="0.5" fill="none" opacity="0.40"/><polyline points="556.3,343.5 595.7,380.9 635.0,342.8" stroke="#e23a3a" stroke-width="0.5" fill="none" opacity="0.40"/><polyline points="544.1,343.7 550.8,381.8 557.6,343.5" stroke="#6a70c8" stroke-width="0.5" fill="none" opacity="0.58"/><polyline points="509.6,343.7 547.3,385.1 585.1,343.5" stroke="#e89040" stroke-width="0.5" fill="none" opacity="0.42"/><polyline points="596.4,343.8 603.3,387.3 610.3,343.8" stroke="#d84848" stroke-width="0.5" fill="none" opacity="0.43"/><polyline points="542.2,343.7 557.0,385.2 571.8,343.5" stroke="#e23a3a" stroke-width="0.5" fill="none" opacity="0.37"/><polyline points="545.2,343.6 581.7,380.8 618.2,343.6" stroke="#e89040" stroke-width="0.5" fill="none" opacity="0.67"/><polyline points="493.1,342.9 530.3,380.7 567.5,343.5" stroke="#d84848" stroke-width="0.5" fill="none" opacity="0.40"/><polyline points="509.1,343.7 544.8,382.0 580.4,343.5" stroke="#d84848" stroke-width="0.5" fill="none" opacity="0.35"/><polyline points="579.4,343.5 591.3,382.0 603.1,344.0" stroke="#6a70c8" stroke-width="0.5" fill="none" opacity="0.39"/><polyline points="443.3,342.5 472.5,376.1 501.7,343.0" stroke="#e85a5a" stroke-width="0.5" fill="none" opacity="0.62"/><polyline points="454.6,342.5 479.6,378.7 504.7,343.1" stroke="#e23a3a" stroke-width="0.5" fill="none" opacity="0.36"/><polyline points="456.9,342.6 478.3,380.7 499.6,343.0" stroke="#e23a3a" stroke-width="0.5" fill="none" opacity="0.51"/><polyline points="538.0,343.9 561.2,384.4 584.4,343.5" stroke="#6a70c8" stroke-width="0.5" fill="none" opacity="0.45"/><polyline points="510.9,343.9 544.4,384.4 577.8,343.5" stroke="#e23a3a" stroke-width="0.5" fill="none" opacity="0.59"/><polyline points="565.7,343.5 603.7,387.1 641.8,342.5" stroke="#d84848" stroke-width="0.5" fill="none" opacity="0.66"/><polyline points="473.9,342.7 495.1,377.8 516.4,344.4" stroke="#e85a5a" stroke-width="0.5" fill="none" opacity="0.50"/><polyline points="460.0,342.6 474.2,380.3 488.4,342.9" stroke="#6a70c8" stroke-width="0.5" fill="none" opacity="0.46"/><polyline points="449.8,342.5 482.2,372.5 514.6,344.4" stroke="#6a70c8" stroke-width="0.5" fill="none" opacity="0.58"/><polyline points="449.5,342.5 485.5,372.3 521.6,343.1" stroke="#e23a3a" stroke-width="0.5" fill="none" opacity="0.61"/><polyline points="441.6,342.5 477.7,379.5 513.8,344.2" stroke="#6a70c8" stroke-width="0.5" fill="none" opacity="0.64"/><polyline points="467.8,342.7 488.5,376.4 509.2,343.7" stroke="#e23a3a" stroke-width="0.5" fill="none" opacity="0.50"/><polyline points="510.8,343.9 520.0,379.1 529.1,343.3" stroke="#e23a3a" stroke-width="0.5" fill="none" opacity="0.54"/><polyline points="526.9,343.0 533.5,383.5 540.1,343.8" stroke="#d84848" stroke-width="0.5" fill="none" opacity="0.45"/><polyline points="607.5,343.9 617.3,380.8 627.1,343.3" stroke="#e23a3a" stroke-width="0.5" fill="none" opacity="0.69"/><polyline points="464.4,342.6 479.4,380.6 494.4,342.9" stroke="#e89040" stroke-width="0.5" fill="none" opacity="0.41"/><polyline points="550.4,343.5 584.3,379.0 618.1,343.6" stroke="#6a70c8" stroke-width="0.5" fill="none" opacity="0.64"/><polyline points="493.1,342.9 504.2,374.8 515.2,344.4" stroke="#d84848" stroke-width="0.5" fill="none" opacity="0.52"/><polyline points="499.7,343.0 515.2,375.8 530.7,343.5" stroke="#e23a3a" stroke-width="0.5" fill="none" opacity="0.50"/><polyline points="436.3,342.5 474.2,375.2 512.1,344.0" stroke="#e89040" stroke-width="0.5" fill="none" opacity="0.44"/><polyline points="546.9,343.6 560.5,386.6 574.1,343.5" stroke="#e23a3a" stroke-width="0.5" fill="none" opacity="0.51"/><polyline points="492.3,342.9 517.1,374.4 542.0,343.7" stroke="#e23a3a" stroke-width="0.5" fill="none" opacity="0.57"/><polyline points="439.3,342.5 469.5,372.5 499.6,343.0" stroke="#e23a3a" stroke-width="0.5" fill="none" opacity="0.44"/><polyline points="454.0,342.5 491.7,375.6 529.4,343.3" stroke="#d84848" stroke-width="0.5" fill="none" opacity="0.62"/><polyline points="486.2,342.8 509.2,382.2 532.2,343.8" stroke="#e23a3a" stroke-width="0.5" fill="none" opacity="0.63"/><polyline points="615.5,343.7 622.7,388.1 630.0,343.1" stroke="#d84848" stroke-width="0.5" fill="none" opacity="0.54"/><polyline points="470.9,342.7 493.0,373.0 515.2,344.4" stroke="#e23a3a" stroke-width="0.5" fill="none" opacity="0.58"/><polyline points="538.9,343.8 567.2,383.7 595.6,343.8" stroke="#e85a5a" stroke-width="0.5" fill="none" opacity="0.69"/><polyline points="498.8,343.0 512.1,381.3 525.4,342.7" stroke="#e23a3a" stroke-width="0.5" fill="none" opacity="0.64"/><polyline points="548.7,343.5 576.4,383.3 604.0,344.0" stroke="#e23a3a" stroke-width="0.5" fill="none" opacity="0.69"/><polyline points="590.9,343.7 597.4,381.6 603.8,344.0" stroke="#e23a3a" stroke-width="0.5" fill="none" opacity="0.50"/><polyline points="442.8,342.5 471.4,377.5 500.1,343.0" stroke="#d84848" stroke-width="0.5" fill="none" opacity="0.58"/><polyline points="493.7,342.9 507.9,381.3 522.2,342.9" stroke="#e85a5a" stroke-width="0.5" fill="none" opacity="0.41"/><polyline points="499.7,343.0 505.9,380.2 512.0,344.0" stroke="#e23a3a" stroke-width="0.5" fill="none" opacity="0.69"/><polyline points="536.3,343.9 550.6,380.3 565.0,343.5" stroke="#e23a3a" stroke-width="0.5" fill="none" opacity="0.43"/><polyline points="474.6,342.7 492.0,380.5 509.4,343.7" stroke="#e23a3a" stroke-width="0.5" fill="none" opacity="0.53"/><polyline points="471.7,342.7 494.9,381.5 518.0,343.9" stroke="#e23a3a" stroke-width="0.5" fill="none" opacity="0.64"/><polyline points="459.7,342.6 485.7,377.4 511.6,344.0" stroke="#e23a3a" stroke-width="0.5" fill="none" opacity="0.46"/><polyline points="474.1,342.7 500.0,377.2 525.9,342.8" stroke="#e89040" stroke-width="0.5" fill="none" opacity="0.40"/><polyline points="573.7,343.5 606.3,385.0 639.0,342.5" stroke="#e89040" stroke-width="0.5" fill="none" opacity="0.46"/><polyline points="610.1,343.8 621.2,382.0 632.2,343.0" stroke="#6a70c8" stroke-width="0.5" fill="none" opacity="0.40"/><polyline points="565.1,343.5 595.4,382.1 625.7,343.4" stroke="#e85a5a" stroke-width="0.5" fill="none" opacity="0.61"/><polyline points="582.6,343.5 593.4,381.5 604.1,344.0" stroke="#d84848" stroke-width="0.5" fill="none" opacity="0.55"/><polyline points="586.9,343.6 593.5,380.0 600.0,343.9" stroke="#e89040" stroke-width="0.5" fill="none" opacity="0.66"/><polyline points="543.0,343.7 572.5,385.5 602.1,344.0" stroke="#e23a3a" stroke-width="0.5" fill="none" opacity="0.36"/><polyline points="526.5,342.9 565.2,385.6 603.8,344.0" stroke="#e85a5a" stroke-width="0.5" fill="none" opacity="0.55"/><polyline points="536.4,343.9 563.6,382.9 590.9,343.7" stroke="#e85a5a" stroke-width="0.5" fill="none" opacity="0.44"/><polyline points="527.7,343.1 536.1,379.0 544.5,343.6" stroke="#d84848" stroke-width="0.5" fill="none" opacity="0.38"/><polyline points="515.9,344.5 547.2,384.7 578.6,343.5" stroke="#e89040" stroke-width="0.5" fill="none" opacity="0.38"/><polyline points="474.5,342.7 505.3,381.5 536.1,343.9" stroke="#6a70c8" stroke-width="0.5" fill="none" opacity="0.58"/><polyline points="501.9,343.0 536.7,386.9 571.4,343.5" stroke="#6a70c8" stroke-width="0.5" fill="none" opacity="0.45"/><polyline points="442.5,342.5 470.0,379.1 497.6,342.9" stroke="#d84848" stroke-width="0.5" fill="none" opacity="0.40"/>
<polygon points="449.2,342.5 503.8,343.0 515.8,344.5 523.8,342.5 533.8,344.0 548.8,343.5 563.8,343.5 583.8,343.5 603.8,344.0 623.8,343.5 639.4,342.5 639.3,365.0 449.2,365.0" fill="url(#g23)" opacity="0.72"/>
<g filter="url(#bl1)">
<ellipse cx="453.6" cy="349.7" rx="4.7" ry="2.5" fill="#1a22c0" opacity="0.23"/>
<ellipse cx="464.2" cy="349.7" rx="4.7" ry="2.5" fill="#c41a12" opacity="0.54"/>
<ellipse cx="474.8" cy="349.7" rx="4.7" ry="2.5" fill="#1a22c0" opacity="0.90"/>
<ellipse cx="485.4" cy="349.7" rx="4.7" ry="2.5" fill="#c41a12" opacity="0.90"/>
<ellipse cx="496.0" cy="349.7" rx="4.7" ry="2.5" fill="#1a22c0" opacity="0.90"/>
<ellipse cx="506.6" cy="349.7" rx="4.7" ry="2.5" fill="#c41a12" opacity="0.90"/>
<ellipse cx="517.2" cy="349.7" rx="4.7" ry="2.5" fill="#1a22c0" opacity="0.90"/>
<ellipse cx="527.8" cy="349.7" rx="4.7" ry="2.5" fill="#c41a12" opacity="0.90"/>
<ellipse cx="538.4" cy="349.7" rx="4.7" ry="2.5" fill="#1a22c0" opacity="0.90"/>
<ellipse cx="549.0" cy="349.7" rx="4.7" ry="2.5" fill="#c41a12" opacity="0.90"/>
<ellipse cx="559.6" cy="349.7" rx="4.7" ry="2.5" fill="#1a22c0" opacity="0.90"/>
<ellipse cx="570.2" cy="349.7" rx="4.7" ry="2.5" fill="#c41a12" opacity="0.90"/>
<ellipse cx="580.8" cy="349.7" rx="4.7" ry="2.5" fill="#1a22c0" opacity="0.90"/>
<ellipse cx="591.4" cy="349.7" rx="4.7" ry="2.5" fill="#c41a12" opacity="0.90"/>
<ellipse cx="602.0" cy="349.7" rx="4.7" ry="2.5" fill="#1a22c0" opacity="0.90"/>
<ellipse cx="612.6" cy="349.7" rx="4.7" ry="2.5" fill="#c41a12" opacity="0.90"/>
<ellipse cx="623.2" cy="349.7" rx="4.7" ry="2.5" fill="#1a22c0" opacity="0.58"/>
<ellipse cx="633.8" cy="349.7" rx="4.7" ry="2.5" fill="#c41a12" opacity="0.23"/>
<ellipse cx="644.4" cy="349.7" rx="4.7" ry="2.5" fill="#1a22c0" opacity="0.23"/>
<ellipse cx="453.6" cy="358.4" rx="4.7" ry="3.1" fill="#c41a12" opacity="0.24"/>
<ellipse cx="464.2" cy="358.4" rx="4.7" ry="3.1" fill="#1a22c0" opacity="0.57"/>
<ellipse cx="474.8" cy="358.4" rx="4.7" ry="3.1" fill="#c41a12" opacity="0.95"/>
<ellipse cx="485.4" cy="358.4" rx="4.7" ry="3.1" fill="#1a22c0" opacity="0.95"/>
<ellipse cx="496.0" cy="358.4" rx="4.7" ry="3.1" fill="#c41a12" opacity="0.95"/>
<ellipse cx="506.6" cy="358.4" rx="4.7" ry="3.1" fill="#1a22c0" opacity="0.95"/>
<ellipse cx="517.2" cy="358.4" rx="4.7" ry="3.1" fill="#c41a12" opacity="0.95"/>
<ellipse cx="527.8" cy="358.4" rx="4.7" ry="3.1" fill="#1a22c0" opacity="0.95"/>
<ellipse cx="538.4" cy="358.4" rx="4.7" ry="3.1" fill="#c41a12" opacity="0.95"/>
<ellipse cx="549.0" cy="358.4" rx="4.7" ry="3.1" fill="#1a22c0" opacity="0.95"/>
<ellipse cx="559.6" cy="358.4" rx="4.7" ry="3.1" fill="#c41a12" opacity="0.95"/>
<ellipse cx="570.2" cy="358.4" rx="4.7" ry="3.1" fill="#1a22c0" opacity="0.95"/>
<ellipse cx="580.8" cy="358.4" rx="4.7" ry="3.1" fill="#c41a12" opacity="0.95"/>
<ellipse cx="591.4" cy="358.4" rx="4.7" ry="3.1" fill="#1a22c0" opacity="0.95"/>
<ellipse cx="602.0" cy="358.4" rx="4.7" ry="3.1" fill="#c41a12" opacity="0.95"/>
<ellipse cx="612.6" cy="358.4" rx="4.7" ry="3.1" fill="#1a22c0" opacity="0.95"/>
<ellipse cx="623.2" cy="358.4" rx="4.7" ry="3.1" fill="#c41a12" opacity="0.61"/>
<ellipse cx="633.8" cy="358.4" rx="4.7" ry="3.1" fill="#1a22c0" opacity="0.24"/>
<ellipse cx="644.4" cy="358.4" rx="4.7" ry="3.1" fill="#c41a12" opacity="0.24"/>
<ellipse cx="453.6" cy="367" rx="4.7" ry="2.8" fill="#1a22c0" opacity="0.06"/>
<ellipse cx="464.2" cy="367" rx="4.7" ry="2.8" fill="#c41a12" opacity="0.15"/>
<ellipse cx="474.8" cy="367" rx="4.7" ry="2.8" fill="#1a22c0" opacity="0.25"/>
<ellipse cx="485.4" cy="367" rx="4.7" ry="2.8" fill="#c41a12" opacity="0.25"/>
<ellipse cx="496.0" cy="367" rx="4.7" ry="2.8" fill="#1a22c0" opacity="0.25"/>
<ellipse cx="506.6" cy="367" rx="4.7" ry="2.8" fill="#c41a12" opacity="0.25"/>
<ellipse cx="517.2" cy="367" rx="4.7" ry="2.8" fill="#1a22c0" opacity="0.25"/>
<ellipse cx="527.8" cy="367" rx="4.7" ry="2.8" fill="#c41a12" opacity="0.25"/>
<ellipse cx="538.4" cy="367" rx="4.7" ry="2.8" fill="#1a22c0" opacity="0.25"/>
<ellipse cx="549.0" cy="367" rx="4.7" ry="2.8" fill="#c41a12" opacity="0.25"/>
<ellipse cx="559.6" cy="367" rx="4.7" ry="2.8" fill="#1a22c0" opacity="0.25"/>
<ellipse cx="570.2" cy="367" rx="4.7" ry="2.8" fill="#c41a12" opacity="0.25"/>
<ellipse cx="580.8" cy="367" rx="4.7" ry="2.8" fill="#1a22c0" opacity="0.25"/>
<ellipse cx="591.4" cy="367" rx="4.7" ry="2.8" fill="#c41a12" opacity="0.25"/>
<ellipse cx="602.0" cy="367" rx="4.7" ry="2.8" fill="#1a22c0" opacity="0.25"/>
<ellipse cx="612.6" cy="367" rx="4.7" ry="2.8" fill="#c41a12" opacity="0.25"/>
<ellipse cx="623.2" cy="367" rx="4.7" ry="2.8" fill="#1a22c0" opacity="0.16"/>
<ellipse cx="633.8" cy="367" rx="4.7" ry="2.8" fill="#c41a12" opacity="0.06"/>
<ellipse cx="644.4" cy="367" rx="4.7" ry="2.8" fill="#1a22c0" opacity="0.06"/>
</g></g>
<polyline points="449.2,379.8 489.0,380.0 500.0,381.0 508.0,383.0 515.0,382.0 523.7,381.0 532.0,385.0 541.0,388.0 565.0,388.0 575.4,386.0 593.6,385.2 600.0,387.0 608.0,390.0 617.6,388.0 625.0,387.0 639.3,388.0" fill="none" stroke="#222" stroke-width="0.9" stroke-dasharray="2,1.6"/>
<line x1="449.2" y1="373" x2="639.3" y2="373" stroke="#555" stroke-width="0.4" opacity="0.6"/>
<line x1="449.2" y1="390.5" x2="639.3" y2="390.5" stroke="#555" stroke-width="0.4" opacity="0.6"/>
<line x1="518.3" y1="337" x2="518.3" y2="407.8" stroke="#666" stroke-width="0.5" opacity="0.8"/>
<text x="650" y="341.212" font-family='"Liberation Sans", sans-serif' font-size="9.2" font-weight="normal" text-anchor="end" fill="#000">0</text>
<text x="650" y="359.012" font-family='"Liberation Sans", sans-serif' font-size="9.2" font-weight="normal" text-anchor="end" fill="#000">5</text>
<text x="650" y="375.712" font-family='"Liberation Sans", sans-serif' font-size="9.2" font-weight="normal" text-anchor="end" fill="#000">10</text>
<text x="650" y="393.512" font-family='"Liberation Sans", sans-serif' font-size="9.2" font-weight="normal" text-anchor="end" fill="#000">15</text>
<text x="650" y="410.712" font-family='"Liberation Sans", sans-serif' font-size="9.2" font-weight="normal" text-anchor="end" fill="#000">20</text>
<text x="655.7" y="372" font-family='"Liberation Sans", sans-serif' font-size="7.6" font-weight="normal" text-anchor="middle" fill="#000" transform="rotate(90 655.7 372)">depth (km)</text>
<line x1="452.8" y1="411.7" x2="554" y2="411.7" stroke="#000" stroke-width="1.6" />
<polyline points="455.8,407.9 451.3,411.7 455.8,415.4" fill="none" stroke="#000" stroke-width="1.6" stroke-linejoin="miter"/>
<polyline points="551.0,407.9 555.5,411.7 551.0,415.4" fill="none" stroke="#000" stroke-width="1.6" stroke-linejoin="miter"/>
<text x="503" y="408" font-family='"Liberation Sans", sans-serif' font-size="10.5" font-weight="bold" text-anchor="middle" fill="#000">100 km</text>
<line x1="552.6" y1="335" x2="573.3" y2="335" stroke="#ff2a10" stroke-width="1.6" stroke-dasharray="1.6,1.6"/>
<polyline points="552.6,332.0 549.1,335.0 552.6,338.0" fill="none" stroke="#ff2a10" stroke-width="1.6" />
<polyline points="573.3,332.0 576.8,335.0 573.3,338.0" fill="none" stroke="#ff2a10" stroke-width="1.6" />
<rect x="170.6" y="387.4" width="62.900000000000006" height="25.600000000000023" fill="url(#g24)" stroke="#e08a88" stroke-width="1"/>
<text x="202.05" y="406.76" font-family='"Liberation Sans", sans-serif' font-size="16" font-weight="normal" text-anchor="middle" fill="#111">ECr12</text>
<polygon points="31.5,435.3 120.0,436.0 233.0,436.4 233.0,507.6 31.5,507.6" fill="url(#g25)" />
<g clip-path="url(#sc5)">
<polygon points="31.5,436.0 60.0,441.0 75.0,446.0 90.0,450.0 105.0,451.0 118.0,449.0 125.0,446.0 140.0,445.0 150.0,447.0 160.0,445.0 168.0,441.0 175.0,444.0 185.0,443.0 195.0,441.0 205.0,440.0 220.0,440.0 233.0,438.5 233.0,470.0 180.0,468.0 130.0,472.0 80.0,470.0 31.5,466.0" fill="#bc6cb4" opacity="0.33"/>
<polygon points="45.0,436.0 60.0,440.0 75.0,445.0 90.0,449.0 105.0,450.0 118.0,448.0 125.0,445.0 140.0,444.0 150.0,446.0 160.0,444.0 168.0,440.0 175.0,443.0 185.0,442.0 195.0,440.0 205.0,439.0 220.0,439.0 233.0,438.0 233.0,436.4 45.0,435.5" fill="#f6e4f4" opacity="0.75"/>
<g filter="url(#bl2)" opacity="0.45">
<polygon points="193.0,446.0 198.0,446.0 199.0,472.0 194.0,472.0" fill="#f6eaf6" />
<polygon points="100.0,455.0 110.0,452.0 112.0,480.0 102.0,480.0" fill="#f6eaf6" />
</g>
<polyline points="31.5,435.3 120.0,436.0 233.0,436.4" fill="none" stroke="#a8306e" stroke-width="1.0" opacity="0.45"/>
<rect x="31.5" y="435.3" width="201.5" height="72.30000000000001" fill="#fff" filter="url(#nzw)" opacity="0.55"/>
<rect x="31.5" y="435.3" width="201.5" height="72.30000000000001" fill="#fff" filter="url(#nzd)" opacity="0.5"/>
<rect x="31.5" y="435.3" width="201.5" height="72.30000000000001" fill="#fff" filter="url(#nzb)" opacity="0.5"/>
</g>
<line x1="31.5" y1="423.5" x2="233" y2="423.5" stroke="#aaa" stroke-width="0.8" stroke-dasharray="3,3"/>
<line x1="233.5" y1="423.5" x2="233.5" y2="507.6" stroke="#bbb" stroke-width="0.6" />
<line x1="31.5" y1="454" x2="233" y2="454" stroke="#b8a0e0" stroke-width="0.5" opacity="0.6"/>
<line x1="31.5" y1="481" x2="233" y2="481" stroke="#b8a0e0" stroke-width="0.5" opacity="0.6"/>
<text x="30" y="431.34400000000005" font-family='"Liberation Sans", sans-serif' font-size="10.4" font-weight="bold" text-anchor="end" fill="#000">0</text>
<text x="30" y="457.744" font-family='"Liberation Sans", sans-serif' font-size="10.4" font-weight="bold" text-anchor="end" fill="#000">5</text>
<text x="30" y="484.744" font-family='"Liberation Sans", sans-serif' font-size="10.4" font-weight="bold" text-anchor="end" fill="#000">10</text>
<text x="30" y="510.744" font-family='"Liberation Sans", sans-serif' font-size="10.4" font-weight="bold" text-anchor="end" fill="#000">15</text>
<text x="15.4" y="463" font-family='"Liberation Sans", sans-serif' font-size="10" font-weight="bold" text-anchor="middle" fill="#000" transform="rotate(-90 15.4 463)">depth (km)</text>
<text x="217.5" y="432.2" font-family='"Liberation Sans", sans-serif' font-size="7.4" font-weight="bold" text-anchor="middle" fill="#000" textLength="41" lengthAdjust="spacingAndGlyphs">Tarama Knoll</text>
<line x1="195" y1="425" x2="195" y2="432" stroke="#000" stroke-width="1" />
<polygon points="192.5,431.0 197.5,431.0 195.0,435.5" fill="#000" />
<rect x="170.5" y="483.8" width="63.0" height="25.80000000000001" fill="url(#g26)" stroke="#e08a88" stroke-width="1"/>
<text x="202.0" y="503.26000000000005" font-family='"Liberation Sans", sans-serif' font-size="16" font-weight="normal" text-anchor="middle" fill="#111">ECr3</text>
<rect x="245.5" y="423" width="201.3" height="98" fill="#fff" stroke="#999" stroke-width="0.6"/>
<line x1="245.5" y1="427" x2="446.8" y2="427" stroke="#999" stroke-width="0.6" />
<line x1="245.5" y1="445.5" x2="446.8" y2="445.5" stroke="#c8c8e0" stroke-width="0.5" />
<line x1="245.5" y1="463.5" x2="446.8" y2="463.5" stroke="#c8c8e0" stroke-width="0.5" />
<line x1="245.5" y1="481.8" x2="446.8" y2="481.8" stroke="#c8c8e0" stroke-width="0.5" />
<line x1="245.5" y1="499.5" x2="446.8" y2="499.5" stroke="#c8c8e0" stroke-width="0.5" />
<polygon points="245.5,432.8 270.0,433.0 300.0,434.0 320.0,434.5 340.0,434.0 360.0,434.0 380.0,433.0 400.0,433.5 420.0,433.0 440.0,432.0 446.8,431.5 446.8,454.6 445.8,454.6 435.0,478.0 425.0,495.0 420.0,500.6 411.2,499.0 403.3,495.1 391.4,490.2 369.7,488.2 340.0,485.2 320.0,482.0 300.0,481.0 265.0,479.3 263.0,476.0 258.0,466.0 252.0,457.0 245.5,456.6" fill="url(#g27)" />
<polygon points="261.0,474.0 280.0,473.0 300.0,475.0 320.0,478.0 340.0,479.3 375.6,482.3 391.0,485.2 405.0,491.0 415.0,493.0 421.0,493.0 420.0,500.6 411.2,499.0 403.3,495.1 391.4,490.2 369.7,488.2 340.0,485.2 320.0,482.0 300.0,481.0 265.0,479.3" fill="#0c3ee0" />
<line x1="322" y1="427" x2="322" y2="506" stroke="#555" stroke-width="0.6" />
<line x1="388.4" y1="427" x2="388.4" y2="506" stroke="#555" stroke-width="0.6" />
<text x="267.7" y="440.99199999999996" font-family='"Liberation Sans", sans-serif' font-size="7.2" font-weight="normal" text-anchor="middle" fill="#111">3</text>
<text x="280.6" y="438.392" font-family='"Liberation Sans", sans-serif' font-size="7.2" font-weight="normal" text-anchor="middle" fill="#111">2</text>
<text x="330" y="438.392" font-family='"Liberation Sans", sans-serif' font-size="7.2" font-weight="normal" text-anchor="middle" fill="#111">2</text>
<text x="304.3" y="446.292" font-family='"Liberation Sans", sans-serif' font-size="7.2" font-weight="normal" text-anchor="middle" fill="#111">4</text>
<text x="277.6" y="452.292" font-family='"Liberation Sans", sans-serif' font-size="7.2" font-weight="normal" text-anchor="middle" fill="#111">5.5</text>
<text x="284.5" y="459.192" font-family='"Liberation Sans", sans-serif' font-size="7.2" font-weight="normal" text-anchor="middle" fill="#111">5.6</text>
<text x="309.2" y="457.192" font-family='"Liberation Sans", sans-serif' font-size="7.2" font-weight="normal" text-anchor="middle" fill="#111">5.6</text>
<text x="326" y="453.192" font-family='"Liberation Sans", sans-serif' font-size="7.2" font-weight="normal" text-anchor="middle" fill="#111">5.5</text>
<text x="341.9" y="457.192" font-family='"Liberation Sans", sans-serif' font-size="7.2" font-weight="normal" text-anchor="middle" fill="#111">5.8</text>
<text x="251.9" y="456.792" font-family='"Liberation Sans", sans-serif' font-size="7.2" font-weight="normal" text-anchor="middle" fill="#111">6.2</text>
<text x="264.7" y="456.792" font-family='"Liberation Sans", sans-serif' font-size="7.2" font-weight="normal" text-anchor="middle" fill="#111">5.8</text>
<text x="284.5" y="468.49199999999996" font-family='"Liberation Sans", sans-serif' font-size="7.2" font-weight="normal" text-anchor="middle" fill="#111">6.3</text>
<text x="325" y="465.092" font-family='"Liberation Sans", sans-serif' font-size="7.2" font-weight="normal" text-anchor="middle" fill="#111">6.3</text>
<text x="333" y="472.392" font-family='"Liberation Sans", sans-serif' font-size="7.2" font-weight="normal" text-anchor="middle" fill="#111">6.8</text>
<text x="276.6" y="473.592" font-family='"Liberation Sans", sans-serif' font-size="7.2" font-weight="normal" text-anchor="middle" fill="#111">7.1</text>
<text x="358.8" y="446.292" font-family='"Liberation Sans", sans-serif' font-size="7.2" font-weight="normal" text-anchor="middle" fill="#111">4</text>
<text x="393" y="441.392" font-family='"Liberation Sans", sans-serif' font-size="7.2" font-weight="normal" text-anchor="middle" fill="#111">3</text>
<text x="414.7" y="441.392" font-family='"Liberation Sans", sans-serif' font-size="7.2" font-weight="normal" text-anchor="middle" fill="#111">4</text>
<text x="413.5" y="448.292" font-family='"Liberation Sans", sans-serif' font-size="7.2" font-weight="normal" text-anchor="middle" fill="#111">5.5</text>
<text x="363.7" y="456.192" font-family='"Liberation Sans", sans-serif' font-size="7.2" font-weight="normal" text-anchor="middle" fill="#111">5.9</text>
<text x="395" y="459.692" font-family='"Liberation Sans", sans-serif' font-size="7.2" font-weight="normal" text-anchor="middle" fill="#111">6.0</text>
<text x="432.5" y="454.192" font-family='"Liberation Sans", sans-serif' font-size="7.2" font-weight="normal" text-anchor="middle" fill="#111">5.9</text>
<text x="416.1" y="462.49199999999996" font-family='"Liberation Sans", sans-serif' font-size="7.2" font-weight="normal" text-anchor="middle" fill="#111">6.2</text>
<text x="378.6" y="465.692" font-family='"Liberation Sans", sans-serif' font-size="7.2" font-weight="normal" text-anchor="middle" fill="#111">6.4</text>
<text x="388.4" y="472.392" font-family='"Liberation Sans", sans-serif' font-size="7.2" font-weight="normal" text-anchor="middle" fill="#111">6.9</text>
<text x="420.7" y="472.392" font-family='"Liberation Sans", sans-serif' font-size="7.2" font-weight="normal" text-anchor="middle" fill="#111">6.4</text>
<text x="434.5" y="473.592" font-family='"Liberation Sans", sans-serif' font-size="7.2" font-weight="normal" text-anchor="middle" fill="#111">6.8</text>
<text x="348.9" y="481.49199999999996" font-family='"Liberation Sans", sans-serif' font-size="7.2" font-weight="normal" text-anchor="middle" fill="#111">7.0</text>
<text x="382.5" y="481.892" font-family='"Liberation Sans", sans-serif' font-size="7.2" font-weight="normal" text-anchor="middle" fill="#111">7.1</text>
<text x="419.1" y="496.092" font-family='"Liberation Sans", sans-serif' font-size="7.2" font-weight="normal" text-anchor="middle" fill="#111">7.0</text>
<text x="275.6" y="479.592" font-family='"Liberation Sans", sans-serif' font-size="7.2" font-weight="normal" text-anchor="middle" fill="#fff">7.8</text>
<text x="333" y="481.892" font-family='"Liberation Sans", sans-serif' font-size="7.2" font-weight="normal" text-anchor="middle" fill="#fff">7.8</text>
<text x="381.5" y="488.792" font-family='"Liberation Sans", sans-serif' font-size="7.2" font-weight="normal" text-anchor="middle" fill="#fff">8.0</text>
<text x="365.7" y="485.936" font-family='"Liberation Sans", sans-serif' font-size="7.6" font-weight="bold" text-anchor="middle" fill="#f4ec3c">Moho</text>
<text x="391.4" y="452.592" font-family='"Liberation Sans", sans-serif' font-size="7.2" font-weight="bold" text-anchor="middle" fill="#2230d8">upper crust</text>
<text x="352" y="465.092" font-family='"Liberation Sans", sans-serif' font-size="7.2" font-weight="bold" text-anchor="middle" fill="#2230d8">middle crust</text>
<text x="408.2" y="481.892" font-family='"Liberation Sans", sans-serif' font-size="7.2" font-weight="bold" text-anchor="middle" fill="#2230d8">lower crust</text>
<text x="322.2" y="421.2" font-family='"Liberation Sans", sans-serif' font-size="9.2" font-weight="bold" text-anchor="middle" fill="#000" textLength="20" lengthAdjust="spacingAndGlyphs">ECr2</text>
<text x="405" y="420.6" font-family='"Liberation Sans", sans-serif' font-size="7.4" font-weight="bold" text-anchor="middle" fill="#000" textLength="42.6" lengthAdjust="spacingAndGlyphs">Tarama Knoll</text>
<line x1="405" y1="421.5" x2="405" y2="428" stroke="#000" stroke-width="1" />
<polygon points="402.5,427.5 407.5,427.5 405.0,432.0" fill="#000" />
<text x="380" y="430.8" font-family='"Liberation Sans", sans-serif' font-size="9.2" font-weight="bold" text-anchor="middle" fill="#000" textLength="19" lengthAdjust="spacingAndGlyphs">ECr5</text>
<text x="457.6" y="430.812" font-family='"Liberation Sans", sans-serif' font-size="9.2" font-weight="normal" text-anchor="end" fill="#000">0</text>
<text x="457.6" y="448.512" font-family='"Liberation Sans", sans-serif' font-size="9.2" font-weight="normal" text-anchor="end" fill="#000">5</text>
<text x="457.6" y="466.312" font-family='"Liberation Sans", sans-serif' font-size="9.2" font-weight="normal" text-anchor="end" fill="#000">10</text>
<text x="457.6" y="484.012" font-family='"Liberation Sans", sans-serif' font-size="9.2" font-weight="normal" text-anchor="end" fill="#000">15</text>
<text x="457.6" y="501.812" font-family='"Liberation Sans", sans-serif' font-size="9.2" font-weight="normal" text-anchor="end" fill="#000">20</text>
<text x="457.6" y="519.5120000000001" font-family='"Liberation Sans", sans-serif' font-size="9.2" font-weight="normal" text-anchor="end" fill="#000">25</text>
<line x1="249" y1="511" x2="354" y2="511" stroke="#000" stroke-width="1.6" />
<polyline points="252.0,507.2 247.5,511.0 252.0,514.8" fill="none" stroke="#000" stroke-width="1.6" stroke-linejoin="miter"/>
<polyline points="351.0,507.2 355.5,511.0 351.0,514.8" fill="none" stroke="#000" stroke-width="1.6" stroke-linejoin="miter"/>
<text x="298.7" y="508.3" font-family='"Liberation Sans", sans-serif' font-size="10.5" font-weight="bold" text-anchor="middle" fill="#000">100 km</text>
<rect x="459.9" y="423.5" width="201.60000000000002" height="81.5" fill="#fff" stroke="#999" stroke-width="0.6"/>
<line x1="459.9" y1="427.5" x2="661.5" y2="427.5" stroke="#999" stroke-width="0.6" />
<polygon points="459.9,432.8 484.4,433.0 514.4,434.0 534.4,434.5 554.4,434.0 574.4,434.0 594.4,433.0 614.4,433.5 634.4,433.0 654.4,432.0 661.2,431.5 661.5,505.0 459.9,505.0" fill="url(#g28)" />
<polygon points="459.9,476.3 469.8,474.3 479.7,475.0 497.4,473.4 515.0,474.5 533.0,476.0 548.9,479.3 567.0,482.8 600.6,483.0 611.0,490.0 622.3,496.7 661.5,497.7 661.5,505.0 459.9,505.0" fill="url(#g29)" />
<g clip-path="url(#c4)">
<polygon points="459.9,432.8 484.4,433.0 514.4,434.0 534.4,434.5 554.4,434.0 574.4,434.0 594.4,433.0 614.4,433.5 634.4,433.0 654.4,432.0 661.2,431.5 631.8,496.9 622.3,496.7 611.0,490.0 600.6,483.0 567.0,482.8 548.9,479.3 533.0,476.0 515.0,474.5 497.4,473.4 479.7,475.0 479.1,475.0" fill="#b4aac8" opacity="0.5"/>
<polyline points="531.1,434.4 549.8,479.2 568.5,434.0" stroke="#e89040" stroke-width="0.5" fill="none" opacity="0.59"/><polyline points="509.0,433.8 530.7,471.4 552.5,434.0" stroke="#e23a3a" stroke-width="0.5" fill="none" opacity="0.54"/><polyline points="565.8,434.0 573.2,480.4 580.6,433.7" stroke="#6a70c8" stroke-width="0.5" fill="none" opacity="0.68"/><polyline points="604.0,433.2 624.3,496.2 644.7,432.5" stroke="#e23a3a" stroke-width="0.5" fill="none" opacity="0.39"/><polyline points="519.0,434.1 556.4,476.4 593.8,433.0" stroke="#e89040" stroke-width="0.5" fill="none" opacity="0.59"/><polyline points="563.5,434.0 599.6,475.7 635.8,432.9" stroke="#e23a3a" stroke-width="0.5" fill="none" opacity="0.59"/><polyline points="569.5,434.0 589.9,483.1 610.2,433.4" stroke="#e23a3a" stroke-width="0.5" fill="none" opacity="0.67"/><polyline points="522.0,434.2 539.6,478.0 557.2,434.0" stroke="#6a70c8" stroke-width="0.5" fill="none" opacity="0.66"/><polyline points="605.5,433.3 613.3,489.0 621.2,433.3" stroke="#e85a5a" stroke-width="0.5" fill="none" opacity="0.40"/><polyline points="484.2,433.0 515.2,467.9 546.2,434.2" stroke="#d84848" stroke-width="0.5" fill="none" opacity="0.35"/><polyline points="583.1,433.6 595.8,476.3 608.5,433.4" stroke="#e23a3a" stroke-width="0.5" fill="none" opacity="0.35"/><polyline points="467.5,432.9 491.8,474.7 516.2,434.0" stroke="#e23a3a" stroke-width="0.5" fill="none" opacity="0.55"/><polyline points="548.4,434.1 561.1,482.0 573.9,434.0" stroke="#e23a3a" stroke-width="0.5" fill="none" opacity="0.57"/><polyline points="467.6,432.9 493.3,473.2 519.0,434.1" stroke="#d84848" stroke-width="0.5" fill="none" opacity="0.60"/><polyline points="470.2,432.9 485.3,469.3 500.5,433.5" stroke="#e89040" stroke-width="0.5" fill="none" opacity="0.40"/><polyline points="480.2,433.0 520.0,466.9 559.9,434.0" stroke="#e23a3a" stroke-width="0.5" fill="none" opacity="0.65"/><polyline points="503.7,433.6 540.5,477.1 577.3,433.9" stroke="#d84848" stroke-width="0.5" fill="none" opacity="0.37"/><polyline points="506.0,433.7 534.9,472.1 563.9,434.0" stroke="#e89040" stroke-width="0.5" fill="none" opacity="0.59"/><polyline points="601.8,433.2 611.5,483.4 621.2,433.3" stroke="#e23a3a" stroke-width="0.5" fill="none" opacity="0.51"/><polyline points="500.9,433.6 540.5,473.4 580.0,433.7" stroke="#e23a3a" stroke-width="0.5" fill="none" opacity="0.48"/><polyline points="565.8,434.0 571.9,482.8 577.9,433.8" stroke="#e23a3a" stroke-width="0.5" fill="none" opacity="0.51"/><polyline points="519.6,434.1 528.6,471.0 537.7,434.4" stroke="#e23a3a" stroke-width="0.5" fill="none" opacity="0.53"/><polyline points="468.5,432.9 487.5,470.3 506.4,433.7" stroke="#e85a5a" stroke-width="0.5" fill="none" opacity="0.52"/><polyline points="573.0,434.0 587.4,477.3 601.8,433.2" stroke="#e85a5a" stroke-width="0.5" fill="none" opacity="0.58"/><polyline points="461.8,432.8 493.7,470.1 525.5,434.3" stroke="#e89040" stroke-width="0.5" fill="none" opacity="0.55"/><polyline points="484.4,433.0 500.3,468.3 516.2,434.0" stroke="#e23a3a" stroke-width="0.5" fill="none" opacity="0.36"/><polyline points="589.0,433.3 622.5,495.3 656.0,431.9" stroke="#e23a3a" stroke-width="0.5" fill="none" opacity="0.70"/><polyline points="565.3,434.0 571.7,483.3 578.1,433.8" stroke="#e23a3a" stroke-width="0.5" fill="none" opacity="0.63"/><polyline points="517.5,434.1 524.0,469.1 530.5,434.4" stroke="#e23a3a" stroke-width="0.5" fill="none" opacity="0.40"/><polyline points="554.2,434.0 564.9,482.6 575.5,433.9" stroke="#d84848" stroke-width="0.5" fill="none" opacity="0.45"/><polyline points="476.8,432.9 497.1,473.1 517.3,434.1" stroke="#d84848" stroke-width="0.5" fill="none" opacity="0.62"/><polyline points="501.4,433.6 537.5,476.4 573.7,434.0" stroke="#6a70c8" stroke-width="0.5" fill="none" opacity="0.45"/><polyline points="543.6,434.3 570.3,480.7 597.0,433.1" stroke="#e23a3a" stroke-width="0.5" fill="none" opacity="0.45"/><polyline points="465.5,432.8 498.7,467.1 531.8,434.4" stroke="#e23a3a" stroke-width="0.5" fill="none" opacity="0.62"/><polyline points="506.6,433.7 513.0,473.8 519.5,434.1" stroke="#e85a5a" stroke-width="0.5" fill="none" opacity="0.56"/><polyline points="553.5,434.0 562.4,478.0 571.2,434.0" stroke="#d84848" stroke-width="0.5" fill="none" opacity="0.68"/><polyline points="522.8,434.2 560.8,482.3 598.8,433.1" stroke="#d84848" stroke-width="0.5" fill="none" opacity="0.66"/><polyline points="538.4,434.4 562.2,478.0 586.0,433.4" stroke="#e89040" stroke-width="0.5" fill="none" opacity="0.37"/><polyline points="552.8,434.0 577.2,481.2 601.7,433.2" stroke="#6a70c8" stroke-width="0.5" fill="none" opacity="0.43"/><polyline points="490.7,433.2 500.0,470.1 509.4,433.8" stroke="#e23a3a" stroke-width="0.5" fill="none" opacity="0.52"/><polyline points="568.5,434.0 576.3,478.4 584.1,433.5" stroke="#e23a3a" stroke-width="0.5" fill="none" opacity="0.44"/><polyline points="530.5,434.4 549.1,471.7 567.7,434.0" stroke="#d84848" stroke-width="0.5" fill="none" opacity="0.57"/><polyline points="605.6,433.3 612.8,486.7 620.0,433.4" stroke="#d84848" stroke-width="0.5" fill="none" opacity="0.37"/><polyline points="515.6,434.0 541.6,478.1 567.6,434.0" stroke="#e23a3a" stroke-width="0.5" fill="none" opacity="0.56"/><polyline points="498.5,433.5 506.7,471.8 514.9,434.0" stroke="#e85a5a" stroke-width="0.5" fill="none" opacity="0.54"/><polyline points="521.6,434.2 551.5,480.1 581.5,433.6" stroke="#e23a3a" stroke-width="0.5" fill="none" opacity="0.62"/><polyline points="441.9,432.8 480.4,470.6 518.8,434.1" stroke="#e85a5a" stroke-width="0.5" fill="none" opacity="0.70"/><polyline points="596.6,433.1 606.2,484.6 615.8,433.5" stroke="#e23a3a" stroke-width="0.5" fill="none" opacity="0.51"/><polyline points="459.9,432.8 498.8,473.5 537.7,434.4" stroke="#e23a3a" stroke-width="0.5" fill="none" opacity="0.39"/><polyline points="583.1,433.6 622.3,494.3 661.5,431.5" stroke="#6a70c8" stroke-width="0.5" fill="none" opacity="0.36"/><polyline points="561.9,434.0 574.7,476.0 587.6,433.3" stroke="#e23a3a" stroke-width="0.5" fill="none" opacity="0.43"/><polyline points="494.6,433.3 518.2,474.0 541.8,434.3" stroke="#e85a5a" stroke-width="0.5" fill="none" opacity="0.44"/><polyline points="533.7,434.5 572.3,479.2 611.0,433.4" stroke="#e85a5a" stroke-width="0.5" fill="none" opacity="0.37"/><polyline points="482.5,433.0 517.4,470.3 552.4,434.1" stroke="#e23a3a" stroke-width="0.5" fill="none" opacity="0.57"/><polyline points="572.6,434.0 583.1,483.5 593.6,433.0" stroke="#e23a3a" stroke-width="0.5" fill="none" opacity="0.69"/><polyline points="562.5,434.0 599.1,475.6 635.8,432.9" stroke="#e23a3a" stroke-width="0.5" fill="none" opacity="0.69"/><polyline points="476.7,432.9 493.5,472.5 510.3,433.9" stroke="#d84848" stroke-width="0.5" fill="none" opacity="0.46"/><polyline points="529.1,434.4 565.1,475.4 601.0,433.2" stroke="#e85a5a" stroke-width="0.5" fill="none" opacity="0.42"/><polyline points="499.6,433.5 521.3,470.5 543.0,434.3" stroke="#d84848" stroke-width="0.5" fill="none" opacity="0.51"/><polyline points="520.6,434.2 537.8,477.5 555.1,434.0" stroke="#e23a3a" stroke-width="0.5" fill="none" opacity="0.41"/><polyline points="549.7,434.1 562.1,476.4 574.5,434.0" stroke="#6a70c8" stroke-width="0.5" fill="none" opacity="0.66"/><polyline points="614.2,433.5 623.2,488.9 632.1,433.1" stroke="#d84848" stroke-width="0.5" fill="none" opacity="0.56"/><polyline points="593.9,433.0 622.7,494.2 651.5,432.1" stroke="#6a70c8" stroke-width="0.5" fill="none" opacity="0.54"/><polyline points="523.6,434.2 530.3,471.8 536.9,434.4" stroke="#e85a5a" stroke-width="0.5" fill="none" opacity="0.43"/><polyline points="558.1,434.0 590.1,476.7 622.1,433.3" stroke="#d84848" stroke-width="0.5" fill="none" opacity="0.38"/><polyline points="572.9,434.0 588.5,479.1 604.2,433.2" stroke="#e23a3a" stroke-width="0.5" fill="none" opacity="0.43"/><polyline points="612.5,433.5 629.2,497.1 645.9,432.4" stroke="#e23a3a" stroke-width="0.5" fill="none" opacity="0.41"/><polyline points="459.7,432.8 493.7,465.8 527.7,434.3" stroke="#6a70c8" stroke-width="0.5" fill="none" opacity="0.64"/><polyline points="512.6,433.9 538.5,470.3 564.5,434.0" stroke="#d84848" stroke-width="0.5" fill="none" opacity="0.59"/><polyline points="518.7,434.1 533.9,474.3 549.1,434.1" stroke="#e85a5a" stroke-width="0.5" fill="none" opacity="0.55"/><polyline points="568.7,434.0 601.1,482.8 633.6,433.0" stroke="#e23a3a" stroke-width="0.5" fill="none" opacity="0.35"/><polyline points="576.9,433.9 583.5,479.6 590.2,433.2" stroke="#e89040" stroke-width="0.5" fill="none" opacity="0.61"/><polyline points="505.0,433.7 544.3,478.5 583.5,433.5" stroke="#e23a3a" stroke-width="0.5" fill="none" opacity="0.40"/><polyline points="518.9,434.1 548.0,478.0 577.1,433.9" stroke="#e23a3a" stroke-width="0.5" fill="none" opacity="0.40"/><polyline points="551.4,434.1 582.7,483.4 614.0,433.5" stroke="#e23a3a" stroke-width="0.5" fill="none" opacity="0.68"/><polyline points="470.7,432.9 483.1,468.7 495.4,433.4" stroke="#6a70c8" stroke-width="0.5" fill="none" opacity="0.62"/><polyline points="530.7,434.4 548.3,473.4 565.9,434.0" stroke="#e23a3a" stroke-width="0.5" fill="none" opacity="0.67"/><polyline points="499.2,433.5 512.1,469.1 525.0,434.3" stroke="#e85a5a" stroke-width="0.5" fill="none" opacity="0.35"/><polyline points="556.1,434.0 563.8,476.2 571.5,434.0" stroke="#e23a3a" stroke-width="0.5" fill="none" opacity="0.52"/><polyline points="454.9,432.8 488.4,471.6 521.8,434.2" stroke="#e85a5a" stroke-width="0.5" fill="none" opacity="0.50"/><polyline points="577.5,433.8 590.0,483.0 602.5,433.2" stroke="#e23a3a" stroke-width="0.5" fill="none" opacity="0.69"/><polyline points="474.0,432.9 492.0,466.9 510.1,433.9" stroke="#e89040" stroke-width="0.5" fill="none" opacity="0.51"/><polyline points="527.4,434.3 559.3,482.2 591.2,433.2" stroke="#6a70c8" stroke-width="0.5" fill="none" opacity="0.54"/><polyline points="542.3,434.3 581.4,482.3 620.6,433.3" stroke="#e23a3a" stroke-width="0.5" fill="none" opacity="0.60"/><polyline points="529.6,434.4 568.6,477.9 607.6,433.3" stroke="#e23a3a" stroke-width="0.5" fill="none" opacity="0.45"/><polyline points="482.7,433.0 498.9,474.2 515.0,434.0" stroke="#e85a5a" stroke-width="0.5" fill="none" opacity="0.64"/><polyline points="494.7,433.3 516.5,469.4 538.3,434.4" stroke="#e23a3a" stroke-width="0.5" fill="none" opacity="0.41"/><polyline points="475.5,432.9 501.0,472.8 526.5,434.3" stroke="#6a70c8" stroke-width="0.5" fill="none" opacity="0.63"/><polyline points="601.3,433.2 620.2,489.7 639.2,432.8" stroke="#d84848" stroke-width="0.5" fill="none" opacity="0.40"/><polyline points="498.3,433.5 537.0,474.3 575.6,433.9" stroke="#e23a3a" stroke-width="0.5" fill="none" opacity="0.50"/><polyline points="558.9,434.0 593.3,478.0 627.8,433.2" stroke="#d84848" stroke-width="0.5" fill="none" opacity="0.38"/><polyline points="602.6,433.2 626.3,495.5 650.0,432.2" stroke="#d84848" stroke-width="0.5" fill="none" opacity="0.62"/><polyline points="584.6,433.5 608.8,480.5 633.1,433.0" stroke="#6a70c8" stroke-width="0.5" fill="none" opacity="0.37"/><polyline points="543.2,434.3 559.8,474.7 576.4,433.9" stroke="#e23a3a" stroke-width="0.5" fill="none" opacity="0.65"/><polyline points="478.8,433.0 509.3,472.9 539.8,434.4" stroke="#e23a3a" stroke-width="0.5" fill="none" opacity="0.43"/><polyline points="478.6,433.0 506.3,466.5 533.9,434.5" stroke="#e23a3a" stroke-width="0.5" fill="none" opacity="0.68"/><polyline points="507.2,433.8 532.2,475.5 557.3,434.0" stroke="#6a70c8" stroke-width="0.5" fill="none" opacity="0.36"/><polyline points="579.2,433.8 592.3,483.5 605.5,433.3" stroke="#e23a3a" stroke-width="0.5" fill="none" opacity="0.44"/><polyline points="593.0,433.1 613.9,489.5 634.8,433.0" stroke="#e89040" stroke-width="0.5" fill="none" opacity="0.60"/><polyline points="460.6,432.8 490.6,468.6 520.6,434.2" stroke="#e23a3a" stroke-width="0.5" fill="none" opacity="0.37"/><polyline points="543.2,434.3 566.5,476.1 589.7,433.2" stroke="#e23a3a" stroke-width="0.5" fill="none" opacity="0.60"/><polyline points="480.6,433.0 508.4,468.6 536.2,434.5" stroke="#d84848" stroke-width="0.5" fill="none" opacity="0.66"/><polyline points="445.1,432.8 484.3,472.8 523.4,434.2" stroke="#e85a5a" stroke-width="0.5" fill="none" opacity="0.45"/><polyline points="506.4,433.7 545.7,475.8 584.9,433.5" stroke="#e89040" stroke-width="0.5" fill="none" opacity="0.39"/><polyline points="579.6,433.7 613.5,486.4 647.4,432.3" stroke="#e23a3a" stroke-width="0.5" fill="none" opacity="0.49"/><polyline points="516.0,434.0 534.8,468.4 553.5,434.0" stroke="#e89040" stroke-width="0.5" fill="none" opacity="0.49"/><polyline points="612.4,433.5 624.6,491.9 636.9,432.9" stroke="#e89040" stroke-width="0.5" fill="none" opacity="0.60"/><polyline points="505.5,433.7 528.3,473.8 551.1,434.1" stroke="#e23a3a" stroke-width="0.5" fill="none" opacity="0.49"/><polyline points="584.3,433.5 623.4,489.1 662.5,431.5" stroke="#e85a5a" stroke-width="0.5" fill="none" opacity="0.41"/><polyline points="467.7,432.9 483.6,475.6 499.5,433.5" stroke="#e23a3a" stroke-width="0.5" fill="none" opacity="0.56"/><polyline points="459.0,432.8 479.9,475.1 500.9,433.6" stroke="#d84848" stroke-width="0.5" fill="none" opacity="0.45"/><polyline points="614.7,433.5 627.1,489.9 639.4,432.7" stroke="#d84848" stroke-width="0.5" fill="none" opacity="0.53"/><polyline points="490.9,433.2 526.1,472.6 561.3,434.0" stroke="#e23a3a" stroke-width="0.5" fill="none" opacity="0.42"/><polyline points="523.0,434.2 551.3,476.5 579.5,433.7" stroke="#e89040" stroke-width="0.5" fill="none" opacity="0.53"/><polyline points="585.7,433.4 625.0,493.2 664.3,431.5" stroke="#e89040" stroke-width="0.5" fill="none" opacity="0.51"/><polyline points="541.6,434.3 569.2,479.5 596.8,433.1" stroke="#e23a3a" stroke-width="0.5" fill="none" opacity="0.38"/><polyline points="559.6,434.0 594.2,480.9 628.8,433.1" stroke="#e89040" stroke-width="0.5" fill="none" opacity="0.52"/><polyline points="544.7,434.2 568.8,482.5 592.9,433.1" stroke="#6a70c8" stroke-width="0.5" fill="none" opacity="0.52"/><polyline points="519.2,434.1 542.1,477.8 565.0,434.0" stroke="#d84848" stroke-width="0.5" fill="none" opacity="0.35"/><polyline points="492.7,433.3 522.6,475.4 552.4,434.0" stroke="#d84848" stroke-width="0.5" fill="none" opacity="0.59"/><polyline points="584.1,433.5 595.9,483.9 607.7,433.3" stroke="#e89040" stroke-width="0.5" fill="none" opacity="0.47"/><polyline points="555.5,434.0 591.6,475.4 627.7,433.2" stroke="#e23a3a" stroke-width="0.5" fill="none" opacity="0.46"/><polyline points="476.2,432.9 505.9,472.1 535.5,434.5" stroke="#6a70c8" stroke-width="0.5" fill="none" opacity="0.46"/><polyline points="515.9,434.0 551.9,478.0 587.9,433.3" stroke="#6a70c8" stroke-width="0.5" fill="none" opacity="0.45"/><polyline points="468.3,432.9 493.4,472.1 518.5,434.1" stroke="#e23a3a" stroke-width="0.5" fill="none" opacity="0.56"/><polyline points="594.2,433.0 602.5,481.6 610.9,433.4" stroke="#e85a5a" stroke-width="0.5" fill="none" opacity="0.45"/><polyline points="513.2,434.0 536.5,468.8 559.9,434.0" stroke="#e23a3a" stroke-width="0.5" fill="none" opacity="0.64"/><polyline points="588.4,433.3 613.9,492.0 639.4,432.8" stroke="#e89040" stroke-width="0.5" fill="none" opacity="0.58"/><polyline points="617.5,433.4 623.8,489.7 630.1,433.1" stroke="#e89040" stroke-width="0.5" fill="none" opacity="0.37"/><polyline points="579.7,433.7 591.1,483.2 602.5,433.2" stroke="#e23a3a" stroke-width="0.5" fill="none" opacity="0.39"/><polyline points="598.5,433.1 609.9,484.6 621.3,433.3" stroke="#e23a3a" stroke-width="0.5" fill="none" opacity="0.43"/><polyline points="548.1,434.2 587.2,477.2 626.3,433.2" stroke="#e85a5a" stroke-width="0.5" fill="none" opacity="0.55"/><polyline points="469.8,432.9 508.7,469.1 547.5,434.2" stroke="#e85a5a" stroke-width="0.5" fill="none" opacity="0.44"/><polyline points="570.7,434.0 585.4,475.0 600.1,433.1" stroke="#6a70c8" stroke-width="0.5" fill="none" opacity="0.61"/><polyline points="567.3,434.0 593.8,480.5 620.4,433.3" stroke="#e85a5a" stroke-width="0.5" fill="none" opacity="0.52"/><polyline points="537.2,434.4 570.7,480.3 604.2,433.2" stroke="#d84848" stroke-width="0.5" fill="none" opacity="0.67"/><polyline points="516.3,434.0 529.8,469.5 543.3,434.3" stroke="#e23a3a" stroke-width="0.5" fill="none" opacity="0.48"/><polyline points="612.3,433.4 621.1,496.2 630.0,433.1" stroke="#e23a3a" stroke-width="0.5" fill="none" opacity="0.55"/><polyline points="595.6,433.0 623.6,491.6 651.5,432.1" stroke="#d84848" stroke-width="0.5" fill="none" opacity="0.66"/><polyline points="595.0,433.0 622.2,495.4 649.5,432.2" stroke="#d84848" stroke-width="0.5" fill="none" opacity="0.47"/><polyline points="519.3,434.1 535.3,475.6 551.2,434.1" stroke="#d84848" stroke-width="0.5" fill="none" opacity="0.41"/><polyline points="594.1,433.0 604.2,484.3 614.4,433.5" stroke="#e23a3a" stroke-width="0.5" fill="none" opacity="0.63"/><polyline points="452.2,432.8 481.7,470.3 511.2,433.9" stroke="#6a70c8" stroke-width="0.5" fill="none" opacity="0.67"/><polyline points="468.4,432.9 498.7,468.3 529.0,434.4" stroke="#d84848" stroke-width="0.5" fill="none" opacity="0.58"/><polyline points="479.3,433.0 490.4,474.1 501.4,433.6" stroke="#d84848" stroke-width="0.5" fill="none" opacity="0.40"/><polyline points="537.0,434.4 551.9,477.6 566.7,434.0" stroke="#e23a3a" stroke-width="0.5" fill="none" opacity="0.55"/><polyline points="549.6,434.1 577.6,483.9 605.6,433.3" stroke="#e89040" stroke-width="0.5" fill="none" opacity="0.52"/><polyline points="552.9,434.0 564.5,477.4 576.1,433.9" stroke="#e23a3a" stroke-width="0.5" fill="none" opacity="0.68"/><polyline points="509.7,433.8 521.3,473.0 532.9,434.5" stroke="#e23a3a" stroke-width="0.5" fill="none" opacity="0.61"/><polyline points="596.2,433.0 608.7,482.6 621.2,433.3" stroke="#6a70c8" stroke-width="0.5" fill="none" opacity="0.35"/>
<polygon points="459.9,432.8 484.4,433.0 514.4,434.0 534.4,434.5 554.4,434.0 574.4,434.0 594.4,433.0 614.4,433.5 634.4,433.0 654.4,432.0 661.2,431.5 661.5,458.0 459.9,458.0" fill="url(#g30)" opacity="0.72"/>
<g filter="url(#bl1)">
<ellipse cx="455.0" cy="436" rx="4.6" ry="1.5" fill="#1a22c0" opacity="0.09"/>
<ellipse cx="465.5" cy="436" rx="4.6" ry="1.5" fill="#c41a12" opacity="0.09"/>
<ellipse cx="476.1" cy="436" rx="4.6" ry="1.5" fill="#1a22c0" opacity="0.23"/>
<ellipse cx="486.6" cy="436" rx="4.6" ry="1.5" fill="#c41a12" opacity="0.35"/>
<ellipse cx="497.2" cy="436" rx="4.6" ry="1.5" fill="#1a22c0" opacity="0.35"/>
<ellipse cx="507.7" cy="436" rx="4.6" ry="1.5" fill="#c41a12" opacity="0.35"/>
<ellipse cx="518.2" cy="436" rx="4.6" ry="1.5" fill="#1a22c0" opacity="0.35"/>
<ellipse cx="528.8" cy="436" rx="4.6" ry="1.5" fill="#c41a12" opacity="0.35"/>
<ellipse cx="539.4" cy="436" rx="4.6" ry="1.5" fill="#1a22c0" opacity="0.35"/>
<ellipse cx="549.9" cy="436" rx="4.6" ry="1.5" fill="#c41a12" opacity="0.35"/>
<ellipse cx="560.5" cy="436" rx="4.6" ry="1.5" fill="#1a22c0" opacity="0.35"/>
<ellipse cx="571.0" cy="436" rx="4.6" ry="1.5" fill="#c41a12" opacity="0.35"/>
<ellipse cx="581.6" cy="436" rx="4.6" ry="1.5" fill="#1a22c0" opacity="0.35"/>
<ellipse cx="592.1" cy="436" rx="4.6" ry="1.5" fill="#c41a12" opacity="0.35"/>
<ellipse cx="602.7" cy="436" rx="4.6" ry="1.5" fill="#1a22c0" opacity="0.35"/>
<ellipse cx="613.2" cy="436" rx="4.6" ry="1.5" fill="#c41a12" opacity="0.35"/>
<ellipse cx="623.8" cy="436" rx="4.6" ry="1.5" fill="#1a22c0" opacity="0.35"/>
<ellipse cx="634.3" cy="436" rx="4.6" ry="1.5" fill="#c41a12" opacity="0.35"/>
<ellipse cx="644.9" cy="436" rx="4.6" ry="1.5" fill="#1a22c0" opacity="0.23"/>
<ellipse cx="655.4" cy="436" rx="4.6" ry="1.5" fill="#c41a12" opacity="0.09"/>
<ellipse cx="666.0" cy="436" rx="4.6" ry="1.5" fill="#1a22c0" opacity="0.09"/>
<ellipse cx="455.0" cy="441.7" rx="4.6" ry="2.5" fill="#c41a12" opacity="0.23"/>
<ellipse cx="465.5" cy="441.7" rx="4.6" ry="2.5" fill="#1a22c0" opacity="0.23"/>
<ellipse cx="476.1" cy="441.7" rx="4.6" ry="2.5" fill="#c41a12" opacity="0.58"/>
<ellipse cx="486.6" cy="441.7" rx="4.6" ry="2.5" fill="#1a22c0" opacity="0.90"/>
<ellipse cx="497.2" cy="441.7" rx="4.6" ry="2.5" fill="#c41a12" opacity="0.90"/>
<ellipse cx="507.7" cy="441.7" rx="4.6" ry="2.5" fill="#1a22c0" opacity="0.90"/>
<ellipse cx="518.2" cy="441.7" rx="4.6" ry="2.5" fill="#c41a12" opacity="0.90"/>
<ellipse cx="528.8" cy="441.7" rx="4.6" ry="2.5" fill="#1a22c0" opacity="0.90"/>
<ellipse cx="539.4" cy="441.7" rx="4.6" ry="2.5" fill="#c41a12" opacity="0.90"/>
<ellipse cx="549.9" cy="441.7" rx="4.6" ry="2.5" fill="#1a22c0" opacity="0.90"/>
<ellipse cx="560.5" cy="441.7" rx="4.6" ry="2.5" fill="#c41a12" opacity="0.90"/>
<ellipse cx="571.0" cy="441.7" rx="4.6" ry="2.5" fill="#1a22c0" opacity="0.90"/>
<ellipse cx="581.6" cy="441.7" rx="4.6" ry="2.5" fill="#c41a12" opacity="0.90"/>
<ellipse cx="592.1" cy="441.7" rx="4.6" ry="2.5" fill="#1a22c0" opacity="0.90"/>
<ellipse cx="602.7" cy="441.7" rx="4.6" ry="2.5" fill="#c41a12" opacity="0.90"/>
<ellipse cx="613.2" cy="441.7" rx="4.6" ry="2.5" fill="#1a22c0" opacity="0.90"/>
<ellipse cx="623.8" cy="441.7" rx="4.6" ry="2.5" fill="#c41a12" opacity="0.90"/>
<ellipse cx="634.3" cy="441.7" rx="4.6" ry="2.5" fill="#1a22c0" opacity="0.90"/>
<ellipse cx="644.9" cy="441.7" rx="4.6" ry="2.5" fill="#c41a12" opacity="0.60"/>
<ellipse cx="655.4" cy="441.7" rx="4.6" ry="2.5" fill="#1a22c0" opacity="0.23"/>
<ellipse cx="666.0" cy="441.7" rx="4.6" ry="2.5" fill="#c41a12" opacity="0.23"/>
<ellipse cx="455.0" cy="449.2" rx="4.6" ry="3.1" fill="#1a22c0" opacity="0.25"/>
<ellipse cx="465.5" cy="449.2" rx="4.6" ry="3.1" fill="#c41a12" opacity="0.25"/>
<ellipse cx="476.1" cy="449.2" rx="4.6" ry="3.1" fill="#1a22c0" opacity="0.65"/>
<ellipse cx="486.6" cy="449.2" rx="4.6" ry="3.1" fill="#c41a12" opacity="1.00"/>
<ellipse cx="497.2" cy="449.2" rx="4.6" ry="3.1" fill="#1a22c0" opacity="1.00"/>
<ellipse cx="507.7" cy="449.2" rx="4.6" ry="3.1" fill="#c41a12" opacity="1.00"/>
<ellipse cx="518.2" cy="449.2" rx="4.6" ry="3.1" fill="#1a22c0" opacity="1.00"/>
<ellipse cx="528.8" cy="449.2" rx="4.6" ry="3.1" fill="#c41a12" opacity="1.00"/>
<ellipse cx="539.4" cy="449.2" rx="4.6" ry="3.1" fill="#1a22c0" opacity="1.00"/>
<ellipse cx="549.9" cy="449.2" rx="4.6" ry="3.1" fill="#c41a12" opacity="1.00"/>
<ellipse cx="560.5" cy="449.2" rx="4.6" ry="3.1" fill="#1a22c0" opacity="1.00"/>
<ellipse cx="571.0" cy="449.2" rx="4.6" ry="3.1" fill="#c41a12" opacity="1.00"/>
<ellipse cx="581.6" cy="449.2" rx="4.6" ry="3.1" fill="#1a22c0" opacity="1.00"/>
<ellipse cx="592.1" cy="449.2" rx="4.6" ry="3.1" fill="#c41a12" opacity="1.00"/>
<ellipse cx="602.7" cy="449.2" rx="4.6" ry="3.1" fill="#1a22c0" opacity="1.00"/>
<ellipse cx="613.2" cy="449.2" rx="4.6" ry="3.1" fill="#c41a12" opacity="1.00"/>
<ellipse cx="623.8" cy="449.2" rx="4.6" ry="3.1" fill="#1a22c0" opacity="1.00"/>
<ellipse cx="634.3" cy="449.2" rx="4.6" ry="3.1" fill="#c41a12" opacity="1.00"/>
<ellipse cx="644.9" cy="449.2" rx="4.6" ry="3.1" fill="#1a22c0" opacity="0.67"/>
<ellipse cx="655.4" cy="449.2" rx="4.6" ry="3.1" fill="#c41a12" opacity="0.25"/>
<ellipse cx="666.0" cy="449.2" rx="4.6" ry="3.1" fill="#1a22c0" opacity="0.25"/>
<ellipse cx="455.0" cy="457.5" rx="4.6" ry="2.8" fill="#c41a12" opacity="0.07"/>
<ellipse cx="465.5" cy="457.5" rx="4.6" ry="2.8" fill="#1a22c0" opacity="0.07"/>
<ellipse cx="476.1" cy="457.5" rx="4.6" ry="2.8" fill="#c41a12" opacity="0.19"/>
<ellipse cx="486.6" cy="457.5" rx="4.6" ry="2.8" fill="#1a22c0" opacity="0.30"/>
<ellipse cx="497.2" cy="457.5" rx="4.6" ry="2.8" fill="#c41a12" opacity="0.30"/>
<ellipse cx="507.7" cy="457.5" rx="4.6" ry="2.8" fill="#1a22c0" opacity="0.30"/>
<ellipse cx="518.2" cy="457.5" rx="4.6" ry="2.8" fill="#c41a12" opacity="0.30"/>
<ellipse cx="528.8" cy="457.5" rx="4.6" ry="2.8" fill="#1a22c0" opacity="0.30"/>
<ellipse cx="539.4" cy="457.5" rx="4.6" ry="2.8" fill="#c41a12" opacity="0.30"/>
<ellipse cx="549.9" cy="457.5" rx="4.6" ry="2.8" fill="#1a22c0" opacity="0.30"/>
<ellipse cx="560.5" cy="457.5" rx="4.6" ry="2.8" fill="#c41a12" opacity="0.30"/>
<ellipse cx="571.0" cy="457.5" rx="4.6" ry="2.8" fill="#1a22c0" opacity="0.30"/>
<ellipse cx="581.6" cy="457.5" rx="4.6" ry="2.8" fill="#c41a12" opacity="0.30"/>
<ellipse cx="592.1" cy="457.5" rx="4.6" ry="2.8" fill="#1a22c0" opacity="0.30"/>
<ellipse cx="602.7" cy="457.5" rx="4.6" ry="2.8" fill="#c41a12" opacity="0.30"/>
<ellipse cx="613.2" cy="457.5" rx="4.6" ry="2.8" fill="#1a22c0" opacity="0.30"/>
<ellipse cx="623.8" cy="457.5" rx="4.6" ry="2.8" fill="#c41a12" opacity="0.30"/>
<ellipse cx="634.3" cy="457.5" rx="4.6" ry="2.8" fill="#1a22c0" opacity="0.30"/>
<ellipse cx="644.9" cy="457.5" rx="4.6" ry="2.8" fill="#c41a12" opacity="0.20"/>
<ellipse cx="655.4" cy="457.5" rx="4.6" ry="2.8" fill="#1a22c0" opacity="0.07"/>
<ellipse cx="666.0" cy="457.5" rx="4.6" ry="2.8" fill="#c41a12" opacity="0.07"/>
</g></g>
<polyline points="459.9,476.3 469.8,474.3 479.7,475.0 497.4,473.4 515.0,474.5 533.0,476.0 548.9,479.3 567.0,482.8 600.6,483.0 611.0,490.0 622.3,496.7 661.5,497.7" fill="none" stroke="#222" stroke-width="0.9" stroke-dasharray="2,1.6"/>
<line x1="459.9" y1="465.5" x2="661.5" y2="465.5" stroke="#555" stroke-width="0.4" opacity="0.6"/>
<line x1="459.9" y1="482.5" x2="661.5" y2="482.5" stroke="#555" stroke-width="0.4" opacity="0.6"/>
<line x1="459.9" y1="500.5" x2="661.5" y2="500.5" stroke="#555" stroke-width="0.4" opacity="0.6"/>
<line x1="536.4" y1="427.5" x2="536.4" y2="505" stroke="#666" stroke-width="0.5" opacity="0.8"/>
<g filter="url(#bl2)" opacity="0.4">
<polygon points="495.0,468.0 520.0,460.0 560.0,460.0 598.0,468.0 606.0,481.0 580.0,481.0 550.0,478.0 520.0,476.0 497.0,475.0" fill="#e85050" />
</g>
<text x="671.6" y="433.612" font-family='"Liberation Sans", sans-serif' font-size="9.2" font-weight="normal" text-anchor="end" fill="#000">0</text>
<text x="671.6" y="450.512" font-family='"Liberation Sans", sans-serif' font-size="9.2" font-weight="normal" text-anchor="end" fill="#000">5</text>
<text x="671.6" y="468.112" font-family='"Liberation Sans", sans-serif' font-size="9.2" font-weight="normal" text-anchor="end" fill="#000">10</text>
<text x="671.6" y="485.512" font-family='"Liberation Sans", sans-serif' font-size="9.2" font-weight="normal" text-anchor="end" fill="#000">15</text>
<text x="671.6" y="502.712" font-family='"Liberation Sans", sans-serif' font-size="9.2" font-weight="normal" text-anchor="end" fill="#000">20</text>
<text x="677.6" y="462" font-family='"Liberation Sans", sans-serif' font-size="7.6" font-weight="normal" text-anchor="middle" fill="#000" transform="rotate(90 677.6 462)">depth (km)</text></svg></body></html>
